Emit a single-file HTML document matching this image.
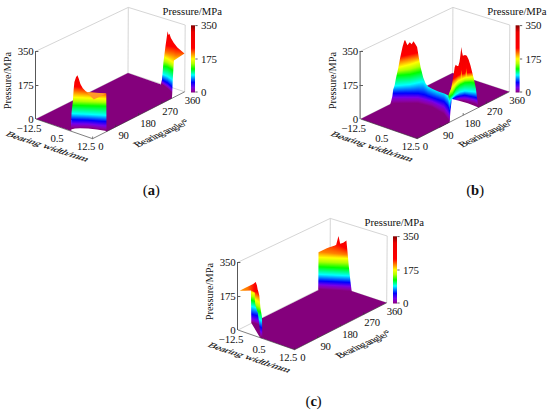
<!DOCTYPE html>
<html lang="en">
<head>
<meta charset="utf-8">
<title>Pressure distribution</title>
<style>
html,body{margin:0;padding:0;background:#fff;}
body{width:550px;height:412px;overflow:hidden;}
svg{display:block;font-family:'Liberation Serif', 'DejaVu Serif', serif;fill:#111;}
</style>
</head>
<body>
<svg width="550" height="412" viewBox="0 0 550 412">
<defs>
<linearGradient id="cbar" x1="0" y1="0" x2="0" y2="1"><stop offset="0.000" stop-color="#800000"/><stop offset="0.100" stop-color="#ec0000"/><stop offset="0.340" stop-color="#ff0000"/><stop offset="0.420" stop-color="#ff8000"/><stop offset="0.500" stop-color="#ffff00"/><stop offset="0.570" stop-color="#afff00"/><stop offset="0.650" stop-color="#00ff00"/><stop offset="0.740" stop-color="#00ffff"/><stop offset="0.850" stop-color="#0000ff"/><stop offset="0.925" stop-color="#7600eb"/><stop offset="0.970" stop-color="#8c00aa"/><stop offset="1.000" stop-color="#84007c"/></linearGradient>
<clipPath id="c_a1"><polygon points="70.8,129.5 71.6,112.0 72.8,102.0 73.6,90.0 74.4,82.0 76.0,77.2 77.4,75.2 78.8,78.8 80.4,84.0 82.8,88.2 86.0,91.6 88.5,92.6 106.3,93.6 106.5,131.0 97.0,129.6 88.2,128.5 80.0,128.2 75.0,128.6 70.8,129.5"/></clipPath>
<linearGradient id="g1" gradientUnits="userSpaceOnUse" x1="0" y1="74" x2="0" y2="132"><stop offset="0.000" stop-color="#800000"/><stop offset="0.000" stop-color="#ec0000"/><stop offset="0.000" stop-color="#ef0000"/><stop offset="0.210" stop-color="#ff0000"/><stop offset="0.300" stop-color="#ff8000"/><stop offset="0.400" stop-color="#ffff00"/><stop offset="0.465" stop-color="#afff00"/><stop offset="0.540" stop-color="#00ff00"/><stop offset="0.681" stop-color="#00ffff"/><stop offset="0.786" stop-color="#0000ff"/><stop offset="0.858" stop-color="#7600eb"/><stop offset="0.872" stop-color="#7d00d5"/><stop offset="0.907" stop-color="#8c00aa"/><stop offset="0.941" stop-color="#84007c"/></linearGradient>
<linearGradient id="g2" gradientUnits="userSpaceOnUse" x1="0" y1="74" x2="0" y2="132"><stop offset="0.000" stop-color="#800000"/><stop offset="0.000" stop-color="#ec0000"/><stop offset="0.000" stop-color="#ef0000"/><stop offset="0.211" stop-color="#ff0000"/><stop offset="0.301" stop-color="#ff8000"/><stop offset="0.400" stop-color="#ffff00"/><stop offset="0.466" stop-color="#afff00"/><stop offset="0.540" stop-color="#00ff00"/><stop offset="0.681" stop-color="#00ffff"/><stop offset="0.787" stop-color="#0000ff"/><stop offset="0.858" stop-color="#7600eb"/><stop offset="0.873" stop-color="#7d00d5"/><stop offset="0.907" stop-color="#8c00aa"/><stop offset="0.941" stop-color="#84007c"/></linearGradient>
<linearGradient id="g3" gradientUnits="userSpaceOnUse" x1="0" y1="74" x2="0" y2="132"><stop offset="0.000" stop-color="#800000"/><stop offset="0.000" stop-color="#ec0000"/><stop offset="0.000" stop-color="#ef0000"/><stop offset="0.213" stop-color="#ff0000"/><stop offset="0.303" stop-color="#ff8000"/><stop offset="0.401" stop-color="#ffff00"/><stop offset="0.466" stop-color="#afff00"/><stop offset="0.540" stop-color="#00ff00"/><stop offset="0.682" stop-color="#00ffff"/><stop offset="0.787" stop-color="#0000ff"/><stop offset="0.858" stop-color="#7600eb"/><stop offset="0.873" stop-color="#7d00d5"/><stop offset="0.907" stop-color="#8c00aa"/><stop offset="0.940" stop-color="#84007c"/></linearGradient>
<linearGradient id="g4" gradientUnits="userSpaceOnUse" x1="0" y1="74" x2="0" y2="132"><stop offset="0.000" stop-color="#800000"/><stop offset="0.000" stop-color="#ec0000"/><stop offset="0.000" stop-color="#ef0000"/><stop offset="0.215" stop-color="#ff0000"/><stop offset="0.305" stop-color="#ff8000"/><stop offset="0.402" stop-color="#ffff00"/><stop offset="0.467" stop-color="#afff00"/><stop offset="0.541" stop-color="#00ff00"/><stop offset="0.683" stop-color="#00ffff"/><stop offset="0.788" stop-color="#0000ff"/><stop offset="0.859" stop-color="#7600eb"/><stop offset="0.873" stop-color="#7d00d5"/><stop offset="0.906" stop-color="#8c00aa"/><stop offset="0.940" stop-color="#84007c"/></linearGradient>
<linearGradient id="g5" gradientUnits="userSpaceOnUse" x1="0" y1="74" x2="0" y2="132"><stop offset="0.000" stop-color="#800000"/><stop offset="0.000" stop-color="#ec0000"/><stop offset="0.000" stop-color="#ef0000"/><stop offset="0.217" stop-color="#ff0000"/><stop offset="0.307" stop-color="#ff8000"/><stop offset="0.403" stop-color="#ffff00"/><stop offset="0.468" stop-color="#afff00"/><stop offset="0.541" stop-color="#00ff00"/><stop offset="0.684" stop-color="#00ffff"/><stop offset="0.788" stop-color="#0000ff"/><stop offset="0.859" stop-color="#7600eb"/><stop offset="0.873" stop-color="#7d00d5"/><stop offset="0.906" stop-color="#8c00aa"/><stop offset="0.939" stop-color="#84007c"/></linearGradient>
<linearGradient id="g6" gradientUnits="userSpaceOnUse" x1="0" y1="74" x2="0" y2="132"><stop offset="0.000" stop-color="#800000"/><stop offset="0.000" stop-color="#ec0000"/><stop offset="0.000" stop-color="#ef0000"/><stop offset="0.219" stop-color="#ff0000"/><stop offset="0.309" stop-color="#ff8000"/><stop offset="0.404" stop-color="#ffff00"/><stop offset="0.468" stop-color="#afff00"/><stop offset="0.542" stop-color="#00ff00"/><stop offset="0.685" stop-color="#00ffff"/><stop offset="0.789" stop-color="#0000ff"/><stop offset="0.859" stop-color="#7600eb"/><stop offset="0.873" stop-color="#7d00d5"/><stop offset="0.906" stop-color="#8c00aa"/><stop offset="0.939" stop-color="#84007c"/></linearGradient>
<linearGradient id="g7" gradientUnits="userSpaceOnUse" x1="0" y1="74" x2="0" y2="132"><stop offset="0.000" stop-color="#800000"/><stop offset="0.000" stop-color="#ec0000"/><stop offset="0.000" stop-color="#ef0000"/><stop offset="0.220" stop-color="#ff0000"/><stop offset="0.311" stop-color="#ff8000"/><stop offset="0.404" stop-color="#ffff00"/><stop offset="0.469" stop-color="#afff00"/><stop offset="0.542" stop-color="#00ff00"/><stop offset="0.685" stop-color="#00ffff"/><stop offset="0.790" stop-color="#0000ff"/><stop offset="0.860" stop-color="#7600eb"/><stop offset="0.874" stop-color="#7d00d5"/><stop offset="0.906" stop-color="#8c00aa"/><stop offset="0.938" stop-color="#84007c"/></linearGradient>
<linearGradient id="g8" gradientUnits="userSpaceOnUse" x1="0" y1="74" x2="0" y2="132"><stop offset="0.000" stop-color="#800000"/><stop offset="0.000" stop-color="#ec0000"/><stop offset="0.000" stop-color="#ef0000"/><stop offset="0.222" stop-color="#ff0000"/><stop offset="0.313" stop-color="#ff8000"/><stop offset="0.405" stop-color="#ffff00"/><stop offset="0.470" stop-color="#afff00"/><stop offset="0.543" stop-color="#00ff00"/><stop offset="0.686" stop-color="#00ffff"/><stop offset="0.790" stop-color="#0000ff"/><stop offset="0.860" stop-color="#7600eb"/><stop offset="0.874" stop-color="#7d00d5"/><stop offset="0.906" stop-color="#8c00aa"/><stop offset="0.937" stop-color="#84007c"/></linearGradient>
<linearGradient id="g9" gradientUnits="userSpaceOnUse" x1="0" y1="74" x2="0" y2="132"><stop offset="0.000" stop-color="#800000"/><stop offset="0.000" stop-color="#ec0000"/><stop offset="0.000" stop-color="#ef0000"/><stop offset="0.224" stop-color="#ff0000"/><stop offset="0.315" stop-color="#ff8000"/><stop offset="0.406" stop-color="#ffff00"/><stop offset="0.470" stop-color="#afff00"/><stop offset="0.543" stop-color="#00ff00"/><stop offset="0.687" stop-color="#00ffff"/><stop offset="0.791" stop-color="#0000ff"/><stop offset="0.860" stop-color="#7600eb"/><stop offset="0.874" stop-color="#7d00d5"/><stop offset="0.905" stop-color="#8c00aa"/><stop offset="0.937" stop-color="#84007c"/></linearGradient>
<linearGradient id="g10" gradientUnits="userSpaceOnUse" x1="0" y1="74" x2="0" y2="132"><stop offset="0.000" stop-color="#800000"/><stop offset="0.000" stop-color="#ec0000"/><stop offset="0.000" stop-color="#ef0000"/><stop offset="0.226" stop-color="#ff0000"/><stop offset="0.317" stop-color="#ff8000"/><stop offset="0.407" stop-color="#ffff00"/><stop offset="0.471" stop-color="#afff00"/><stop offset="0.544" stop-color="#00ff00"/><stop offset="0.688" stop-color="#00ffff"/><stop offset="0.791" stop-color="#0000ff"/><stop offset="0.860" stop-color="#7600eb"/><stop offset="0.874" stop-color="#7d00d5"/><stop offset="0.905" stop-color="#8c00aa"/><stop offset="0.936" stop-color="#84007c"/></linearGradient>
<linearGradient id="g11" gradientUnits="userSpaceOnUse" x1="0" y1="74" x2="0" y2="132"><stop offset="0.000" stop-color="#800000"/><stop offset="0.000" stop-color="#ec0000"/><stop offset="0.000" stop-color="#ef0000"/><stop offset="0.228" stop-color="#ff0000"/><stop offset="0.319" stop-color="#ff8000"/><stop offset="0.408" stop-color="#ffff00"/><stop offset="0.472" stop-color="#afff00"/><stop offset="0.544" stop-color="#00ff00"/><stop offset="0.689" stop-color="#00ffff"/><stop offset="0.792" stop-color="#0000ff"/><stop offset="0.861" stop-color="#7600eb"/><stop offset="0.874" stop-color="#7d00d5"/><stop offset="0.905" stop-color="#8c00aa"/><stop offset="0.936" stop-color="#84007c"/></linearGradient>
<linearGradient id="g12" gradientUnits="userSpaceOnUse" x1="0" y1="74" x2="0" y2="132"><stop offset="0.000" stop-color="#800000"/><stop offset="0.000" stop-color="#ec0000"/><stop offset="0.000" stop-color="#ef0000"/><stop offset="0.230" stop-color="#ff0000"/><stop offset="0.321" stop-color="#ff8000"/><stop offset="0.409" stop-color="#ffff00"/><stop offset="0.472" stop-color="#afff00"/><stop offset="0.545" stop-color="#00ff00"/><stop offset="0.690" stop-color="#00ffff"/><stop offset="0.793" stop-color="#0000ff"/><stop offset="0.861" stop-color="#7600eb"/><stop offset="0.875" stop-color="#7d00d5"/><stop offset="0.905" stop-color="#8c00aa"/><stop offset="0.935" stop-color="#84007c"/></linearGradient>
<linearGradient id="g13" gradientUnits="userSpaceOnUse" x1="0" y1="74" x2="0" y2="132"><stop offset="0.000" stop-color="#800000"/><stop offset="0.000" stop-color="#ec0000"/><stop offset="0.000" stop-color="#ef0000"/><stop offset="0.231" stop-color="#ff0000"/><stop offset="0.323" stop-color="#ff8000"/><stop offset="0.409" stop-color="#ffff00"/><stop offset="0.473" stop-color="#afff00"/><stop offset="0.545" stop-color="#00ff00"/><stop offset="0.690" stop-color="#00ffff"/><stop offset="0.793" stop-color="#0000ff"/><stop offset="0.861" stop-color="#7600eb"/><stop offset="0.875" stop-color="#7d00d5"/><stop offset="0.905" stop-color="#8c00aa"/><stop offset="0.934" stop-color="#84007c"/></linearGradient>
<linearGradient id="g14" gradientUnits="userSpaceOnUse" x1="0" y1="74" x2="0" y2="132"><stop offset="0.000" stop-color="#800000"/><stop offset="0.000" stop-color="#ec0000"/><stop offset="0.000" stop-color="#ef0000"/><stop offset="0.233" stop-color="#ff0000"/><stop offset="0.325" stop-color="#ff8000"/><stop offset="0.410" stop-color="#ffff00"/><stop offset="0.474" stop-color="#afff00"/><stop offset="0.546" stop-color="#00ff00"/><stop offset="0.691" stop-color="#00ffff"/><stop offset="0.794" stop-color="#0000ff"/><stop offset="0.861" stop-color="#7600eb"/><stop offset="0.875" stop-color="#7d00d5"/><stop offset="0.904" stop-color="#8c00aa"/><stop offset="0.934" stop-color="#84007c"/></linearGradient>
<linearGradient id="g15" gradientUnits="userSpaceOnUse" x1="0" y1="74" x2="0" y2="132"><stop offset="0.000" stop-color="#800000"/><stop offset="0.000" stop-color="#ec0000"/><stop offset="0.000" stop-color="#ef0000"/><stop offset="0.235" stop-color="#ff0000"/><stop offset="0.327" stop-color="#ff8000"/><stop offset="0.411" stop-color="#ffff00"/><stop offset="0.474" stop-color="#afff00"/><stop offset="0.547" stop-color="#00ff00"/><stop offset="0.692" stop-color="#00ffff"/><stop offset="0.794" stop-color="#0000ff"/><stop offset="0.862" stop-color="#7600eb"/><stop offset="0.875" stop-color="#7d00d5"/><stop offset="0.904" stop-color="#8c00aa"/><stop offset="0.933" stop-color="#84007c"/></linearGradient>
<linearGradient id="g16" gradientUnits="userSpaceOnUse" x1="0" y1="74" x2="0" y2="132"><stop offset="0.000" stop-color="#800000"/><stop offset="0.000" stop-color="#ec0000"/><stop offset="0.000" stop-color="#ef0000"/><stop offset="0.237" stop-color="#ff0000"/><stop offset="0.329" stop-color="#ff8000"/><stop offset="0.412" stop-color="#ffff00"/><stop offset="0.475" stop-color="#afff00"/><stop offset="0.547" stop-color="#00ff00"/><stop offset="0.693" stop-color="#00ffff"/><stop offset="0.795" stop-color="#0000ff"/><stop offset="0.862" stop-color="#7600eb"/><stop offset="0.875" stop-color="#7d00d5"/><stop offset="0.904" stop-color="#8c00aa"/><stop offset="0.933" stop-color="#84007c"/></linearGradient>
<linearGradient id="g17" gradientUnits="userSpaceOnUse" x1="0" y1="74" x2="0" y2="132"><stop offset="0.000" stop-color="#800000"/><stop offset="0.000" stop-color="#ec0000"/><stop offset="0.000" stop-color="#ef0000"/><stop offset="0.239" stop-color="#ff0000"/><stop offset="0.331" stop-color="#ff8000"/><stop offset="0.413" stop-color="#ffff00"/><stop offset="0.476" stop-color="#afff00"/><stop offset="0.548" stop-color="#00ff00"/><stop offset="0.694" stop-color="#00ffff"/><stop offset="0.796" stop-color="#0000ff"/><stop offset="0.862" stop-color="#7600eb"/><stop offset="0.876" stop-color="#7d00d5"/><stop offset="0.904" stop-color="#8c00aa"/><stop offset="0.932" stop-color="#84007c"/></linearGradient>
<linearGradient id="g18" gradientUnits="userSpaceOnUse" x1="0" y1="74" x2="0" y2="132"><stop offset="0.000" stop-color="#800000"/><stop offset="0.000" stop-color="#ec0000"/><stop offset="0.000" stop-color="#ef0000"/><stop offset="0.240" stop-color="#ff0000"/><stop offset="0.333" stop-color="#ff8000"/><stop offset="0.413" stop-color="#ffff00"/><stop offset="0.476" stop-color="#afff00"/><stop offset="0.548" stop-color="#00ff00"/><stop offset="0.694" stop-color="#00ffff"/><stop offset="0.796" stop-color="#0000ff"/><stop offset="0.863" stop-color="#7600eb"/><stop offset="0.876" stop-color="#7d00d5"/><stop offset="0.904" stop-color="#8c00aa"/><stop offset="0.931" stop-color="#84007c"/></linearGradient>
<linearGradient id="g19" gradientUnits="userSpaceOnUse" x1="0" y1="74" x2="0" y2="132"><stop offset="0.000" stop-color="#800000"/><stop offset="0.000" stop-color="#ec0000"/><stop offset="0.000" stop-color="#ef0000"/><stop offset="0.242" stop-color="#ff0000"/><stop offset="0.335" stop-color="#ff8000"/><stop offset="0.414" stop-color="#ffff00"/><stop offset="0.477" stop-color="#afff00"/><stop offset="0.548" stop-color="#00ff00"/><stop offset="0.695" stop-color="#00ffff"/><stop offset="0.797" stop-color="#0000ff"/><stop offset="0.864" stop-color="#7600eb"/><stop offset="0.877" stop-color="#7d00d5"/><stop offset="0.905" stop-color="#8c00aa"/><stop offset="0.932" stop-color="#84007c"/></linearGradient>
<linearGradient id="g20" gradientUnits="userSpaceOnUse" x1="0" y1="74" x2="0" y2="132"><stop offset="0.000" stop-color="#800000"/><stop offset="0.000" stop-color="#ec0000"/><stop offset="0.000" stop-color="#ef0000"/><stop offset="0.244" stop-color="#ff0000"/><stop offset="0.337" stop-color="#ff8000"/><stop offset="0.415" stop-color="#ffff00"/><stop offset="0.478" stop-color="#afff00"/><stop offset="0.549" stop-color="#00ff00"/><stop offset="0.696" stop-color="#00ffff"/><stop offset="0.799" stop-color="#0000ff"/><stop offset="0.865" stop-color="#7600eb"/><stop offset="0.879" stop-color="#7d00d5"/><stop offset="0.907" stop-color="#8c00aa"/><stop offset="0.934" stop-color="#84007c"/></linearGradient>
<linearGradient id="g21" gradientUnits="userSpaceOnUse" x1="0" y1="74" x2="0" y2="132"><stop offset="0.000" stop-color="#800000"/><stop offset="0.000" stop-color="#ec0000"/><stop offset="0.000" stop-color="#ef0000"/><stop offset="0.246" stop-color="#ff0000"/><stop offset="0.338" stop-color="#ff8000"/><stop offset="0.416" stop-color="#ffff00"/><stop offset="0.478" stop-color="#afff00"/><stop offset="0.549" stop-color="#00ff00"/><stop offset="0.697" stop-color="#00ffff"/><stop offset="0.800" stop-color="#0000ff"/><stop offset="0.867" stop-color="#7600eb"/><stop offset="0.881" stop-color="#7d00d5"/><stop offset="0.909" stop-color="#8c00aa"/><stop offset="0.937" stop-color="#84007c"/></linearGradient>
<linearGradient id="g22" gradientUnits="userSpaceOnUse" x1="0" y1="74" x2="0" y2="132"><stop offset="0.000" stop-color="#800000"/><stop offset="0.000" stop-color="#ec0000"/><stop offset="0.000" stop-color="#ef0000"/><stop offset="0.248" stop-color="#ff0000"/><stop offset="0.340" stop-color="#ff8000"/><stop offset="0.417" stop-color="#ffff00"/><stop offset="0.479" stop-color="#afff00"/><stop offset="0.550" stop-color="#00ff00"/><stop offset="0.698" stop-color="#00ffff"/><stop offset="0.801" stop-color="#0000ff"/><stop offset="0.869" stop-color="#7600eb"/><stop offset="0.883" stop-color="#7d00d5"/><stop offset="0.911" stop-color="#8c00aa"/><stop offset="0.939" stop-color="#84007c"/></linearGradient>
<linearGradient id="g23" gradientUnits="userSpaceOnUse" x1="0" y1="74" x2="0" y2="132"><stop offset="0.000" stop-color="#800000"/><stop offset="0.000" stop-color="#ec0000"/><stop offset="0.000" stop-color="#ef0000"/><stop offset="0.250" stop-color="#ff0000"/><stop offset="0.341" stop-color="#ff8000"/><stop offset="0.418" stop-color="#ffff00"/><stop offset="0.479" stop-color="#afff00"/><stop offset="0.550" stop-color="#00ff00"/><stop offset="0.699" stop-color="#00ffff"/><stop offset="0.803" stop-color="#0000ff"/><stop offset="0.871" stop-color="#7600eb"/><stop offset="0.884" stop-color="#7d00d5"/><stop offset="0.913" stop-color="#8c00aa"/><stop offset="0.941" stop-color="#84007c"/></linearGradient>
<linearGradient id="g24" gradientUnits="userSpaceOnUse" x1="0" y1="74" x2="0" y2="132"><stop offset="0.000" stop-color="#800000"/><stop offset="0.000" stop-color="#ec0000"/><stop offset="0.000" stop-color="#ef0000"/><stop offset="0.252" stop-color="#ff0000"/><stop offset="0.343" stop-color="#ff8000"/><stop offset="0.419" stop-color="#ffff00"/><stop offset="0.480" stop-color="#afff00"/><stop offset="0.550" stop-color="#00ff00"/><stop offset="0.700" stop-color="#00ffff"/><stop offset="0.804" stop-color="#0000ff"/><stop offset="0.873" stop-color="#7600eb"/><stop offset="0.886" stop-color="#7d00d5"/><stop offset="0.915" stop-color="#8c00aa"/><stop offset="0.944" stop-color="#84007c"/></linearGradient>
<linearGradient id="g25" gradientUnits="userSpaceOnUse" x1="0" y1="74" x2="0" y2="132"><stop offset="0.000" stop-color="#800000"/><stop offset="0.000" stop-color="#ec0000"/><stop offset="0.000" stop-color="#ef0000"/><stop offset="0.254" stop-color="#ff0000"/><stop offset="0.344" stop-color="#ff8000"/><stop offset="0.419" stop-color="#ffff00"/><stop offset="0.481" stop-color="#afff00"/><stop offset="0.551" stop-color="#00ff00"/><stop offset="0.701" stop-color="#00ffff"/><stop offset="0.805" stop-color="#0000ff"/><stop offset="0.874" stop-color="#7600eb"/><stop offset="0.888" stop-color="#7d00d5"/><stop offset="0.917" stop-color="#8c00aa"/><stop offset="0.946" stop-color="#84007c"/></linearGradient>
<linearGradient id="g26" gradientUnits="userSpaceOnUse" x1="0" y1="74" x2="0" y2="132"><stop offset="0.000" stop-color="#800000"/><stop offset="0.000" stop-color="#ec0000"/><stop offset="0.000" stop-color="#ef0000"/><stop offset="0.256" stop-color="#ff0000"/><stop offset="0.346" stop-color="#ff8000"/><stop offset="0.420" stop-color="#ffff00"/><stop offset="0.481" stop-color="#afff00"/><stop offset="0.551" stop-color="#00ff00"/><stop offset="0.702" stop-color="#00ffff"/><stop offset="0.807" stop-color="#0000ff"/><stop offset="0.876" stop-color="#7600eb"/><stop offset="0.890" stop-color="#7d00d5"/><stop offset="0.919" stop-color="#8c00aa"/><stop offset="0.948" stop-color="#84007c"/></linearGradient>
<linearGradient id="g27" gradientUnits="userSpaceOnUse" x1="0" y1="74" x2="0" y2="132"><stop offset="0.000" stop-color="#800000"/><stop offset="0.000" stop-color="#ec0000"/><stop offset="0.000" stop-color="#ef0000"/><stop offset="0.258" stop-color="#ff0000"/><stop offset="0.348" stop-color="#ff8000"/><stop offset="0.421" stop-color="#ffff00"/><stop offset="0.482" stop-color="#afff00"/><stop offset="0.552" stop-color="#00ff00"/><stop offset="0.703" stop-color="#00ffff"/><stop offset="0.808" stop-color="#0000ff"/><stop offset="0.878" stop-color="#7600eb"/><stop offset="0.892" stop-color="#7d00d5"/><stop offset="0.921" stop-color="#8c00aa"/><stop offset="0.951" stop-color="#84007c"/></linearGradient>
<linearGradient id="g28" gradientUnits="userSpaceOnUse" x1="0" y1="74" x2="0" y2="132"><stop offset="0.000" stop-color="#800000"/><stop offset="0.000" stop-color="#ec0000"/><stop offset="0.000" stop-color="#ef0000"/><stop offset="0.260" stop-color="#ff0000"/><stop offset="0.349" stop-color="#ff8000"/><stop offset="0.422" stop-color="#ffff00"/><stop offset="0.483" stop-color="#afff00"/><stop offset="0.552" stop-color="#00ff00"/><stop offset="0.704" stop-color="#00ffff"/><stop offset="0.809" stop-color="#0000ff"/><stop offset="0.880" stop-color="#7600eb"/><stop offset="0.894" stop-color="#7d00d5"/><stop offset="0.923" stop-color="#8c00aa"/><stop offset="0.953" stop-color="#84007c"/></linearGradient>
<linearGradient id="g29" gradientUnits="userSpaceOnUse" x1="0" y1="74" x2="0" y2="132"><stop offset="0.000" stop-color="#800000"/><stop offset="0.000" stop-color="#ec0000"/><stop offset="0.000" stop-color="#ef0000"/><stop offset="0.261" stop-color="#ff0000"/><stop offset="0.351" stop-color="#ff8000"/><stop offset="0.423" stop-color="#ffff00"/><stop offset="0.483" stop-color="#afff00"/><stop offset="0.552" stop-color="#00ff00"/><stop offset="0.705" stop-color="#00ffff"/><stop offset="0.811" stop-color="#0000ff"/><stop offset="0.882" stop-color="#7600eb"/><stop offset="0.896" stop-color="#7d00d5"/><stop offset="0.926" stop-color="#8c00aa"/><stop offset="0.955" stop-color="#84007c"/></linearGradient>
<linearGradient id="g30" gradientUnits="userSpaceOnUse" x1="0" y1="74" x2="0" y2="132"><stop offset="0.000" stop-color="#800000"/><stop offset="0.000" stop-color="#ec0000"/><stop offset="0.000" stop-color="#ef0000"/><stop offset="0.263" stop-color="#ff0000"/><stop offset="0.352" stop-color="#ff8000"/><stop offset="0.424" stop-color="#ffff00"/><stop offset="0.484" stop-color="#afff00"/><stop offset="0.553" stop-color="#00ff00"/><stop offset="0.706" stop-color="#00ffff"/><stop offset="0.812" stop-color="#0000ff"/><stop offset="0.884" stop-color="#7600eb"/><stop offset="0.898" stop-color="#7d00d5"/><stop offset="0.928" stop-color="#8c00aa"/><stop offset="0.957" stop-color="#84007c"/></linearGradient>
<linearGradient id="g31" gradientUnits="userSpaceOnUse" x1="0" y1="74" x2="0" y2="132"><stop offset="0.000" stop-color="#800000"/><stop offset="0.000" stop-color="#ec0000"/><stop offset="0.000" stop-color="#ef0000"/><stop offset="0.265" stop-color="#ff0000"/><stop offset="0.354" stop-color="#ff8000"/><stop offset="0.425" stop-color="#ffff00"/><stop offset="0.485" stop-color="#afff00"/><stop offset="0.553" stop-color="#00ff00"/><stop offset="0.707" stop-color="#00ffff"/><stop offset="0.813" stop-color="#0000ff"/><stop offset="0.885" stop-color="#7600eb"/><stop offset="0.900" stop-color="#7d00d5"/><stop offset="0.930" stop-color="#8c00aa"/><stop offset="0.960" stop-color="#84007c"/></linearGradient>
<linearGradient id="g32" gradientUnits="userSpaceOnUse" x1="0" y1="74" x2="0" y2="132"><stop offset="0.000" stop-color="#800000"/><stop offset="0.000" stop-color="#ec0000"/><stop offset="0.000" stop-color="#ef0000"/><stop offset="0.267" stop-color="#ff0000"/><stop offset="0.355" stop-color="#ff8000"/><stop offset="0.425" stop-color="#ffff00"/><stop offset="0.485" stop-color="#afff00"/><stop offset="0.553" stop-color="#00ff00"/><stop offset="0.708" stop-color="#00ffff"/><stop offset="0.815" stop-color="#0000ff"/><stop offset="0.887" stop-color="#7600eb"/><stop offset="0.902" stop-color="#7d00d5"/><stop offset="0.932" stop-color="#8c00aa"/><stop offset="0.962" stop-color="#84007c"/></linearGradient>
<linearGradient id="g33" gradientUnits="userSpaceOnUse" x1="0" y1="74" x2="0" y2="132"><stop offset="0.000" stop-color="#800000"/><stop offset="0.000" stop-color="#ec0000"/><stop offset="0.000" stop-color="#ef0000"/><stop offset="0.269" stop-color="#ff0000"/><stop offset="0.357" stop-color="#ff8000"/><stop offset="0.426" stop-color="#ffff00"/><stop offset="0.486" stop-color="#afff00"/><stop offset="0.554" stop-color="#00ff00"/><stop offset="0.709" stop-color="#00ffff"/><stop offset="0.816" stop-color="#0000ff"/><stop offset="0.889" stop-color="#7600eb"/><stop offset="0.904" stop-color="#7d00d5"/><stop offset="0.934" stop-color="#8c00aa"/><stop offset="0.964" stop-color="#84007c"/></linearGradient>
<linearGradient id="g34" gradientUnits="userSpaceOnUse" x1="0" y1="74" x2="0" y2="132"><stop offset="0.000" stop-color="#800000"/><stop offset="0.000" stop-color="#ec0000"/><stop offset="0.000" stop-color="#ef0000"/><stop offset="0.271" stop-color="#ff0000"/><stop offset="0.358" stop-color="#ff8000"/><stop offset="0.427" stop-color="#ffff00"/><stop offset="0.486" stop-color="#afff00"/><stop offset="0.554" stop-color="#00ff00"/><stop offset="0.710" stop-color="#00ffff"/><stop offset="0.817" stop-color="#0000ff"/><stop offset="0.891" stop-color="#7600eb"/><stop offset="0.906" stop-color="#7d00d5"/><stop offset="0.936" stop-color="#8c00aa"/><stop offset="0.967" stop-color="#84007c"/></linearGradient>
<linearGradient id="g35" gradientUnits="userSpaceOnUse" x1="0" y1="74" x2="0" y2="132"><stop offset="0.000" stop-color="#800000"/><stop offset="0.000" stop-color="#ec0000"/><stop offset="0.000" stop-color="#ef0000"/><stop offset="0.273" stop-color="#ff0000"/><stop offset="0.360" stop-color="#ff8000"/><stop offset="0.428" stop-color="#ffff00"/><stop offset="0.487" stop-color="#afff00"/><stop offset="0.555" stop-color="#00ff00"/><stop offset="0.711" stop-color="#00ffff"/><stop offset="0.819" stop-color="#0000ff"/><stop offset="0.893" stop-color="#7600eb"/><stop offset="0.907" stop-color="#7d00d5"/><stop offset="0.938" stop-color="#8c00aa"/><stop offset="0.969" stop-color="#84007c"/></linearGradient>
<linearGradient id="g36" gradientUnits="userSpaceOnUse" x1="0" y1="74" x2="0" y2="132"><stop offset="0.000" stop-color="#800000"/><stop offset="0.000" stop-color="#ec0000"/><stop offset="0.000" stop-color="#ef0000"/><stop offset="0.275" stop-color="#ff0000"/><stop offset="0.361" stop-color="#ff8000"/><stop offset="0.429" stop-color="#ffff00"/><stop offset="0.488" stop-color="#afff00"/><stop offset="0.555" stop-color="#00ff00"/><stop offset="0.712" stop-color="#00ffff"/><stop offset="0.820" stop-color="#0000ff"/><stop offset="0.894" stop-color="#7600eb"/><stop offset="0.909" stop-color="#7d00d5"/><stop offset="0.940" stop-color="#8c00aa"/><stop offset="0.971" stop-color="#84007c"/></linearGradient>
<linearGradient id="g37" gradientUnits="userSpaceOnUse" x1="0" y1="74" x2="0" y2="132"><stop offset="0.000" stop-color="#800000"/><stop offset="0.000" stop-color="#ec0000"/><stop offset="0.000" stop-color="#ef0000"/><stop offset="0.276" stop-color="#ff0000"/><stop offset="0.362" stop-color="#ff8000"/><stop offset="0.429" stop-color="#ffff00"/><stop offset="0.488" stop-color="#afff00"/><stop offset="0.555" stop-color="#00ff00"/><stop offset="0.712" stop-color="#00ffff"/><stop offset="0.821" stop-color="#0000ff"/><stop offset="0.895" stop-color="#7600eb"/><stop offset="0.910" stop-color="#7d00d5"/><stop offset="0.941" stop-color="#8c00aa"/><stop offset="0.972" stop-color="#84007c"/></linearGradient>
<clipPath id="c_a2"><polygon points="161.0,84.5 161.5,83.0 162.1,79.2 163.4,62.4 165.3,47.4 167.6,31.2 168.5,35.0 169.4,33.8 170.9,38.1 173.7,42.8 177.4,47.4 181.2,50.8 184.5,53.4 173.9,60.6 172.8,79.2 172.2,94.2 171.8,98.4"/></clipPath>
<linearGradient id="g38" gradientUnits="userSpaceOnUse" x1="0" y1="30" x2="0" y2="100"><stop offset="0.000" stop-color="#800000"/><stop offset="0.000" stop-color="#ec0000"/><stop offset="0.000" stop-color="#ef0000"/><stop offset="0.196" stop-color="#ff0000"/><stop offset="0.303" stop-color="#ff8000"/><stop offset="0.373" stop-color="#ffff00"/><stop offset="0.437" stop-color="#afff00"/><stop offset="0.510" stop-color="#00ff00"/><stop offset="0.624" stop-color="#00ffff"/><stop offset="0.709" stop-color="#0000ff"/><stop offset="0.740" stop-color="#7600eb"/><stop offset="0.747" stop-color="#7d00d5"/><stop offset="0.759" stop-color="#8c00aa"/><stop offset="0.770" stop-color="#84007c"/></linearGradient>
<linearGradient id="g39" gradientUnits="userSpaceOnUse" x1="0" y1="30" x2="0" y2="100"><stop offset="0.000" stop-color="#800000"/><stop offset="0.000" stop-color="#ec0000"/><stop offset="0.000" stop-color="#ef0000"/><stop offset="0.204" stop-color="#ff0000"/><stop offset="0.309" stop-color="#ff8000"/><stop offset="0.377" stop-color="#ffff00"/><stop offset="0.440" stop-color="#afff00"/><stop offset="0.513" stop-color="#00ff00"/><stop offset="0.630" stop-color="#00ffff"/><stop offset="0.716" stop-color="#0000ff"/><stop offset="0.748" stop-color="#7600eb"/><stop offset="0.754" stop-color="#7d00d5"/><stop offset="0.767" stop-color="#8c00aa"/><stop offset="0.780" stop-color="#84007c"/></linearGradient>
<linearGradient id="g40" gradientUnits="userSpaceOnUse" x1="0" y1="30" x2="0" y2="100"><stop offset="0.000" stop-color="#800000"/><stop offset="0.000" stop-color="#ec0000"/><stop offset="0.000" stop-color="#ef0000"/><stop offset="0.211" stop-color="#ff0000"/><stop offset="0.314" stop-color="#ff8000"/><stop offset="0.381" stop-color="#ffff00"/><stop offset="0.444" stop-color="#afff00"/><stop offset="0.516" stop-color="#00ff00"/><stop offset="0.636" stop-color="#00ffff"/><stop offset="0.723" stop-color="#0000ff"/><stop offset="0.757" stop-color="#7600eb"/><stop offset="0.764" stop-color="#7d00d5"/><stop offset="0.778" stop-color="#8c00aa"/><stop offset="0.791" stop-color="#84007c"/></linearGradient>
<linearGradient id="g41" gradientUnits="userSpaceOnUse" x1="0" y1="30" x2="0" y2="100"><stop offset="0.000" stop-color="#800000"/><stop offset="0.000" stop-color="#ec0000"/><stop offset="0.000" stop-color="#ef0000"/><stop offset="0.216" stop-color="#ff0000"/><stop offset="0.319" stop-color="#ff8000"/><stop offset="0.388" stop-color="#ffff00"/><stop offset="0.449" stop-color="#afff00"/><stop offset="0.519" stop-color="#00ff00"/><stop offset="0.643" stop-color="#00ffff"/><stop offset="0.731" stop-color="#0000ff"/><stop offset="0.767" stop-color="#7600eb"/><stop offset="0.774" stop-color="#7d00d5"/><stop offset="0.788" stop-color="#8c00aa"/><stop offset="0.802" stop-color="#84007c"/></linearGradient>
<linearGradient id="g42" gradientUnits="userSpaceOnUse" x1="0" y1="30" x2="0" y2="100"><stop offset="0.000" stop-color="#800000"/><stop offset="0.000" stop-color="#ec0000"/><stop offset="0.000" stop-color="#ef0000"/><stop offset="0.218" stop-color="#ff0000"/><stop offset="0.323" stop-color="#ff8000"/><stop offset="0.395" stop-color="#ffff00"/><stop offset="0.454" stop-color="#afff00"/><stop offset="0.522" stop-color="#00ff00"/><stop offset="0.649" stop-color="#00ffff"/><stop offset="0.739" stop-color="#0000ff"/><stop offset="0.776" stop-color="#7600eb"/><stop offset="0.783" stop-color="#7d00d5"/><stop offset="0.798" stop-color="#8c00aa"/><stop offset="0.813" stop-color="#84007c"/></linearGradient>
<linearGradient id="g43" gradientUnits="userSpaceOnUse" x1="0" y1="30" x2="0" y2="100"><stop offset="0.000" stop-color="#800000"/><stop offset="0.000" stop-color="#ec0000"/><stop offset="0.000" stop-color="#ef0000"/><stop offset="0.221" stop-color="#ff0000"/><stop offset="0.327" stop-color="#ff8000"/><stop offset="0.402" stop-color="#ffff00"/><stop offset="0.459" stop-color="#afff00"/><stop offset="0.525" stop-color="#00ff00"/><stop offset="0.655" stop-color="#00ffff"/><stop offset="0.747" stop-color="#0000ff"/><stop offset="0.785" stop-color="#7600eb"/><stop offset="0.793" stop-color="#7d00d5"/><stop offset="0.809" stop-color="#8c00aa"/><stop offset="0.825" stop-color="#84007c"/></linearGradient>
<linearGradient id="g44" gradientUnits="userSpaceOnUse" x1="0" y1="30" x2="0" y2="100"><stop offset="0.000" stop-color="#800000"/><stop offset="0.000" stop-color="#ec0000"/><stop offset="0.000" stop-color="#ef0000"/><stop offset="0.224" stop-color="#ff0000"/><stop offset="0.331" stop-color="#ff8000"/><stop offset="0.409" stop-color="#ffff00"/><stop offset="0.465" stop-color="#afff00"/><stop offset="0.529" stop-color="#00ff00"/><stop offset="0.661" stop-color="#00ffff"/><stop offset="0.754" stop-color="#0000ff"/><stop offset="0.795" stop-color="#7600eb"/><stop offset="0.803" stop-color="#7d00d5"/><stop offset="0.819" stop-color="#8c00aa"/><stop offset="0.836" stop-color="#84007c"/></linearGradient>
<linearGradient id="g45" gradientUnits="userSpaceOnUse" x1="0" y1="30" x2="0" y2="100"><stop offset="0.000" stop-color="#800000"/><stop offset="0.000" stop-color="#ec0000"/><stop offset="0.000" stop-color="#ef0000"/><stop offset="0.226" stop-color="#ff0000"/><stop offset="0.335" stop-color="#ff8000"/><stop offset="0.418" stop-color="#ffff00"/><stop offset="0.474" stop-color="#afff00"/><stop offset="0.537" stop-color="#00ff00"/><stop offset="0.671" stop-color="#00ffff"/><stop offset="0.767" stop-color="#0000ff"/><stop offset="0.807" stop-color="#7600eb"/><stop offset="0.815" stop-color="#7d00d5"/><stop offset="0.832" stop-color="#8c00aa"/><stop offset="0.849" stop-color="#84007c"/></linearGradient>
<linearGradient id="g46" gradientUnits="userSpaceOnUse" x1="0" y1="30" x2="0" y2="100"><stop offset="0.000" stop-color="#800000"/><stop offset="0.000" stop-color="#ec0000"/><stop offset="0.000" stop-color="#ef0000"/><stop offset="0.229" stop-color="#ff0000"/><stop offset="0.339" stop-color="#ff8000"/><stop offset="0.427" stop-color="#ffff00"/><stop offset="0.483" stop-color="#afff00"/><stop offset="0.546" stop-color="#00ff00"/><stop offset="0.681" stop-color="#00ffff"/><stop offset="0.780" stop-color="#0000ff"/><stop offset="0.820" stop-color="#7600eb"/><stop offset="0.828" stop-color="#7d00d5"/><stop offset="0.845" stop-color="#8c00aa"/><stop offset="0.862" stop-color="#84007c"/></linearGradient>
<linearGradient id="g47" gradientUnits="userSpaceOnUse" x1="0" y1="30" x2="0" y2="100"><stop offset="0.000" stop-color="#800000"/><stop offset="0.000" stop-color="#ec0000"/><stop offset="0.000" stop-color="#ef0000"/><stop offset="0.232" stop-color="#ff0000"/><stop offset="0.343" stop-color="#ff8000"/><stop offset="0.437" stop-color="#ffff00"/><stop offset="0.492" stop-color="#afff00"/><stop offset="0.554" stop-color="#00ff00"/><stop offset="0.691" stop-color="#00ffff"/><stop offset="0.792" stop-color="#0000ff"/><stop offset="0.832" stop-color="#7600eb"/><stop offset="0.840" stop-color="#7d00d5"/><stop offset="0.858" stop-color="#8c00aa"/><stop offset="0.875" stop-color="#84007c"/></linearGradient>
<linearGradient id="g48" gradientUnits="userSpaceOnUse" x1="0" y1="30" x2="0" y2="100"><stop offset="0.000" stop-color="#800000"/><stop offset="0.000" stop-color="#ec0000"/><stop offset="0.001" stop-color="#ef0000"/><stop offset="0.235" stop-color="#ff0000"/><stop offset="0.346" stop-color="#ff8000"/><stop offset="0.446" stop-color="#ffff00"/><stop offset="0.501" stop-color="#afff00"/><stop offset="0.563" stop-color="#00ff00"/><stop offset="0.701" stop-color="#00ffff"/><stop offset="0.805" stop-color="#0000ff"/><stop offset="0.845" stop-color="#7600eb"/><stop offset="0.853" stop-color="#7d00d5"/><stop offset="0.871" stop-color="#8c00aa"/><stop offset="0.889" stop-color="#84007c"/></linearGradient>
<linearGradient id="g49" gradientUnits="userSpaceOnUse" x1="0" y1="30" x2="0" y2="100"><stop offset="0.000" stop-color="#800000"/><stop offset="0.000" stop-color="#ec0000"/><stop offset="0.005" stop-color="#ef0000"/><stop offset="0.237" stop-color="#ff0000"/><stop offset="0.350" stop-color="#ff8000"/><stop offset="0.455" stop-color="#ffff00"/><stop offset="0.510" stop-color="#afff00"/><stop offset="0.571" stop-color="#00ff00"/><stop offset="0.711" stop-color="#00ffff"/><stop offset="0.818" stop-color="#0000ff"/><stop offset="0.857" stop-color="#7600eb"/><stop offset="0.865" stop-color="#7d00d5"/><stop offset="0.884" stop-color="#8c00aa"/><stop offset="0.902" stop-color="#84007c"/></linearGradient>
<linearGradient id="g50" gradientUnits="userSpaceOnUse" x1="0" y1="30" x2="0" y2="100"><stop offset="0.000" stop-color="#800000"/><stop offset="0.000" stop-color="#ec0000"/><stop offset="0.009" stop-color="#ef0000"/><stop offset="0.240" stop-color="#ff0000"/><stop offset="0.354" stop-color="#ff8000"/><stop offset="0.464" stop-color="#ffff00"/><stop offset="0.518" stop-color="#afff00"/><stop offset="0.580" stop-color="#00ff00"/><stop offset="0.721" stop-color="#00ffff"/><stop offset="0.831" stop-color="#0000ff"/><stop offset="0.871" stop-color="#7600eb"/><stop offset="0.879" stop-color="#7d00d5"/><stop offset="0.897" stop-color="#8c00aa"/><stop offset="0.915" stop-color="#84007c"/></linearGradient>
<linearGradient id="g51" gradientUnits="userSpaceOnUse" x1="0" y1="30" x2="0" y2="100"><stop offset="0.000" stop-color="#800000"/><stop offset="0.000" stop-color="#ec0000"/><stop offset="0.014" stop-color="#ef0000"/><stop offset="0.244" stop-color="#ff0000"/><stop offset="0.361" stop-color="#ff8000"/><stop offset="0.473" stop-color="#ffff00"/><stop offset="0.527" stop-color="#afff00"/><stop offset="0.590" stop-color="#00ff00"/><stop offset="0.732" stop-color="#00ffff"/><stop offset="0.845" stop-color="#0000ff"/><stop offset="0.885" stop-color="#7600eb"/><stop offset="0.893" stop-color="#7d00d5"/><stop offset="0.911" stop-color="#8c00aa"/><stop offset="0.929" stop-color="#84007c"/></linearGradient>
<linearGradient id="g52" gradientUnits="userSpaceOnUse" x1="0" y1="30" x2="0" y2="100"><stop offset="0.000" stop-color="#800000"/><stop offset="0.000" stop-color="#ec0000"/><stop offset="0.018" stop-color="#ef0000"/><stop offset="0.249" stop-color="#ff0000"/><stop offset="0.368" stop-color="#ff8000"/><stop offset="0.460" stop-color="#ffff00"/><stop offset="0.523" stop-color="#afff00"/><stop offset="0.594" stop-color="#00ff00"/><stop offset="0.737" stop-color="#00ffff"/><stop offset="0.851" stop-color="#0000ff"/><stop offset="0.892" stop-color="#7600eb"/><stop offset="0.900" stop-color="#7d00d5"/><stop offset="0.918" stop-color="#8c00aa"/><stop offset="0.936" stop-color="#84007c"/></linearGradient>
<linearGradient id="g53" gradientUnits="userSpaceOnUse" x1="0" y1="30" x2="0" y2="100"><stop offset="0.000" stop-color="#800000"/><stop offset="0.000" stop-color="#ec0000"/><stop offset="0.022" stop-color="#ef0000"/><stop offset="0.253" stop-color="#ff0000"/><stop offset="0.371" stop-color="#ff8000"/><stop offset="0.443" stop-color="#ffff00"/><stop offset="0.514" stop-color="#afff00"/><stop offset="0.594" stop-color="#00ff00"/><stop offset="0.737" stop-color="#00ffff"/><stop offset="0.851" stop-color="#0000ff"/><stop offset="0.892" stop-color="#7600eb"/><stop offset="0.900" stop-color="#7d00d5"/><stop offset="0.918" stop-color="#8c00aa"/><stop offset="0.936" stop-color="#84007c"/></linearGradient>
<linearGradient id="g54" gradientUnits="userSpaceOnUse" x1="0" y1="30" x2="0" y2="100"><stop offset="0.000" stop-color="#800000"/><stop offset="0.000" stop-color="#ec0000"/><stop offset="0.027" stop-color="#ef0000"/><stop offset="0.257" stop-color="#ff0000"/><stop offset="0.370" stop-color="#ff8000"/><stop offset="0.438" stop-color="#ffff00"/><stop offset="0.511" stop-color="#afff00"/><stop offset="0.594" stop-color="#00ff00"/><stop offset="0.737" stop-color="#00ffff"/><stop offset="0.851" stop-color="#0000ff"/><stop offset="0.892" stop-color="#7600eb"/><stop offset="0.900" stop-color="#7d00d5"/><stop offset="0.918" stop-color="#8c00aa"/><stop offset="0.936" stop-color="#84007c"/></linearGradient>
<linearGradient id="g55" gradientUnits="userSpaceOnUse" x1="0" y1="30" x2="0" y2="100"><stop offset="0.000" stop-color="#800000"/><stop offset="0.000" stop-color="#ec0000"/><stop offset="0.031" stop-color="#ef0000"/><stop offset="0.261" stop-color="#ff0000"/><stop offset="0.369" stop-color="#ff8000"/><stop offset="0.432" stop-color="#ffff00"/><stop offset="0.508" stop-color="#afff00"/><stop offset="0.594" stop-color="#00ff00"/><stop offset="0.737" stop-color="#00ffff"/><stop offset="0.851" stop-color="#0000ff"/><stop offset="0.892" stop-color="#7600eb"/><stop offset="0.900" stop-color="#7d00d5"/><stop offset="0.918" stop-color="#8c00aa"/><stop offset="0.936" stop-color="#84007c"/></linearGradient>
<linearGradient id="g56" gradientUnits="userSpaceOnUse" x1="0" y1="30" x2="0" y2="100"><stop offset="0.000" stop-color="#800000"/><stop offset="0.000" stop-color="#ec0000"/><stop offset="0.035" stop-color="#ef0000"/><stop offset="0.266" stop-color="#ff0000"/><stop offset="0.368" stop-color="#ff8000"/><stop offset="0.427" stop-color="#ffff00"/><stop offset="0.505" stop-color="#afff00"/><stop offset="0.594" stop-color="#00ff00"/><stop offset="0.737" stop-color="#00ffff"/><stop offset="0.851" stop-color="#0000ff"/><stop offset="0.892" stop-color="#7600eb"/><stop offset="0.900" stop-color="#7d00d5"/><stop offset="0.918" stop-color="#8c00aa"/><stop offset="0.936" stop-color="#84007c"/></linearGradient>
<linearGradient id="g57" gradientUnits="userSpaceOnUse" x1="0" y1="30" x2="0" y2="100"><stop offset="0.000" stop-color="#800000"/><stop offset="0.000" stop-color="#ec0000"/><stop offset="0.040" stop-color="#ef0000"/><stop offset="0.270" stop-color="#ff0000"/><stop offset="0.367" stop-color="#ff8000"/><stop offset="0.421" stop-color="#ffff00"/><stop offset="0.502" stop-color="#afff00"/><stop offset="0.594" stop-color="#00ff00"/><stop offset="0.737" stop-color="#00ffff"/><stop offset="0.851" stop-color="#0000ff"/><stop offset="0.892" stop-color="#7600eb"/><stop offset="0.900" stop-color="#7d00d5"/><stop offset="0.918" stop-color="#8c00aa"/><stop offset="0.936" stop-color="#84007c"/></linearGradient>
<linearGradient id="g58" gradientUnits="userSpaceOnUse" x1="0" y1="30" x2="0" y2="100"><stop offset="0.000" stop-color="#800000"/><stop offset="0.000" stop-color="#ec0000"/><stop offset="0.044" stop-color="#ef0000"/><stop offset="0.274" stop-color="#ff0000"/><stop offset="0.366" stop-color="#ff8000"/><stop offset="0.416" stop-color="#ffff00"/><stop offset="0.499" stop-color="#afff00"/><stop offset="0.594" stop-color="#00ff00"/><stop offset="0.737" stop-color="#00ffff"/><stop offset="0.851" stop-color="#0000ff"/><stop offset="0.892" stop-color="#7600eb"/><stop offset="0.900" stop-color="#7d00d5"/><stop offset="0.918" stop-color="#8c00aa"/><stop offset="0.936" stop-color="#84007c"/></linearGradient>
<linearGradient id="g59" gradientUnits="userSpaceOnUse" x1="0" y1="30" x2="0" y2="100"><stop offset="0.000" stop-color="#800000"/><stop offset="0.000" stop-color="#ec0000"/><stop offset="0.048" stop-color="#ef0000"/><stop offset="0.279" stop-color="#ff0000"/><stop offset="0.365" stop-color="#ff8000"/><stop offset="0.411" stop-color="#ffff00"/><stop offset="0.496" stop-color="#afff00"/><stop offset="0.594" stop-color="#00ff00"/><stop offset="0.737" stop-color="#00ffff"/><stop offset="0.851" stop-color="#0000ff"/><stop offset="0.892" stop-color="#7600eb"/><stop offset="0.900" stop-color="#7d00d5"/><stop offset="0.918" stop-color="#8c00aa"/><stop offset="0.936" stop-color="#84007c"/></linearGradient>
<linearGradient id="g60" gradientUnits="userSpaceOnUse" x1="0" y1="30" x2="0" y2="100"><stop offset="0.000" stop-color="#800000"/><stop offset="0.000" stop-color="#ec0000"/><stop offset="0.053" stop-color="#ef0000"/><stop offset="0.283" stop-color="#ff0000"/><stop offset="0.364" stop-color="#ff8000"/><stop offset="0.405" stop-color="#ffff00"/><stop offset="0.494" stop-color="#afff00"/><stop offset="0.594" stop-color="#00ff00"/><stop offset="0.737" stop-color="#00ffff"/><stop offset="0.851" stop-color="#0000ff"/><stop offset="0.892" stop-color="#7600eb"/><stop offset="0.900" stop-color="#7d00d5"/><stop offset="0.918" stop-color="#8c00aa"/><stop offset="0.936" stop-color="#84007c"/></linearGradient>
<linearGradient id="g61" gradientUnits="userSpaceOnUse" x1="0" y1="30" x2="0" y2="100"><stop offset="0.000" stop-color="#800000"/><stop offset="0.000" stop-color="#ec0000"/><stop offset="0.057" stop-color="#ef0000"/><stop offset="0.287" stop-color="#ff0000"/><stop offset="0.363" stop-color="#ff8000"/><stop offset="0.400" stop-color="#ffff00"/><stop offset="0.491" stop-color="#afff00"/><stop offset="0.594" stop-color="#00ff00"/><stop offset="0.737" stop-color="#00ffff"/><stop offset="0.851" stop-color="#0000ff"/><stop offset="0.892" stop-color="#7600eb"/><stop offset="0.900" stop-color="#7d00d5"/><stop offset="0.918" stop-color="#8c00aa"/><stop offset="0.936" stop-color="#84007c"/></linearGradient>
<clipPath id="c_b2"><polygon points="449.0,122.0 448.6,112.0 448.5,95.2 449.8,91.5 451.1,88.5 452.5,81.2 453.7,73.9 454.7,67.3 455.7,64.8 457.1,66.1 458.3,66.0 459.5,61.8 460.5,54.5 461.4,47.0 462.0,52.1 462.9,55.8 465.0,55.0 466.8,55.8 468.6,59.4 470.5,65.5 472.3,72.7 474.1,80.0 475.9,88.5 477.0,97.5 478.5,107.6 473.0,105.2 467.8,103.2 459.0,100.8 451.8,98.9 450.6,110.0 449.6,121.0"/></clipPath>
<linearGradient id="g62" gradientUnits="userSpaceOnUse" x1="0" y1="46" x2="0" y2="123"><stop offset="0.000" stop-color="#800000"/><stop offset="0.045" stop-color="#ec0000"/><stop offset="0.104" stop-color="#ef0000"/><stop offset="0.477" stop-color="#ff0000"/><stop offset="0.516" stop-color="#ff8000"/><stop offset="0.571" stop-color="#ffff00"/><stop offset="0.615" stop-color="#afff00"/><stop offset="0.664" stop-color="#00ff00"/><stop offset="0.731" stop-color="#00ffff"/><stop offset="0.857" stop-color="#0000ff"/><stop offset="0.917" stop-color="#7600eb"/><stop offset="0.929" stop-color="#7d00d5"/><stop offset="0.958" stop-color="#8c00aa"/><stop offset="0.987" stop-color="#84007c"/></linearGradient>
<linearGradient id="g63" gradientUnits="userSpaceOnUse" x1="0" y1="46" x2="0" y2="123"><stop offset="0.000" stop-color="#800000"/><stop offset="0.045" stop-color="#ec0000"/><stop offset="0.104" stop-color="#ef0000"/><stop offset="0.466" stop-color="#ff0000"/><stop offset="0.505" stop-color="#ff8000"/><stop offset="0.563" stop-color="#ffff00"/><stop offset="0.607" stop-color="#afff00"/><stop offset="0.657" stop-color="#00ff00"/><stop offset="0.715" stop-color="#00ffff"/><stop offset="0.840" stop-color="#0000ff"/><stop offset="0.903" stop-color="#7600eb"/><stop offset="0.916" stop-color="#7d00d5"/><stop offset="0.947" stop-color="#8c00aa"/><stop offset="0.978" stop-color="#84007c"/></linearGradient>
<linearGradient id="g64" gradientUnits="userSpaceOnUse" x1="0" y1="46" x2="0" y2="123"><stop offset="0.000" stop-color="#800000"/><stop offset="0.045" stop-color="#ec0000"/><stop offset="0.104" stop-color="#ef0000"/><stop offset="0.455" stop-color="#ff0000"/><stop offset="0.495" stop-color="#ff8000"/><stop offset="0.553" stop-color="#ffff00"/><stop offset="0.598" stop-color="#afff00"/><stop offset="0.649" stop-color="#00ff00"/><stop offset="0.700" stop-color="#00ffff"/><stop offset="0.800" stop-color="#0000ff"/><stop offset="0.854" stop-color="#7600eb"/><stop offset="0.865" stop-color="#7d00d5"/><stop offset="0.894" stop-color="#8c00aa"/><stop offset="0.922" stop-color="#84007c"/></linearGradient>
<linearGradient id="g65" gradientUnits="userSpaceOnUse" x1="0" y1="46" x2="0" y2="123"><stop offset="0.000" stop-color="#800000"/><stop offset="0.045" stop-color="#ec0000"/><stop offset="0.104" stop-color="#ef0000"/><stop offset="0.444" stop-color="#ff0000"/><stop offset="0.485" stop-color="#ff8000"/><stop offset="0.543" stop-color="#ffff00"/><stop offset="0.588" stop-color="#afff00"/><stop offset="0.640" stop-color="#00ff00"/><stop offset="0.683" stop-color="#00ffff"/><stop offset="0.739" stop-color="#0000ff"/><stop offset="0.771" stop-color="#7600eb"/><stop offset="0.778" stop-color="#7d00d5"/><stop offset="0.798" stop-color="#8c00aa"/><stop offset="0.818" stop-color="#84007c"/></linearGradient>
<linearGradient id="g66" gradientUnits="userSpaceOnUse" x1="0" y1="46" x2="0" y2="123"><stop offset="0.000" stop-color="#800000"/><stop offset="0.045" stop-color="#ec0000"/><stop offset="0.104" stop-color="#ef0000"/><stop offset="0.432" stop-color="#ff0000"/><stop offset="0.475" stop-color="#ff8000"/><stop offset="0.532" stop-color="#ffff00"/><stop offset="0.578" stop-color="#afff00"/><stop offset="0.631" stop-color="#00ff00"/><stop offset="0.670" stop-color="#00ffff"/><stop offset="0.699" stop-color="#0000ff"/><stop offset="0.721" stop-color="#7600eb"/><stop offset="0.725" stop-color="#7d00d5"/><stop offset="0.740" stop-color="#8c00aa"/><stop offset="0.755" stop-color="#84007c"/></linearGradient>
<linearGradient id="g67" gradientUnits="userSpaceOnUse" x1="0" y1="46" x2="0" y2="123"><stop offset="0.000" stop-color="#800000"/><stop offset="0.045" stop-color="#ec0000"/><stop offset="0.104" stop-color="#ef0000"/><stop offset="0.423" stop-color="#ff0000"/><stop offset="0.464" stop-color="#ff8000"/><stop offset="0.518" stop-color="#ffff00"/><stop offset="0.561" stop-color="#afff00"/><stop offset="0.609" stop-color="#00ff00"/><stop offset="0.658" stop-color="#00ffff"/><stop offset="0.682" stop-color="#0000ff"/><stop offset="0.703" stop-color="#7600eb"/><stop offset="0.708" stop-color="#7d00d5"/><stop offset="0.720" stop-color="#8c00aa"/><stop offset="0.732" stop-color="#84007c"/></linearGradient>
<linearGradient id="g68" gradientUnits="userSpaceOnUse" x1="0" y1="46" x2="0" y2="123"><stop offset="0.000" stop-color="#800000"/><stop offset="0.045" stop-color="#ec0000"/><stop offset="0.104" stop-color="#ef0000"/><stop offset="0.414" stop-color="#ff0000"/><stop offset="0.453" stop-color="#ff8000"/><stop offset="0.504" stop-color="#ffff00"/><stop offset="0.543" stop-color="#afff00"/><stop offset="0.586" stop-color="#00ff00"/><stop offset="0.647" stop-color="#00ffff"/><stop offset="0.674" stop-color="#0000ff"/><stop offset="0.699" stop-color="#7600eb"/><stop offset="0.704" stop-color="#7d00d5"/><stop offset="0.716" stop-color="#8c00aa"/><stop offset="0.729" stop-color="#84007c"/></linearGradient>
<linearGradient id="g69" gradientUnits="userSpaceOnUse" x1="0" y1="46" x2="0" y2="123"><stop offset="0.000" stop-color="#800000"/><stop offset="0.045" stop-color="#ec0000"/><stop offset="0.104" stop-color="#ef0000"/><stop offset="0.405" stop-color="#ff0000"/><stop offset="0.443" stop-color="#ff8000"/><stop offset="0.490" stop-color="#ffff00"/><stop offset="0.524" stop-color="#afff00"/><stop offset="0.563" stop-color="#00ff00"/><stop offset="0.636" stop-color="#00ffff"/><stop offset="0.666" stop-color="#0000ff"/><stop offset="0.694" stop-color="#7600eb"/><stop offset="0.699" stop-color="#7d00d5"/><stop offset="0.712" stop-color="#8c00aa"/><stop offset="0.725" stop-color="#84007c"/></linearGradient>
<linearGradient id="g70" gradientUnits="userSpaceOnUse" x1="0" y1="46" x2="0" y2="123"><stop offset="0.000" stop-color="#800000"/><stop offset="0.045" stop-color="#ec0000"/><stop offset="0.104" stop-color="#ef0000"/><stop offset="0.396" stop-color="#ff0000"/><stop offset="0.432" stop-color="#ff8000"/><stop offset="0.476" stop-color="#ffff00"/><stop offset="0.509" stop-color="#afff00"/><stop offset="0.546" stop-color="#00ff00"/><stop offset="0.626" stop-color="#00ffff"/><stop offset="0.661" stop-color="#0000ff"/><stop offset="0.690" stop-color="#7600eb"/><stop offset="0.695" stop-color="#7d00d5"/><stop offset="0.708" stop-color="#8c00aa"/><stop offset="0.722" stop-color="#84007c"/></linearGradient>
<linearGradient id="g71" gradientUnits="userSpaceOnUse" x1="0" y1="46" x2="0" y2="123"><stop offset="0.000" stop-color="#800000"/><stop offset="0.045" stop-color="#ec0000"/><stop offset="0.104" stop-color="#ef0000"/><stop offset="0.388" stop-color="#ff0000"/><stop offset="0.421" stop-color="#ff8000"/><stop offset="0.462" stop-color="#ffff00"/><stop offset="0.496" stop-color="#afff00"/><stop offset="0.535" stop-color="#00ff00"/><stop offset="0.618" stop-color="#00ffff"/><stop offset="0.658" stop-color="#0000ff"/><stop offset="0.686" stop-color="#7600eb"/><stop offset="0.691" stop-color="#7d00d5"/><stop offset="0.705" stop-color="#8c00aa"/><stop offset="0.718" stop-color="#84007c"/></linearGradient>
<linearGradient id="g72" gradientUnits="userSpaceOnUse" x1="0" y1="46" x2="0" y2="123"><stop offset="0.000" stop-color="#800000"/><stop offset="0.045" stop-color="#ec0000"/><stop offset="0.104" stop-color="#ef0000"/><stop offset="0.380" stop-color="#ff0000"/><stop offset="0.412" stop-color="#ff8000"/><stop offset="0.451" stop-color="#ffff00"/><stop offset="0.485" stop-color="#afff00"/><stop offset="0.524" stop-color="#00ff00"/><stop offset="0.610" stop-color="#00ffff"/><stop offset="0.656" stop-color="#0000ff"/><stop offset="0.682" stop-color="#7600eb"/><stop offset="0.687" stop-color="#7d00d5"/><stop offset="0.701" stop-color="#8c00aa"/><stop offset="0.714" stop-color="#84007c"/></linearGradient>
<linearGradient id="g73" gradientUnits="userSpaceOnUse" x1="0" y1="46" x2="0" y2="123"><stop offset="0.000" stop-color="#800000"/><stop offset="0.045" stop-color="#ec0000"/><stop offset="0.104" stop-color="#ef0000"/><stop offset="0.374" stop-color="#ff0000"/><stop offset="0.406" stop-color="#ff8000"/><stop offset="0.445" stop-color="#ffff00"/><stop offset="0.476" stop-color="#afff00"/><stop offset="0.512" stop-color="#00ff00"/><stop offset="0.601" stop-color="#00ffff"/><stop offset="0.653" stop-color="#0000ff"/><stop offset="0.678" stop-color="#7600eb"/><stop offset="0.683" stop-color="#7d00d5"/><stop offset="0.697" stop-color="#8c00aa"/><stop offset="0.711" stop-color="#84007c"/></linearGradient>
<linearGradient id="g74" gradientUnits="userSpaceOnUse" x1="0" y1="46" x2="0" y2="123"><stop offset="0.000" stop-color="#800000"/><stop offset="0.045" stop-color="#ec0000"/><stop offset="0.104" stop-color="#ef0000"/><stop offset="0.362" stop-color="#ff0000"/><stop offset="0.396" stop-color="#ff8000"/><stop offset="0.439" stop-color="#ffff00"/><stop offset="0.469" stop-color="#afff00"/><stop offset="0.503" stop-color="#00ff00"/><stop offset="0.596" stop-color="#00ffff"/><stop offset="0.650" stop-color="#0000ff"/><stop offset="0.676" stop-color="#7600eb"/><stop offset="0.681" stop-color="#7d00d5"/><stop offset="0.695" stop-color="#8c00aa"/><stop offset="0.710" stop-color="#84007c"/></linearGradient>
<linearGradient id="g75" gradientUnits="userSpaceOnUse" x1="0" y1="46" x2="0" y2="123"><stop offset="0.000" stop-color="#800000"/><stop offset="0.045" stop-color="#ec0000"/><stop offset="0.104" stop-color="#ef0000"/><stop offset="0.311" stop-color="#ff0000"/><stop offset="0.360" stop-color="#ff8000"/><stop offset="0.433" stop-color="#ffff00"/><stop offset="0.463" stop-color="#afff00"/><stop offset="0.497" stop-color="#00ff00"/><stop offset="0.593" stop-color="#00ffff"/><stop offset="0.648" stop-color="#0000ff"/><stop offset="0.676" stop-color="#7600eb"/><stop offset="0.682" stop-color="#7d00d5"/><stop offset="0.696" stop-color="#8c00aa"/><stop offset="0.711" stop-color="#84007c"/></linearGradient>
<linearGradient id="g76" gradientUnits="userSpaceOnUse" x1="0" y1="46" x2="0" y2="123"><stop offset="0.000" stop-color="#800000"/><stop offset="0.045" stop-color="#ec0000"/><stop offset="0.104" stop-color="#ef0000"/><stop offset="0.361" stop-color="#ff0000"/><stop offset="0.389" stop-color="#ff8000"/><stop offset="0.427" stop-color="#ffff00"/><stop offset="0.457" stop-color="#afff00"/><stop offset="0.491" stop-color="#00ff00"/><stop offset="0.590" stop-color="#00ffff"/><stop offset="0.645" stop-color="#0000ff"/><stop offset="0.676" stop-color="#7600eb"/><stop offset="0.682" stop-color="#7d00d5"/><stop offset="0.697" stop-color="#8c00aa"/><stop offset="0.712" stop-color="#84007c"/></linearGradient>
<linearGradient id="g77" gradientUnits="userSpaceOnUse" x1="0" y1="46" x2="0" y2="123"><stop offset="0.000" stop-color="#800000"/><stop offset="0.045" stop-color="#ec0000"/><stop offset="0.104" stop-color="#ef0000"/><stop offset="0.358" stop-color="#ff0000"/><stop offset="0.387" stop-color="#ff8000"/><stop offset="0.420" stop-color="#ffff00"/><stop offset="0.451" stop-color="#afff00"/><stop offset="0.485" stop-color="#00ff00"/><stop offset="0.587" stop-color="#00ffff"/><stop offset="0.642" stop-color="#0000ff"/><stop offset="0.676" stop-color="#7600eb"/><stop offset="0.683" stop-color="#7d00d5"/><stop offset="0.698" stop-color="#8c00aa"/><stop offset="0.713" stop-color="#84007c"/></linearGradient>
<linearGradient id="g78" gradientUnits="userSpaceOnUse" x1="0" y1="46" x2="0" y2="123"><stop offset="0.000" stop-color="#800000"/><stop offset="0.045" stop-color="#ec0000"/><stop offset="0.104" stop-color="#ef0000"/><stop offset="0.355" stop-color="#ff0000"/><stop offset="0.384" stop-color="#ff8000"/><stop offset="0.414" stop-color="#ffff00"/><stop offset="0.445" stop-color="#afff00"/><stop offset="0.479" stop-color="#00ff00"/><stop offset="0.584" stop-color="#00ffff"/><stop offset="0.639" stop-color="#0000ff"/><stop offset="0.676" stop-color="#7600eb"/><stop offset="0.684" stop-color="#7d00d5"/><stop offset="0.699" stop-color="#8c00aa"/><stop offset="0.714" stop-color="#84007c"/></linearGradient>
<linearGradient id="g79" gradientUnits="userSpaceOnUse" x1="0" y1="46" x2="0" y2="123"><stop offset="0.000" stop-color="#800000"/><stop offset="0.045" stop-color="#ec0000"/><stop offset="0.104" stop-color="#ef0000"/><stop offset="0.337" stop-color="#ff0000"/><stop offset="0.372" stop-color="#ff8000"/><stop offset="0.412" stop-color="#ffff00"/><stop offset="0.442" stop-color="#afff00"/><stop offset="0.477" stop-color="#00ff00"/><stop offset="0.584" stop-color="#00ffff"/><stop offset="0.641" stop-color="#0000ff"/><stop offset="0.677" stop-color="#7600eb"/><stop offset="0.685" stop-color="#7d00d5"/><stop offset="0.701" stop-color="#8c00aa"/><stop offset="0.718" stop-color="#84007c"/></linearGradient>
<linearGradient id="g80" gradientUnits="userSpaceOnUse" x1="0" y1="46" x2="0" y2="123"><stop offset="0.000" stop-color="#800000"/><stop offset="0.045" stop-color="#ec0000"/><stop offset="0.104" stop-color="#ef0000"/><stop offset="0.288" stop-color="#ff0000"/><stop offset="0.340" stop-color="#ff8000"/><stop offset="0.410" stop-color="#ffff00"/><stop offset="0.441" stop-color="#afff00"/><stop offset="0.476" stop-color="#00ff00"/><stop offset="0.585" stop-color="#00ffff"/><stop offset="0.644" stop-color="#0000ff"/><stop offset="0.678" stop-color="#7600eb"/><stop offset="0.685" stop-color="#7d00d5"/><stop offset="0.704" stop-color="#8c00aa"/><stop offset="0.722" stop-color="#84007c"/></linearGradient>
<linearGradient id="g81" gradientUnits="userSpaceOnUse" x1="0" y1="46" x2="0" y2="123"><stop offset="0.000" stop-color="#800000"/><stop offset="0.045" stop-color="#ec0000"/><stop offset="0.104" stop-color="#ef0000"/><stop offset="0.348" stop-color="#ff0000"/><stop offset="0.376" stop-color="#ff8000"/><stop offset="0.408" stop-color="#ffff00"/><stop offset="0.439" stop-color="#afff00"/><stop offset="0.475" stop-color="#00ff00"/><stop offset="0.586" stop-color="#00ffff"/><stop offset="0.646" stop-color="#0000ff"/><stop offset="0.680" stop-color="#7600eb"/><stop offset="0.687" stop-color="#7d00d5"/><stop offset="0.707" stop-color="#8c00aa"/><stop offset="0.726" stop-color="#84007c"/></linearGradient>
<linearGradient id="g82" gradientUnits="userSpaceOnUse" x1="0" y1="46" x2="0" y2="123"><stop offset="0.000" stop-color="#800000"/><stop offset="0.045" stop-color="#ec0000"/><stop offset="0.104" stop-color="#ef0000"/><stop offset="0.346" stop-color="#ff0000"/><stop offset="0.375" stop-color="#ff8000"/><stop offset="0.406" stop-color="#ffff00"/><stop offset="0.438" stop-color="#afff00"/><stop offset="0.474" stop-color="#00ff00"/><stop offset="0.588" stop-color="#00ffff"/><stop offset="0.649" stop-color="#0000ff"/><stop offset="0.683" stop-color="#7600eb"/><stop offset="0.690" stop-color="#7d00d5"/><stop offset="0.710" stop-color="#8c00aa"/><stop offset="0.729" stop-color="#84007c"/></linearGradient>
<linearGradient id="g83" gradientUnits="userSpaceOnUse" x1="0" y1="46" x2="0" y2="123"><stop offset="0.000" stop-color="#800000"/><stop offset="0.045" stop-color="#ec0000"/><stop offset="0.104" stop-color="#ef0000"/><stop offset="0.345" stop-color="#ff0000"/><stop offset="0.373" stop-color="#ff8000"/><stop offset="0.405" stop-color="#ffff00"/><stop offset="0.437" stop-color="#afff00"/><stop offset="0.473" stop-color="#00ff00"/><stop offset="0.589" stop-color="#00ffff"/><stop offset="0.652" stop-color="#0000ff"/><stop offset="0.686" stop-color="#7600eb"/><stop offset="0.693" stop-color="#7d00d5"/><stop offset="0.713" stop-color="#8c00aa"/><stop offset="0.732" stop-color="#84007c"/></linearGradient>
<linearGradient id="g84" gradientUnits="userSpaceOnUse" x1="0" y1="46" x2="0" y2="123"><stop offset="0.000" stop-color="#800000"/><stop offset="0.045" stop-color="#ec0000"/><stop offset="0.104" stop-color="#ef0000"/><stop offset="0.343" stop-color="#ff0000"/><stop offset="0.372" stop-color="#ff8000"/><stop offset="0.403" stop-color="#ffff00"/><stop offset="0.436" stop-color="#afff00"/><stop offset="0.474" stop-color="#00ff00"/><stop offset="0.590" stop-color="#00ffff"/><stop offset="0.654" stop-color="#0000ff"/><stop offset="0.689" stop-color="#7600eb"/><stop offset="0.695" stop-color="#7d00d5"/><stop offset="0.715" stop-color="#8c00aa"/><stop offset="0.736" stop-color="#84007c"/></linearGradient>
<linearGradient id="g85" gradientUnits="userSpaceOnUse" x1="0" y1="46" x2="0" y2="123"><stop offset="0.000" stop-color="#800000"/><stop offset="0.045" stop-color="#ec0000"/><stop offset="0.104" stop-color="#ef0000"/><stop offset="0.342" stop-color="#ff0000"/><stop offset="0.371" stop-color="#ff8000"/><stop offset="0.401" stop-color="#ffff00"/><stop offset="0.436" stop-color="#afff00"/><stop offset="0.475" stop-color="#00ff00"/><stop offset="0.591" stop-color="#00ffff"/><stop offset="0.657" stop-color="#0000ff"/><stop offset="0.691" stop-color="#7600eb"/><stop offset="0.698" stop-color="#7d00d5"/><stop offset="0.718" stop-color="#8c00aa"/><stop offset="0.739" stop-color="#84007c"/></linearGradient>
<linearGradient id="g86" gradientUnits="userSpaceOnUse" x1="0" y1="46" x2="0" y2="123"><stop offset="0.000" stop-color="#800000"/><stop offset="0.045" stop-color="#ec0000"/><stop offset="0.104" stop-color="#ef0000"/><stop offset="0.341" stop-color="#ff0000"/><stop offset="0.369" stop-color="#ff8000"/><stop offset="0.400" stop-color="#ffff00"/><stop offset="0.436" stop-color="#afff00"/><stop offset="0.477" stop-color="#00ff00"/><stop offset="0.592" stop-color="#00ffff"/><stop offset="0.660" stop-color="#0000ff"/><stop offset="0.694" stop-color="#7600eb"/><stop offset="0.701" stop-color="#7d00d5"/><stop offset="0.721" stop-color="#8c00aa"/><stop offset="0.742" stop-color="#84007c"/></linearGradient>
<linearGradient id="g87" gradientUnits="userSpaceOnUse" x1="0" y1="46" x2="0" y2="123"><stop offset="0.000" stop-color="#800000"/><stop offset="0.045" stop-color="#ec0000"/><stop offset="0.104" stop-color="#ef0000"/><stop offset="0.339" stop-color="#ff0000"/><stop offset="0.368" stop-color="#ff8000"/><stop offset="0.398" stop-color="#ffff00"/><stop offset="0.436" stop-color="#afff00"/><stop offset="0.479" stop-color="#00ff00"/><stop offset="0.594" stop-color="#00ffff"/><stop offset="0.662" stop-color="#0000ff"/><stop offset="0.697" stop-color="#7600eb"/><stop offset="0.704" stop-color="#7d00d5"/><stop offset="0.724" stop-color="#8c00aa"/><stop offset="0.745" stop-color="#84007c"/></linearGradient>
<linearGradient id="g88" gradientUnits="userSpaceOnUse" x1="0" y1="46" x2="0" y2="123"><stop offset="0.000" stop-color="#800000"/><stop offset="0.045" stop-color="#ec0000"/><stop offset="0.104" stop-color="#ef0000"/><stop offset="0.338" stop-color="#ff0000"/><stop offset="0.366" stop-color="#ff8000"/><stop offset="0.396" stop-color="#ffff00"/><stop offset="0.435" stop-color="#afff00"/><stop offset="0.481" stop-color="#00ff00"/><stop offset="0.595" stop-color="#00ffff"/><stop offset="0.665" stop-color="#0000ff"/><stop offset="0.700" stop-color="#7600eb"/><stop offset="0.706" stop-color="#7d00d5"/><stop offset="0.727" stop-color="#8c00aa"/><stop offset="0.748" stop-color="#84007c"/></linearGradient>
<linearGradient id="g89" gradientUnits="userSpaceOnUse" x1="0" y1="46" x2="0" y2="123"><stop offset="0.000" stop-color="#800000"/><stop offset="0.045" stop-color="#ec0000"/><stop offset="0.104" stop-color="#ef0000"/><stop offset="0.338" stop-color="#ff0000"/><stop offset="0.366" stop-color="#ff8000"/><stop offset="0.396" stop-color="#ffff00"/><stop offset="0.436" stop-color="#afff00"/><stop offset="0.482" stop-color="#00ff00"/><stop offset="0.597" stop-color="#00ffff"/><stop offset="0.669" stop-color="#0000ff"/><stop offset="0.704" stop-color="#7600eb"/><stop offset="0.711" stop-color="#7d00d5"/><stop offset="0.733" stop-color="#8c00aa"/><stop offset="0.755" stop-color="#84007c"/></linearGradient>
<linearGradient id="g90" gradientUnits="userSpaceOnUse" x1="0" y1="46" x2="0" y2="123"><stop offset="0.000" stop-color="#800000"/><stop offset="0.045" stop-color="#ec0000"/><stop offset="0.104" stop-color="#ef0000"/><stop offset="0.338" stop-color="#ff0000"/><stop offset="0.366" stop-color="#ff8000"/><stop offset="0.396" stop-color="#ffff00"/><stop offset="0.437" stop-color="#afff00"/><stop offset="0.483" stop-color="#00ff00"/><stop offset="0.599" stop-color="#00ffff"/><stop offset="0.672" stop-color="#0000ff"/><stop offset="0.709" stop-color="#7600eb"/><stop offset="0.716" stop-color="#7d00d5"/><stop offset="0.739" stop-color="#8c00aa"/><stop offset="0.762" stop-color="#84007c"/></linearGradient>
<linearGradient id="g91" gradientUnits="userSpaceOnUse" x1="0" y1="46" x2="0" y2="123"><stop offset="0.000" stop-color="#800000"/><stop offset="0.045" stop-color="#ec0000"/><stop offset="0.104" stop-color="#ef0000"/><stop offset="0.338" stop-color="#ff0000"/><stop offset="0.366" stop-color="#ff8000"/><stop offset="0.396" stop-color="#ffff00"/><stop offset="0.438" stop-color="#afff00"/><stop offset="0.485" stop-color="#00ff00"/><stop offset="0.601" stop-color="#00ffff"/><stop offset="0.676" stop-color="#0000ff"/><stop offset="0.713" stop-color="#7600eb"/><stop offset="0.720" stop-color="#7d00d5"/><stop offset="0.745" stop-color="#8c00aa"/><stop offset="0.769" stop-color="#84007c"/></linearGradient>
<linearGradient id="g92" gradientUnits="userSpaceOnUse" x1="0" y1="46" x2="0" y2="123"><stop offset="0.000" stop-color="#800000"/><stop offset="0.045" stop-color="#ec0000"/><stop offset="0.104" stop-color="#ef0000"/><stop offset="0.338" stop-color="#ff0000"/><stop offset="0.366" stop-color="#ff8000"/><stop offset="0.396" stop-color="#ffff00"/><stop offset="0.438" stop-color="#afff00"/><stop offset="0.486" stop-color="#00ff00"/><stop offset="0.603" stop-color="#00ffff"/><stop offset="0.680" stop-color="#0000ff"/><stop offset="0.717" stop-color="#7600eb"/><stop offset="0.725" stop-color="#7d00d5"/><stop offset="0.750" stop-color="#8c00aa"/><stop offset="0.776" stop-color="#84007c"/></linearGradient>
<clipPath id="c_b1"><polygon points="390.2,104.5 391.2,101.0 392.4,96.0 393.2,89.6 394.7,85.0 395.9,78.6 398.3,67.7 400.1,58.0 402.5,47.1 404.4,40.6 405.2,40.2 407.4,45.3 409.8,42.2 411.6,44.2 413.5,41.2 415.3,44.1 417.1,47.1 418.9,58.0 420.7,67.7 423.2,77.4 425.6,83.5 428.0,86.4 432.1,88.8 438.2,91.5 444.2,93.6 448.5,95.4 449.7,104.2 449.8,116.4 449.3,122.6 440.0,127.4 417.6,126.0 390.2,112.0"/></clipPath>
<linearGradient id="g93" gradientUnits="userSpaceOnUse" x1="0" y1="39" x2="0" y2="129"><stop offset="0.000" stop-color="#800000"/><stop offset="0.000" stop-color="#ec0000"/><stop offset="0.000" stop-color="#ef0000"/><stop offset="0.217" stop-color="#ff0000"/><stop offset="0.272" stop-color="#ff8000"/><stop offset="0.333" stop-color="#ffff00"/><stop offset="0.372" stop-color="#afff00"/><stop offset="0.417" stop-color="#00ff00"/><stop offset="0.524" stop-color="#00ffff"/><stop offset="0.604" stop-color="#0000ff"/><stop offset="0.650" stop-color="#7600eb"/><stop offset="0.659" stop-color="#7d00d5"/><stop offset="0.688" stop-color="#8c00aa"/><stop offset="0.717" stop-color="#84007c"/></linearGradient>
<linearGradient id="g94" gradientUnits="userSpaceOnUse" x1="0" y1="39" x2="0" y2="129"><stop offset="0.000" stop-color="#800000"/><stop offset="0.000" stop-color="#ec0000"/><stop offset="0.000" stop-color="#ef0000"/><stop offset="0.216" stop-color="#ff0000"/><stop offset="0.271" stop-color="#ff8000"/><stop offset="0.332" stop-color="#ffff00"/><stop offset="0.371" stop-color="#afff00"/><stop offset="0.416" stop-color="#00ff00"/><stop offset="0.524" stop-color="#00ffff"/><stop offset="0.604" stop-color="#0000ff"/><stop offset="0.650" stop-color="#7600eb"/><stop offset="0.659" stop-color="#7d00d5"/><stop offset="0.688" stop-color="#8c00aa"/><stop offset="0.717" stop-color="#84007c"/></linearGradient>
<linearGradient id="g95" gradientUnits="userSpaceOnUse" x1="0" y1="39" x2="0" y2="129"><stop offset="0.000" stop-color="#800000"/><stop offset="0.000" stop-color="#ec0000"/><stop offset="0.000" stop-color="#ef0000"/><stop offset="0.214" stop-color="#ff0000"/><stop offset="0.268" stop-color="#ff8000"/><stop offset="0.330" stop-color="#ffff00"/><stop offset="0.369" stop-color="#afff00"/><stop offset="0.414" stop-color="#00ff00"/><stop offset="0.523" stop-color="#00ffff"/><stop offset="0.604" stop-color="#0000ff"/><stop offset="0.650" stop-color="#7600eb"/><stop offset="0.659" stop-color="#7d00d5"/><stop offset="0.688" stop-color="#8c00aa"/><stop offset="0.716" stop-color="#84007c"/></linearGradient>
<linearGradient id="g96" gradientUnits="userSpaceOnUse" x1="0" y1="39" x2="0" y2="129"><stop offset="0.000" stop-color="#800000"/><stop offset="0.000" stop-color="#ec0000"/><stop offset="0.000" stop-color="#ef0000"/><stop offset="0.211" stop-color="#ff0000"/><stop offset="0.266" stop-color="#ff8000"/><stop offset="0.327" stop-color="#ffff00"/><stop offset="0.367" stop-color="#afff00"/><stop offset="0.412" stop-color="#00ff00"/><stop offset="0.522" stop-color="#00ffff"/><stop offset="0.604" stop-color="#0000ff"/><stop offset="0.650" stop-color="#7600eb"/><stop offset="0.659" stop-color="#7d00d5"/><stop offset="0.688" stop-color="#8c00aa"/><stop offset="0.716" stop-color="#84007c"/></linearGradient>
<linearGradient id="g97" gradientUnits="userSpaceOnUse" x1="0" y1="39" x2="0" y2="129"><stop offset="0.000" stop-color="#800000"/><stop offset="0.000" stop-color="#ec0000"/><stop offset="0.000" stop-color="#ef0000"/><stop offset="0.209" stop-color="#ff0000"/><stop offset="0.263" stop-color="#ff8000"/><stop offset="0.325" stop-color="#ffff00"/><stop offset="0.364" stop-color="#afff00"/><stop offset="0.410" stop-color="#00ff00"/><stop offset="0.521" stop-color="#00ffff"/><stop offset="0.604" stop-color="#0000ff"/><stop offset="0.650" stop-color="#7600eb"/><stop offset="0.659" stop-color="#7d00d5"/><stop offset="0.688" stop-color="#8c00aa"/><stop offset="0.716" stop-color="#84007c"/></linearGradient>
<linearGradient id="g98" gradientUnits="userSpaceOnUse" x1="0" y1="39" x2="0" y2="129"><stop offset="0.000" stop-color="#800000"/><stop offset="0.000" stop-color="#ec0000"/><stop offset="0.000" stop-color="#ef0000"/><stop offset="0.207" stop-color="#ff0000"/><stop offset="0.260" stop-color="#ff8000"/><stop offset="0.322" stop-color="#ffff00"/><stop offset="0.362" stop-color="#afff00"/><stop offset="0.408" stop-color="#00ff00"/><stop offset="0.520" stop-color="#00ffff"/><stop offset="0.604" stop-color="#0000ff"/><stop offset="0.650" stop-color="#7600eb"/><stop offset="0.659" stop-color="#7d00d5"/><stop offset="0.687" stop-color="#8c00aa"/><stop offset="0.716" stop-color="#84007c"/></linearGradient>
<linearGradient id="g99" gradientUnits="userSpaceOnUse" x1="0" y1="39" x2="0" y2="129"><stop offset="0.000" stop-color="#800000"/><stop offset="0.000" stop-color="#ec0000"/><stop offset="0.000" stop-color="#ef0000"/><stop offset="0.205" stop-color="#ff0000"/><stop offset="0.258" stop-color="#ff8000"/><stop offset="0.320" stop-color="#ffff00"/><stop offset="0.360" stop-color="#afff00"/><stop offset="0.406" stop-color="#00ff00"/><stop offset="0.519" stop-color="#00ffff"/><stop offset="0.604" stop-color="#0000ff"/><stop offset="0.650" stop-color="#7600eb"/><stop offset="0.659" stop-color="#7d00d5"/><stop offset="0.687" stop-color="#8c00aa"/><stop offset="0.716" stop-color="#84007c"/></linearGradient>
<linearGradient id="g100" gradientUnits="userSpaceOnUse" x1="0" y1="39" x2="0" y2="129"><stop offset="0.000" stop-color="#800000"/><stop offset="0.000" stop-color="#ec0000"/><stop offset="0.000" stop-color="#ef0000"/><stop offset="0.203" stop-color="#ff0000"/><stop offset="0.255" stop-color="#ff8000"/><stop offset="0.318" stop-color="#ffff00"/><stop offset="0.358" stop-color="#afff00"/><stop offset="0.405" stop-color="#00ff00"/><stop offset="0.518" stop-color="#00ffff"/><stop offset="0.603" stop-color="#0000ff"/><stop offset="0.650" stop-color="#7600eb"/><stop offset="0.659" stop-color="#7d00d5"/><stop offset="0.687" stop-color="#8c00aa"/><stop offset="0.716" stop-color="#84007c"/></linearGradient>
<linearGradient id="g101" gradientUnits="userSpaceOnUse" x1="0" y1="39" x2="0" y2="129"><stop offset="0.000" stop-color="#800000"/><stop offset="0.000" stop-color="#ec0000"/><stop offset="0.000" stop-color="#ef0000"/><stop offset="0.201" stop-color="#ff0000"/><stop offset="0.252" stop-color="#ff8000"/><stop offset="0.315" stop-color="#ffff00"/><stop offset="0.356" stop-color="#afff00"/><stop offset="0.404" stop-color="#00ff00"/><stop offset="0.517" stop-color="#00ffff"/><stop offset="0.603" stop-color="#0000ff"/><stop offset="0.650" stop-color="#7600eb"/><stop offset="0.659" stop-color="#7d00d5"/><stop offset="0.687" stop-color="#8c00aa"/><stop offset="0.716" stop-color="#84007c"/></linearGradient>
<linearGradient id="g102" gradientUnits="userSpaceOnUse" x1="0" y1="39" x2="0" y2="129"><stop offset="0.000" stop-color="#800000"/><stop offset="0.000" stop-color="#ec0000"/><stop offset="0.000" stop-color="#ef0000"/><stop offset="0.199" stop-color="#ff0000"/><stop offset="0.250" stop-color="#ff8000"/><stop offset="0.312" stop-color="#ffff00"/><stop offset="0.355" stop-color="#afff00"/><stop offset="0.403" stop-color="#00ff00"/><stop offset="0.516" stop-color="#00ffff"/><stop offset="0.603" stop-color="#0000ff"/><stop offset="0.650" stop-color="#7600eb"/><stop offset="0.659" stop-color="#7d00d5"/><stop offset="0.687" stop-color="#8c00aa"/><stop offset="0.715" stop-color="#84007c"/></linearGradient>
<linearGradient id="g103" gradientUnits="userSpaceOnUse" x1="0" y1="39" x2="0" y2="129"><stop offset="0.000" stop-color="#800000"/><stop offset="0.000" stop-color="#ec0000"/><stop offset="0.000" stop-color="#ef0000"/><stop offset="0.196" stop-color="#ff0000"/><stop offset="0.248" stop-color="#ff8000"/><stop offset="0.310" stop-color="#ffff00"/><stop offset="0.353" stop-color="#afff00"/><stop offset="0.402" stop-color="#00ff00"/><stop offset="0.515" stop-color="#00ffff"/><stop offset="0.603" stop-color="#0000ff"/><stop offset="0.650" stop-color="#7600eb"/><stop offset="0.659" stop-color="#7d00d5"/><stop offset="0.687" stop-color="#8c00aa"/><stop offset="0.715" stop-color="#84007c"/></linearGradient>
<linearGradient id="g104" gradientUnits="userSpaceOnUse" x1="0" y1="39" x2="0" y2="129"><stop offset="0.000" stop-color="#800000"/><stop offset="0.000" stop-color="#ec0000"/><stop offset="0.000" stop-color="#ef0000"/><stop offset="0.193" stop-color="#ff0000"/><stop offset="0.245" stop-color="#ff8000"/><stop offset="0.307" stop-color="#ffff00"/><stop offset="0.351" stop-color="#afff00"/><stop offset="0.401" stop-color="#00ff00"/><stop offset="0.514" stop-color="#00ffff"/><stop offset="0.603" stop-color="#0000ff"/><stop offset="0.650" stop-color="#7600eb"/><stop offset="0.659" stop-color="#7d00d5"/><stop offset="0.687" stop-color="#8c00aa"/><stop offset="0.715" stop-color="#84007c"/></linearGradient>
<linearGradient id="g105" gradientUnits="userSpaceOnUse" x1="0" y1="39" x2="0" y2="129"><stop offset="0.000" stop-color="#800000"/><stop offset="0.000" stop-color="#ec0000"/><stop offset="0.000" stop-color="#ef0000"/><stop offset="0.191" stop-color="#ff0000"/><stop offset="0.243" stop-color="#ff8000"/><stop offset="0.304" stop-color="#ffff00"/><stop offset="0.349" stop-color="#afff00"/><stop offset="0.400" stop-color="#00ff00"/><stop offset="0.513" stop-color="#00ffff"/><stop offset="0.603" stop-color="#0000ff"/><stop offset="0.650" stop-color="#7600eb"/><stop offset="0.659" stop-color="#7d00d5"/><stop offset="0.687" stop-color="#8c00aa"/><stop offset="0.715" stop-color="#84007c"/></linearGradient>
<linearGradient id="g106" gradientUnits="userSpaceOnUse" x1="0" y1="39" x2="0" y2="129"><stop offset="0.000" stop-color="#800000"/><stop offset="0.000" stop-color="#ec0000"/><stop offset="0.000" stop-color="#ef0000"/><stop offset="0.188" stop-color="#ff0000"/><stop offset="0.240" stop-color="#ff8000"/><stop offset="0.301" stop-color="#ffff00"/><stop offset="0.347" stop-color="#afff00"/><stop offset="0.400" stop-color="#00ff00"/><stop offset="0.512" stop-color="#00ffff"/><stop offset="0.603" stop-color="#0000ff"/><stop offset="0.649" stop-color="#7600eb"/><stop offset="0.659" stop-color="#7d00d5"/><stop offset="0.687" stop-color="#8c00aa"/><stop offset="0.715" stop-color="#84007c"/></linearGradient>
<linearGradient id="g107" gradientUnits="userSpaceOnUse" x1="0" y1="39" x2="0" y2="129"><stop offset="0.000" stop-color="#800000"/><stop offset="0.000" stop-color="#ec0000"/><stop offset="0.000" stop-color="#ef0000"/><stop offset="0.186" stop-color="#ff0000"/><stop offset="0.238" stop-color="#ff8000"/><stop offset="0.298" stop-color="#ffff00"/><stop offset="0.345" stop-color="#afff00"/><stop offset="0.399" stop-color="#00ff00"/><stop offset="0.511" stop-color="#00ffff"/><stop offset="0.602" stop-color="#0000ff"/><stop offset="0.649" stop-color="#7600eb"/><stop offset="0.659" stop-color="#7d00d5"/><stop offset="0.687" stop-color="#8c00aa"/><stop offset="0.715" stop-color="#84007c"/></linearGradient>
<linearGradient id="g108" gradientUnits="userSpaceOnUse" x1="0" y1="39" x2="0" y2="129"><stop offset="0.000" stop-color="#800000"/><stop offset="0.000" stop-color="#ec0000"/><stop offset="0.000" stop-color="#ef0000"/><stop offset="0.183" stop-color="#ff0000"/><stop offset="0.235" stop-color="#ff8000"/><stop offset="0.296" stop-color="#ffff00"/><stop offset="0.343" stop-color="#afff00"/><stop offset="0.398" stop-color="#00ff00"/><stop offset="0.510" stop-color="#00ffff"/><stop offset="0.602" stop-color="#0000ff"/><stop offset="0.649" stop-color="#7600eb"/><stop offset="0.659" stop-color="#7d00d5"/><stop offset="0.687" stop-color="#8c00aa"/><stop offset="0.714" stop-color="#84007c"/></linearGradient>
<linearGradient id="g109" gradientUnits="userSpaceOnUse" x1="0" y1="39" x2="0" y2="129"><stop offset="0.000" stop-color="#800000"/><stop offset="0.000" stop-color="#ec0000"/><stop offset="0.000" stop-color="#ef0000"/><stop offset="0.180" stop-color="#ff0000"/><stop offset="0.233" stop-color="#ff8000"/><stop offset="0.293" stop-color="#ffff00"/><stop offset="0.342" stop-color="#afff00"/><stop offset="0.397" stop-color="#00ff00"/><stop offset="0.509" stop-color="#00ffff"/><stop offset="0.602" stop-color="#0000ff"/><stop offset="0.649" stop-color="#7600eb"/><stop offset="0.659" stop-color="#7d00d5"/><stop offset="0.687" stop-color="#8c00aa"/><stop offset="0.714" stop-color="#84007c"/></linearGradient>
<linearGradient id="g110" gradientUnits="userSpaceOnUse" x1="0" y1="39" x2="0" y2="129"><stop offset="0.000" stop-color="#800000"/><stop offset="0.000" stop-color="#ec0000"/><stop offset="0.000" stop-color="#ef0000"/><stop offset="0.178" stop-color="#ff0000"/><stop offset="0.231" stop-color="#ff8000"/><stop offset="0.290" stop-color="#ffff00"/><stop offset="0.340" stop-color="#afff00"/><stop offset="0.396" stop-color="#00ff00"/><stop offset="0.508" stop-color="#00ffff"/><stop offset="0.603" stop-color="#0000ff"/><stop offset="0.650" stop-color="#7600eb"/><stop offset="0.659" stop-color="#7d00d5"/><stop offset="0.687" stop-color="#8c00aa"/><stop offset="0.714" stop-color="#84007c"/></linearGradient>
<linearGradient id="g111" gradientUnits="userSpaceOnUse" x1="0" y1="39" x2="0" y2="129"><stop offset="0.000" stop-color="#800000"/><stop offset="0.000" stop-color="#ec0000"/><stop offset="0.000" stop-color="#ef0000"/><stop offset="0.175" stop-color="#ff0000"/><stop offset="0.228" stop-color="#ff8000"/><stop offset="0.287" stop-color="#ffff00"/><stop offset="0.338" stop-color="#afff00"/><stop offset="0.395" stop-color="#00ff00"/><stop offset="0.507" stop-color="#00ffff"/><stop offset="0.603" stop-color="#0000ff"/><stop offset="0.650" stop-color="#7600eb"/><stop offset="0.659" stop-color="#7d00d5"/><stop offset="0.687" stop-color="#8c00aa"/><stop offset="0.714" stop-color="#84007c"/></linearGradient>
<linearGradient id="g112" gradientUnits="userSpaceOnUse" x1="0" y1="39" x2="0" y2="129"><stop offset="0.000" stop-color="#800000"/><stop offset="0.000" stop-color="#ec0000"/><stop offset="0.000" stop-color="#ef0000"/><stop offset="0.172" stop-color="#ff0000"/><stop offset="0.226" stop-color="#ff8000"/><stop offset="0.285" stop-color="#ffff00"/><stop offset="0.336" stop-color="#afff00"/><stop offset="0.395" stop-color="#00ff00"/><stop offset="0.506" stop-color="#00ffff"/><stop offset="0.603" stop-color="#0000ff"/><stop offset="0.650" stop-color="#7600eb"/><stop offset="0.659" stop-color="#7d00d5"/><stop offset="0.687" stop-color="#8c00aa"/><stop offset="0.714" stop-color="#84007c"/></linearGradient>
<linearGradient id="g113" gradientUnits="userSpaceOnUse" x1="0" y1="39" x2="0" y2="129"><stop offset="0.000" stop-color="#800000"/><stop offset="0.000" stop-color="#ec0000"/><stop offset="0.000" stop-color="#ef0000"/><stop offset="0.170" stop-color="#ff0000"/><stop offset="0.224" stop-color="#ff8000"/><stop offset="0.281" stop-color="#ffff00"/><stop offset="0.333" stop-color="#afff00"/><stop offset="0.392" stop-color="#00ff00"/><stop offset="0.504" stop-color="#00ffff"/><stop offset="0.603" stop-color="#0000ff"/><stop offset="0.650" stop-color="#7600eb"/><stop offset="0.659" stop-color="#7d00d5"/><stop offset="0.687" stop-color="#8c00aa"/><stop offset="0.714" stop-color="#84007c"/></linearGradient>
<linearGradient id="g114" gradientUnits="userSpaceOnUse" x1="0" y1="39" x2="0" y2="129"><stop offset="0.000" stop-color="#800000"/><stop offset="0.000" stop-color="#ec0000"/><stop offset="0.000" stop-color="#ef0000"/><stop offset="0.167" stop-color="#ff0000"/><stop offset="0.221" stop-color="#ff8000"/><stop offset="0.277" stop-color="#ffff00"/><stop offset="0.330" stop-color="#afff00"/><stop offset="0.389" stop-color="#00ff00"/><stop offset="0.501" stop-color="#00ffff"/><stop offset="0.603" stop-color="#0000ff"/><stop offset="0.650" stop-color="#7600eb"/><stop offset="0.659" stop-color="#7d00d5"/><stop offset="0.687" stop-color="#8c00aa"/><stop offset="0.714" stop-color="#84007c"/></linearGradient>
<linearGradient id="g115" gradientUnits="userSpaceOnUse" x1="0" y1="39" x2="0" y2="129"><stop offset="0.000" stop-color="#800000"/><stop offset="0.000" stop-color="#ec0000"/><stop offset="0.000" stop-color="#ef0000"/><stop offset="0.165" stop-color="#ff0000"/><stop offset="0.219" stop-color="#ff8000"/><stop offset="0.274" stop-color="#ffff00"/><stop offset="0.326" stop-color="#afff00"/><stop offset="0.387" stop-color="#00ff00"/><stop offset="0.499" stop-color="#00ffff"/><stop offset="0.603" stop-color="#0000ff"/><stop offset="0.650" stop-color="#7600eb"/><stop offset="0.659" stop-color="#7d00d5"/><stop offset="0.687" stop-color="#8c00aa"/><stop offset="0.714" stop-color="#84007c"/></linearGradient>
<linearGradient id="g116" gradientUnits="userSpaceOnUse" x1="0" y1="39" x2="0" y2="129"><stop offset="0.000" stop-color="#800000"/><stop offset="0.000" stop-color="#ec0000"/><stop offset="0.000" stop-color="#ef0000"/><stop offset="0.162" stop-color="#ff0000"/><stop offset="0.217" stop-color="#ff8000"/><stop offset="0.270" stop-color="#ffff00"/><stop offset="0.323" stop-color="#afff00"/><stop offset="0.384" stop-color="#00ff00"/><stop offset="0.497" stop-color="#00ffff"/><stop offset="0.604" stop-color="#0000ff"/><stop offset="0.650" stop-color="#7600eb"/><stop offset="0.659" stop-color="#7d00d5"/><stop offset="0.687" stop-color="#8c00aa"/><stop offset="0.714" stop-color="#84007c"/></linearGradient>
<linearGradient id="g117" gradientUnits="userSpaceOnUse" x1="0" y1="39" x2="0" y2="129"><stop offset="0.000" stop-color="#800000"/><stop offset="0.000" stop-color="#ec0000"/><stop offset="0.000" stop-color="#ef0000"/><stop offset="0.160" stop-color="#ff0000"/><stop offset="0.215" stop-color="#ff8000"/><stop offset="0.266" stop-color="#ffff00"/><stop offset="0.320" stop-color="#afff00"/><stop offset="0.381" stop-color="#00ff00"/><stop offset="0.494" stop-color="#00ffff"/><stop offset="0.604" stop-color="#0000ff"/><stop offset="0.650" stop-color="#7600eb"/><stop offset="0.659" stop-color="#7d00d5"/><stop offset="0.687" stop-color="#8c00aa"/><stop offset="0.714" stop-color="#84007c"/></linearGradient>
<linearGradient id="g118" gradientUnits="userSpaceOnUse" x1="0" y1="39" x2="0" y2="129"><stop offset="0.000" stop-color="#800000"/><stop offset="0.000" stop-color="#ec0000"/><stop offset="0.000" stop-color="#ef0000"/><stop offset="0.157" stop-color="#ff0000"/><stop offset="0.213" stop-color="#ff8000"/><stop offset="0.262" stop-color="#ffff00"/><stop offset="0.317" stop-color="#afff00"/><stop offset="0.379" stop-color="#00ff00"/><stop offset="0.492" stop-color="#00ffff"/><stop offset="0.604" stop-color="#0000ff"/><stop offset="0.650" stop-color="#7600eb"/><stop offset="0.659" stop-color="#7d00d5"/><stop offset="0.687" stop-color="#8c00aa"/><stop offset="0.714" stop-color="#84007c"/></linearGradient>
<linearGradient id="g119" gradientUnits="userSpaceOnUse" x1="0" y1="39" x2="0" y2="129"><stop offset="0.000" stop-color="#800000"/><stop offset="0.000" stop-color="#ec0000"/><stop offset="0.000" stop-color="#ef0000"/><stop offset="0.155" stop-color="#ff0000"/><stop offset="0.211" stop-color="#ff8000"/><stop offset="0.258" stop-color="#ffff00"/><stop offset="0.313" stop-color="#afff00"/><stop offset="0.376" stop-color="#00ff00"/><stop offset="0.489" stop-color="#00ffff"/><stop offset="0.604" stop-color="#0000ff"/><stop offset="0.650" stop-color="#7600eb"/><stop offset="0.659" stop-color="#7d00d5"/><stop offset="0.687" stop-color="#8c00aa"/><stop offset="0.714" stop-color="#84007c"/></linearGradient>
<linearGradient id="g120" gradientUnits="userSpaceOnUse" x1="0" y1="39" x2="0" y2="129"><stop offset="0.000" stop-color="#800000"/><stop offset="0.000" stop-color="#ec0000"/><stop offset="0.000" stop-color="#ef0000"/><stop offset="0.152" stop-color="#ff0000"/><stop offset="0.208" stop-color="#ff8000"/><stop offset="0.255" stop-color="#ffff00"/><stop offset="0.310" stop-color="#afff00"/><stop offset="0.373" stop-color="#00ff00"/><stop offset="0.487" stop-color="#00ffff"/><stop offset="0.604" stop-color="#0000ff"/><stop offset="0.650" stop-color="#7600eb"/><stop offset="0.659" stop-color="#7d00d5"/><stop offset="0.687" stop-color="#8c00aa"/><stop offset="0.714" stop-color="#84007c"/></linearGradient>
<linearGradient id="g121" gradientUnits="userSpaceOnUse" x1="0" y1="39" x2="0" y2="129"><stop offset="0.000" stop-color="#800000"/><stop offset="0.000" stop-color="#ec0000"/><stop offset="0.000" stop-color="#ef0000"/><stop offset="0.150" stop-color="#ff0000"/><stop offset="0.206" stop-color="#ff8000"/><stop offset="0.251" stop-color="#ffff00"/><stop offset="0.307" stop-color="#afff00"/><stop offset="0.371" stop-color="#00ff00"/><stop offset="0.484" stop-color="#00ffff"/><stop offset="0.605" stop-color="#0000ff"/><stop offset="0.651" stop-color="#7600eb"/><stop offset="0.660" stop-color="#7d00d5"/><stop offset="0.688" stop-color="#8c00aa"/><stop offset="0.716" stop-color="#84007c"/></linearGradient>
<linearGradient id="g122" gradientUnits="userSpaceOnUse" x1="0" y1="39" x2="0" y2="129"><stop offset="0.000" stop-color="#800000"/><stop offset="0.000" stop-color="#ec0000"/><stop offset="0.000" stop-color="#ef0000"/><stop offset="0.149" stop-color="#ff0000"/><stop offset="0.204" stop-color="#ff8000"/><stop offset="0.247" stop-color="#ffff00"/><stop offset="0.303" stop-color="#afff00"/><stop offset="0.368" stop-color="#00ff00"/><stop offset="0.482" stop-color="#00ffff"/><stop offset="0.608" stop-color="#0000ff"/><stop offset="0.654" stop-color="#7600eb"/><stop offset="0.663" stop-color="#7d00d5"/><stop offset="0.691" stop-color="#8c00aa"/><stop offset="0.719" stop-color="#84007c"/></linearGradient>
<linearGradient id="g123" gradientUnits="userSpaceOnUse" x1="0" y1="39" x2="0" y2="129"><stop offset="0.000" stop-color="#800000"/><stop offset="0.000" stop-color="#ec0000"/><stop offset="0.000" stop-color="#ef0000"/><stop offset="0.148" stop-color="#ff0000"/><stop offset="0.203" stop-color="#ff8000"/><stop offset="0.243" stop-color="#ffff00"/><stop offset="0.300" stop-color="#afff00"/><stop offset="0.365" stop-color="#00ff00"/><stop offset="0.479" stop-color="#00ffff"/><stop offset="0.610" stop-color="#0000ff"/><stop offset="0.657" stop-color="#7600eb"/><stop offset="0.666" stop-color="#7d00d5"/><stop offset="0.694" stop-color="#8c00aa"/><stop offset="0.722" stop-color="#84007c"/></linearGradient>
<linearGradient id="g124" gradientUnits="userSpaceOnUse" x1="0" y1="39" x2="0" y2="129"><stop offset="0.000" stop-color="#800000"/><stop offset="0.000" stop-color="#ec0000"/><stop offset="0.000" stop-color="#ef0000"/><stop offset="0.147" stop-color="#ff0000"/><stop offset="0.201" stop-color="#ff8000"/><stop offset="0.242" stop-color="#ffff00"/><stop offset="0.298" stop-color="#afff00"/><stop offset="0.362" stop-color="#00ff00"/><stop offset="0.477" stop-color="#00ffff"/><stop offset="0.612" stop-color="#0000ff"/><stop offset="0.659" stop-color="#7600eb"/><stop offset="0.669" stop-color="#7d00d5"/><stop offset="0.697" stop-color="#8c00aa"/><stop offset="0.725" stop-color="#84007c"/></linearGradient>
<linearGradient id="g125" gradientUnits="userSpaceOnUse" x1="0" y1="39" x2="0" y2="129"><stop offset="0.000" stop-color="#800000"/><stop offset="0.000" stop-color="#ec0000"/><stop offset="0.000" stop-color="#ef0000"/><stop offset="0.147" stop-color="#ff0000"/><stop offset="0.200" stop-color="#ff8000"/><stop offset="0.241" stop-color="#ffff00"/><stop offset="0.299" stop-color="#afff00"/><stop offset="0.366" stop-color="#00ff00"/><stop offset="0.475" stop-color="#00ffff"/><stop offset="0.615" stop-color="#0000ff"/><stop offset="0.662" stop-color="#7600eb"/><stop offset="0.672" stop-color="#7d00d5"/><stop offset="0.700" stop-color="#8c00aa"/><stop offset="0.727" stop-color="#84007c"/></linearGradient>
<linearGradient id="g126" gradientUnits="userSpaceOnUse" x1="0" y1="39" x2="0" y2="129"><stop offset="0.000" stop-color="#800000"/><stop offset="0.000" stop-color="#ec0000"/><stop offset="0.000" stop-color="#ef0000"/><stop offset="0.146" stop-color="#ff0000"/><stop offset="0.199" stop-color="#ff8000"/><stop offset="0.240" stop-color="#ffff00"/><stop offset="0.303" stop-color="#afff00"/><stop offset="0.376" stop-color="#00ff00"/><stop offset="0.479" stop-color="#00ffff"/><stop offset="0.617" stop-color="#0000ff"/><stop offset="0.665" stop-color="#7600eb"/><stop offset="0.675" stop-color="#7d00d5"/><stop offset="0.703" stop-color="#8c00aa"/><stop offset="0.730" stop-color="#84007c"/></linearGradient>
<linearGradient id="g127" gradientUnits="userSpaceOnUse" x1="0" y1="39" x2="0" y2="129"><stop offset="0.000" stop-color="#800000"/><stop offset="0.000" stop-color="#ec0000"/><stop offset="0.000" stop-color="#ef0000"/><stop offset="0.145" stop-color="#ff0000"/><stop offset="0.198" stop-color="#ff8000"/><stop offset="0.239" stop-color="#ffff00"/><stop offset="0.307" stop-color="#afff00"/><stop offset="0.385" stop-color="#00ff00"/><stop offset="0.489" stop-color="#00ffff"/><stop offset="0.619" stop-color="#0000ff"/><stop offset="0.668" stop-color="#7600eb"/><stop offset="0.678" stop-color="#7d00d5"/><stop offset="0.706" stop-color="#8c00aa"/><stop offset="0.733" stop-color="#84007c"/></linearGradient>
<linearGradient id="g128" gradientUnits="userSpaceOnUse" x1="0" y1="39" x2="0" y2="129"><stop offset="0.000" stop-color="#800000"/><stop offset="0.000" stop-color="#ec0000"/><stop offset="0.000" stop-color="#ef0000"/><stop offset="0.144" stop-color="#ff0000"/><stop offset="0.197" stop-color="#ff8000"/><stop offset="0.238" stop-color="#ffff00"/><stop offset="0.311" stop-color="#afff00"/><stop offset="0.395" stop-color="#00ff00"/><stop offset="0.500" stop-color="#00ffff"/><stop offset="0.623" stop-color="#0000ff"/><stop offset="0.671" stop-color="#7600eb"/><stop offset="0.681" stop-color="#7d00d5"/><stop offset="0.709" stop-color="#8c00aa"/><stop offset="0.736" stop-color="#84007c"/></linearGradient>
<linearGradient id="g129" gradientUnits="userSpaceOnUse" x1="0" y1="39" x2="0" y2="129"><stop offset="0.000" stop-color="#800000"/><stop offset="0.000" stop-color="#ec0000"/><stop offset="0.000" stop-color="#ef0000"/><stop offset="0.143" stop-color="#ff0000"/><stop offset="0.195" stop-color="#ff8000"/><stop offset="0.237" stop-color="#ffff00"/><stop offset="0.316" stop-color="#afff00"/><stop offset="0.407" stop-color="#00ff00"/><stop offset="0.511" stop-color="#00ffff"/><stop offset="0.627" stop-color="#0000ff"/><stop offset="0.674" stop-color="#7600eb"/><stop offset="0.684" stop-color="#7d00d5"/><stop offset="0.712" stop-color="#8c00aa"/><stop offset="0.739" stop-color="#84007c"/></linearGradient>
<linearGradient id="g130" gradientUnits="userSpaceOnUse" x1="0" y1="39" x2="0" y2="129"><stop offset="0.000" stop-color="#800000"/><stop offset="0.000" stop-color="#ec0000"/><stop offset="0.000" stop-color="#ef0000"/><stop offset="0.142" stop-color="#ff0000"/><stop offset="0.194" stop-color="#ff8000"/><stop offset="0.236" stop-color="#ffff00"/><stop offset="0.322" stop-color="#afff00"/><stop offset="0.421" stop-color="#00ff00"/><stop offset="0.522" stop-color="#00ffff"/><stop offset="0.632" stop-color="#0000ff"/><stop offset="0.678" stop-color="#7600eb"/><stop offset="0.687" stop-color="#7d00d5"/><stop offset="0.714" stop-color="#8c00aa"/><stop offset="0.742" stop-color="#84007c"/></linearGradient>
<linearGradient id="g131" gradientUnits="userSpaceOnUse" x1="0" y1="39" x2="0" y2="129"><stop offset="0.000" stop-color="#800000"/><stop offset="0.000" stop-color="#ec0000"/><stop offset="0.000" stop-color="#ef0000"/><stop offset="0.141" stop-color="#ff0000"/><stop offset="0.193" stop-color="#ff8000"/><stop offset="0.235" stop-color="#ffff00"/><stop offset="0.328" stop-color="#afff00"/><stop offset="0.435" stop-color="#00ff00"/><stop offset="0.530" stop-color="#00ffff"/><stop offset="0.636" stop-color="#0000ff"/><stop offset="0.681" stop-color="#7600eb"/><stop offset="0.690" stop-color="#7d00d5"/><stop offset="0.717" stop-color="#8c00aa"/><stop offset="0.745" stop-color="#84007c"/></linearGradient>
<linearGradient id="g132" gradientUnits="userSpaceOnUse" x1="0" y1="39" x2="0" y2="129"><stop offset="0.000" stop-color="#800000"/><stop offset="0.000" stop-color="#ec0000"/><stop offset="0.000" stop-color="#ef0000"/><stop offset="0.141" stop-color="#ff0000"/><stop offset="0.192" stop-color="#ff8000"/><stop offset="0.234" stop-color="#ffff00"/><stop offset="0.334" stop-color="#afff00"/><stop offset="0.449" stop-color="#00ff00"/><stop offset="0.535" stop-color="#00ffff"/><stop offset="0.640" stop-color="#0000ff"/><stop offset="0.684" stop-color="#7600eb"/><stop offset="0.693" stop-color="#7d00d5"/><stop offset="0.720" stop-color="#8c00aa"/><stop offset="0.748" stop-color="#84007c"/></linearGradient>
<linearGradient id="g133" gradientUnits="userSpaceOnUse" x1="0" y1="39" x2="0" y2="129"><stop offset="0.000" stop-color="#800000"/><stop offset="0.000" stop-color="#ec0000"/><stop offset="0.000" stop-color="#ef0000"/><stop offset="0.140" stop-color="#ff0000"/><stop offset="0.191" stop-color="#ff8000"/><stop offset="0.233" stop-color="#ffff00"/><stop offset="0.338" stop-color="#afff00"/><stop offset="0.458" stop-color="#00ff00"/><stop offset="0.540" stop-color="#00ffff"/><stop offset="0.644" stop-color="#0000ff"/><stop offset="0.687" stop-color="#7600eb"/><stop offset="0.696" stop-color="#7d00d5"/><stop offset="0.723" stop-color="#8c00aa"/><stop offset="0.751" stop-color="#84007c"/></linearGradient>
<linearGradient id="g134" gradientUnits="userSpaceOnUse" x1="0" y1="39" x2="0" y2="129"><stop offset="0.000" stop-color="#800000"/><stop offset="0.000" stop-color="#ec0000"/><stop offset="0.000" stop-color="#ef0000"/><stop offset="0.139" stop-color="#ff0000"/><stop offset="0.190" stop-color="#ff8000"/><stop offset="0.232" stop-color="#ffff00"/><stop offset="0.340" stop-color="#afff00"/><stop offset="0.464" stop-color="#00ff00"/><stop offset="0.545" stop-color="#00ffff"/><stop offset="0.648" stop-color="#0000ff"/><stop offset="0.690" stop-color="#7600eb"/><stop offset="0.699" stop-color="#7d00d5"/><stop offset="0.726" stop-color="#8c00aa"/><stop offset="0.754" stop-color="#84007c"/></linearGradient>
<linearGradient id="g135" gradientUnits="userSpaceOnUse" x1="0" y1="39" x2="0" y2="129"><stop offset="0.000" stop-color="#800000"/><stop offset="0.000" stop-color="#ec0000"/><stop offset="0.000" stop-color="#ef0000"/><stop offset="0.138" stop-color="#ff0000"/><stop offset="0.188" stop-color="#ff8000"/><stop offset="0.231" stop-color="#ffff00"/><stop offset="0.342" stop-color="#afff00"/><stop offset="0.469" stop-color="#00ff00"/><stop offset="0.550" stop-color="#00ffff"/><stop offset="0.652" stop-color="#0000ff"/><stop offset="0.694" stop-color="#7600eb"/><stop offset="0.703" stop-color="#7d00d5"/><stop offset="0.731" stop-color="#8c00aa"/><stop offset="0.759" stop-color="#84007c"/></linearGradient>
<linearGradient id="g136" gradientUnits="userSpaceOnUse" x1="0" y1="39" x2="0" y2="129"><stop offset="0.000" stop-color="#800000"/><stop offset="0.000" stop-color="#ec0000"/><stop offset="0.000" stop-color="#ef0000"/><stop offset="0.137" stop-color="#ff0000"/><stop offset="0.187" stop-color="#ff8000"/><stop offset="0.230" stop-color="#ffff00"/><stop offset="0.344" stop-color="#afff00"/><stop offset="0.475" stop-color="#00ff00"/><stop offset="0.555" stop-color="#00ffff"/><stop offset="0.656" stop-color="#0000ff"/><stop offset="0.700" stop-color="#7600eb"/><stop offset="0.708" stop-color="#7d00d5"/><stop offset="0.737" stop-color="#8c00aa"/><stop offset="0.765" stop-color="#84007c"/></linearGradient>
<linearGradient id="g137" gradientUnits="userSpaceOnUse" x1="0" y1="39" x2="0" y2="129"><stop offset="0.000" stop-color="#800000"/><stop offset="0.000" stop-color="#ec0000"/><stop offset="0.000" stop-color="#ef0000"/><stop offset="0.136" stop-color="#ff0000"/><stop offset="0.186" stop-color="#ff8000"/><stop offset="0.229" stop-color="#ffff00"/><stop offset="0.346" stop-color="#afff00"/><stop offset="0.481" stop-color="#00ff00"/><stop offset="0.559" stop-color="#00ffff"/><stop offset="0.659" stop-color="#0000ff"/><stop offset="0.705" stop-color="#7600eb"/><stop offset="0.714" stop-color="#7d00d5"/><stop offset="0.743" stop-color="#8c00aa"/><stop offset="0.772" stop-color="#84007c"/></linearGradient>
<linearGradient id="g138" gradientUnits="userSpaceOnUse" x1="0" y1="39" x2="0" y2="129"><stop offset="0.000" stop-color="#800000"/><stop offset="0.000" stop-color="#ec0000"/><stop offset="0.000" stop-color="#ef0000"/><stop offset="0.135" stop-color="#ff0000"/><stop offset="0.185" stop-color="#ff8000"/><stop offset="0.227" stop-color="#ffff00"/><stop offset="0.348" stop-color="#afff00"/><stop offset="0.486" stop-color="#00ff00"/><stop offset="0.564" stop-color="#00ffff"/><stop offset="0.663" stop-color="#0000ff"/><stop offset="0.710" stop-color="#7600eb"/><stop offset="0.719" stop-color="#7d00d5"/><stop offset="0.749" stop-color="#8c00aa"/><stop offset="0.778" stop-color="#84007c"/></linearGradient>
<linearGradient id="g139" gradientUnits="userSpaceOnUse" x1="0" y1="39" x2="0" y2="129"><stop offset="0.000" stop-color="#800000"/><stop offset="0.000" stop-color="#ec0000"/><stop offset="0.000" stop-color="#ef0000"/><stop offset="0.135" stop-color="#ff0000"/><stop offset="0.184" stop-color="#ff8000"/><stop offset="0.226" stop-color="#ffff00"/><stop offset="0.350" stop-color="#afff00"/><stop offset="0.492" stop-color="#00ff00"/><stop offset="0.569" stop-color="#00ffff"/><stop offset="0.667" stop-color="#0000ff"/><stop offset="0.715" stop-color="#7600eb"/><stop offset="0.725" stop-color="#7d00d5"/><stop offset="0.755" stop-color="#8c00aa"/><stop offset="0.785" stop-color="#84007c"/></linearGradient>
<linearGradient id="g140" gradientUnits="userSpaceOnUse" x1="0" y1="39" x2="0" y2="129"><stop offset="0.000" stop-color="#800000"/><stop offset="0.000" stop-color="#ec0000"/><stop offset="0.000" stop-color="#ef0000"/><stop offset="0.134" stop-color="#ff0000"/><stop offset="0.183" stop-color="#ff8000"/><stop offset="0.225" stop-color="#ffff00"/><stop offset="0.352" stop-color="#afff00"/><stop offset="0.497" stop-color="#00ff00"/><stop offset="0.573" stop-color="#00ffff"/><stop offset="0.670" stop-color="#0000ff"/><stop offset="0.721" stop-color="#7600eb"/><stop offset="0.731" stop-color="#7d00d5"/><stop offset="0.761" stop-color="#8c00aa"/><stop offset="0.791" stop-color="#84007c"/></linearGradient>
<linearGradient id="g141" gradientUnits="userSpaceOnUse" x1="0" y1="39" x2="0" y2="129"><stop offset="0.000" stop-color="#800000"/><stop offset="0.000" stop-color="#ec0000"/><stop offset="0.000" stop-color="#ef0000"/><stop offset="0.133" stop-color="#ff0000"/><stop offset="0.181" stop-color="#ff8000"/><stop offset="0.224" stop-color="#ffff00"/><stop offset="0.354" stop-color="#afff00"/><stop offset="0.503" stop-color="#00ff00"/><stop offset="0.576" stop-color="#00ffff"/><stop offset="0.674" stop-color="#0000ff"/><stop offset="0.726" stop-color="#7600eb"/><stop offset="0.736" stop-color="#7d00d5"/><stop offset="0.767" stop-color="#8c00aa"/><stop offset="0.798" stop-color="#84007c"/></linearGradient>
<linearGradient id="g142" gradientUnits="userSpaceOnUse" x1="0" y1="39" x2="0" y2="129"><stop offset="0.000" stop-color="#800000"/><stop offset="0.000" stop-color="#ec0000"/><stop offset="0.000" stop-color="#ef0000"/><stop offset="0.132" stop-color="#ff0000"/><stop offset="0.180" stop-color="#ff8000"/><stop offset="0.223" stop-color="#ffff00"/><stop offset="0.356" stop-color="#afff00"/><stop offset="0.508" stop-color="#00ff00"/><stop offset="0.580" stop-color="#00ffff"/><stop offset="0.678" stop-color="#0000ff"/><stop offset="0.731" stop-color="#7600eb"/><stop offset="0.742" stop-color="#7d00d5"/><stop offset="0.773" stop-color="#8c00aa"/><stop offset="0.804" stop-color="#84007c"/></linearGradient>
<linearGradient id="g143" gradientUnits="userSpaceOnUse" x1="0" y1="39" x2="0" y2="129"><stop offset="0.000" stop-color="#800000"/><stop offset="0.000" stop-color="#ec0000"/><stop offset="0.000" stop-color="#ef0000"/><stop offset="0.131" stop-color="#ff0000"/><stop offset="0.179" stop-color="#ff8000"/><stop offset="0.222" stop-color="#ffff00"/><stop offset="0.358" stop-color="#afff00"/><stop offset="0.514" stop-color="#00ff00"/><stop offset="0.584" stop-color="#00ffff"/><stop offset="0.681" stop-color="#0000ff"/><stop offset="0.736" stop-color="#7600eb"/><stop offset="0.747" stop-color="#7d00d5"/><stop offset="0.779" stop-color="#8c00aa"/><stop offset="0.811" stop-color="#84007c"/></linearGradient>
<linearGradient id="g144" gradientUnits="userSpaceOnUse" x1="0" y1="39" x2="0" y2="129"><stop offset="0.000" stop-color="#800000"/><stop offset="0.000" stop-color="#ec0000"/><stop offset="0.000" stop-color="#ef0000"/><stop offset="0.130" stop-color="#ff0000"/><stop offset="0.178" stop-color="#ff8000"/><stop offset="0.221" stop-color="#ffff00"/><stop offset="0.360" stop-color="#afff00"/><stop offset="0.519" stop-color="#00ff00"/><stop offset="0.588" stop-color="#00ffff"/><stop offset="0.685" stop-color="#0000ff"/><stop offset="0.742" stop-color="#7600eb"/><stop offset="0.753" stop-color="#7d00d5"/><stop offset="0.785" stop-color="#8c00aa"/><stop offset="0.817" stop-color="#84007c"/></linearGradient>
<linearGradient id="g145" gradientUnits="userSpaceOnUse" x1="0" y1="39" x2="0" y2="129"><stop offset="0.000" stop-color="#800000"/><stop offset="0.000" stop-color="#ec0000"/><stop offset="0.000" stop-color="#ef0000"/><stop offset="0.129" stop-color="#ff0000"/><stop offset="0.177" stop-color="#ff8000"/><stop offset="0.220" stop-color="#ffff00"/><stop offset="0.362" stop-color="#afff00"/><stop offset="0.525" stop-color="#00ff00"/><stop offset="0.592" stop-color="#00ffff"/><stop offset="0.689" stop-color="#0000ff"/><stop offset="0.747" stop-color="#7600eb"/><stop offset="0.758" stop-color="#7d00d5"/><stop offset="0.791" stop-color="#8c00aa"/><stop offset="0.824" stop-color="#84007c"/></linearGradient>
<linearGradient id="g146" gradientUnits="userSpaceOnUse" x1="0" y1="39" x2="0" y2="129"><stop offset="0.000" stop-color="#800000"/><stop offset="0.000" stop-color="#ec0000"/><stop offset="0.000" stop-color="#ef0000"/><stop offset="0.129" stop-color="#ff0000"/><stop offset="0.175" stop-color="#ff8000"/><stop offset="0.219" stop-color="#ffff00"/><stop offset="0.364" stop-color="#afff00"/><stop offset="0.531" stop-color="#00ff00"/><stop offset="0.596" stop-color="#00ffff"/><stop offset="0.693" stop-color="#0000ff"/><stop offset="0.752" stop-color="#7600eb"/><stop offset="0.764" stop-color="#7d00d5"/><stop offset="0.797" stop-color="#8c00aa"/><stop offset="0.830" stop-color="#84007c"/></linearGradient>
<linearGradient id="g147" gradientUnits="userSpaceOnUse" x1="0" y1="39" x2="0" y2="129"><stop offset="0.000" stop-color="#800000"/><stop offset="0.000" stop-color="#ec0000"/><stop offset="0.000" stop-color="#ef0000"/><stop offset="0.128" stop-color="#ff0000"/><stop offset="0.174" stop-color="#ff8000"/><stop offset="0.218" stop-color="#ffff00"/><stop offset="0.368" stop-color="#afff00"/><stop offset="0.539" stop-color="#00ff00"/><stop offset="0.603" stop-color="#00ffff"/><stop offset="0.701" stop-color="#0000ff"/><stop offset="0.763" stop-color="#7600eb"/><stop offset="0.775" stop-color="#7d00d5"/><stop offset="0.808" stop-color="#8c00aa"/><stop offset="0.841" stop-color="#84007c"/></linearGradient>
<linearGradient id="g148" gradientUnits="userSpaceOnUse" x1="0" y1="39" x2="0" y2="129"><stop offset="0.000" stop-color="#800000"/><stop offset="0.000" stop-color="#ec0000"/><stop offset="0.000" stop-color="#ef0000"/><stop offset="0.127" stop-color="#ff0000"/><stop offset="0.173" stop-color="#ff8000"/><stop offset="0.217" stop-color="#ffff00"/><stop offset="0.372" stop-color="#afff00"/><stop offset="0.550" stop-color="#00ff00"/><stop offset="0.614" stop-color="#00ffff"/><stop offset="0.714" stop-color="#0000ff"/><stop offset="0.779" stop-color="#7600eb"/><stop offset="0.792" stop-color="#7d00d5"/><stop offset="0.824" stop-color="#8c00aa"/><stop offset="0.856" stop-color="#84007c"/></linearGradient>
<linearGradient id="g149" gradientUnits="userSpaceOnUse" x1="0" y1="39" x2="0" y2="129"><stop offset="0.000" stop-color="#800000"/><stop offset="0.000" stop-color="#ec0000"/><stop offset="0.000" stop-color="#ef0000"/><stop offset="0.126" stop-color="#ff0000"/><stop offset="0.172" stop-color="#ff8000"/><stop offset="0.216" stop-color="#ffff00"/><stop offset="0.377" stop-color="#afff00"/><stop offset="0.561" stop-color="#00ff00"/><stop offset="0.626" stop-color="#00ffff"/><stop offset="0.727" stop-color="#0000ff"/><stop offset="0.795" stop-color="#7600eb"/><stop offset="0.809" stop-color="#7d00d5"/><stop offset="0.840" stop-color="#8c00aa"/><stop offset="0.871" stop-color="#84007c"/></linearGradient>
<linearGradient id="g150" gradientUnits="userSpaceOnUse" x1="0" y1="39" x2="0" y2="129"><stop offset="0.000" stop-color="#800000"/><stop offset="0.000" stop-color="#ec0000"/><stop offset="0.000" stop-color="#ef0000"/><stop offset="0.125" stop-color="#ff0000"/><stop offset="0.171" stop-color="#ff8000"/><stop offset="0.215" stop-color="#ffff00"/><stop offset="0.382" stop-color="#afff00"/><stop offset="0.572" stop-color="#00ff00"/><stop offset="0.637" stop-color="#00ffff"/><stop offset="0.740" stop-color="#0000ff"/><stop offset="0.812" stop-color="#7600eb"/><stop offset="0.826" stop-color="#7d00d5"/><stop offset="0.856" stop-color="#8c00aa"/><stop offset="0.886" stop-color="#84007c"/></linearGradient>
<linearGradient id="g151" gradientUnits="userSpaceOnUse" x1="0" y1="39" x2="0" y2="129"><stop offset="0.000" stop-color="#800000"/><stop offset="0.000" stop-color="#ec0000"/><stop offset="0.000" stop-color="#ef0000"/><stop offset="0.124" stop-color="#ff0000"/><stop offset="0.170" stop-color="#ff8000"/><stop offset="0.214" stop-color="#ffff00"/><stop offset="0.389" stop-color="#afff00"/><stop offset="0.589" stop-color="#00ff00"/><stop offset="0.663" stop-color="#00ffff"/><stop offset="0.763" stop-color="#0000ff"/><stop offset="0.830" stop-color="#7600eb"/><stop offset="0.843" stop-color="#7d00d5"/><stop offset="0.872" stop-color="#8c00aa"/><stop offset="0.902" stop-color="#84007c"/></linearGradient>
<linearGradient id="g152" gradientUnits="userSpaceOnUse" x1="0" y1="39" x2="0" y2="129"><stop offset="0.000" stop-color="#800000"/><stop offset="0.000" stop-color="#ec0000"/><stop offset="0.000" stop-color="#ef0000"/><stop offset="0.124" stop-color="#ff0000"/><stop offset="0.168" stop-color="#ff8000"/><stop offset="0.213" stop-color="#ffff00"/><stop offset="0.399" stop-color="#afff00"/><stop offset="0.611" stop-color="#00ff00"/><stop offset="0.689" stop-color="#00ffff"/><stop offset="0.794" stop-color="#0000ff"/><stop offset="0.849" stop-color="#7600eb"/><stop offset="0.860" stop-color="#7d00d5"/><stop offset="0.888" stop-color="#8c00aa"/><stop offset="0.917" stop-color="#84007c"/></linearGradient>
<clipPath id="c_c1"><polygon points="250.9,289.8 255.4,289.8 255.4,300.0 256.2,306.0 258.5,313.0 259.5,321.5 260.2,327.6 260.9,337.9 259.5,336.8 251.3,322.9"/></clipPath>
<linearGradient id="g153" gradientUnits="userSpaceOnUse" x1="0" y1="288" x2="0" y2="339"><stop offset="0.000" stop-color="#800000"/><stop offset="0.000" stop-color="#ec0000"/><stop offset="0.000" stop-color="#ef0000"/><stop offset="0.000" stop-color="#ff0000"/><stop offset="0.028" stop-color="#ff8000"/><stop offset="0.087" stop-color="#ffff00"/><stop offset="0.156" stop-color="#afff00"/><stop offset="0.236" stop-color="#00ff00"/><stop offset="0.355" stop-color="#00ffff"/><stop offset="0.506" stop-color="#0000ff"/><stop offset="0.598" stop-color="#7600eb"/><stop offset="0.616" stop-color="#7d00d5"/><stop offset="0.642" stop-color="#8c00aa"/><stop offset="0.667" stop-color="#84007c"/></linearGradient>
<linearGradient id="g154" gradientUnits="userSpaceOnUse" x1="0" y1="288" x2="0" y2="339"><stop offset="0.000" stop-color="#800000"/><stop offset="0.000" stop-color="#ec0000"/><stop offset="0.000" stop-color="#ef0000"/><stop offset="0.000" stop-color="#ff0000"/><stop offset="0.033" stop-color="#ff8000"/><stop offset="0.092" stop-color="#ffff00"/><stop offset="0.162" stop-color="#afff00"/><stop offset="0.241" stop-color="#00ff00"/><stop offset="0.361" stop-color="#00ffff"/><stop offset="0.512" stop-color="#0000ff"/><stop offset="0.603" stop-color="#7600eb"/><stop offset="0.621" stop-color="#7d00d5"/><stop offset="0.647" stop-color="#8c00aa"/><stop offset="0.672" stop-color="#84007c"/></linearGradient>
<linearGradient id="g155" gradientUnits="userSpaceOnUse" x1="0" y1="288" x2="0" y2="339"><stop offset="0.000" stop-color="#800000"/><stop offset="0.000" stop-color="#ec0000"/><stop offset="0.000" stop-color="#ef0000"/><stop offset="0.000" stop-color="#ff0000"/><stop offset="0.039" stop-color="#ff8000"/><stop offset="0.098" stop-color="#ffff00"/><stop offset="0.167" stop-color="#afff00"/><stop offset="0.247" stop-color="#00ff00"/><stop offset="0.366" stop-color="#00ffff"/><stop offset="0.517" stop-color="#0000ff"/><stop offset="0.609" stop-color="#7600eb"/><stop offset="0.627" stop-color="#7d00d5"/><stop offset="0.653" stop-color="#8c00aa"/><stop offset="0.678" stop-color="#84007c"/></linearGradient>
<linearGradient id="g156" gradientUnits="userSpaceOnUse" x1="0" y1="288" x2="0" y2="339"><stop offset="0.000" stop-color="#800000"/><stop offset="0.000" stop-color="#ec0000"/><stop offset="0.000" stop-color="#ef0000"/><stop offset="0.000" stop-color="#ff0000"/><stop offset="0.045" stop-color="#ff8000"/><stop offset="0.104" stop-color="#ffff00"/><stop offset="0.173" stop-color="#afff00"/><stop offset="0.253" stop-color="#00ff00"/><stop offset="0.372" stop-color="#00ffff"/><stop offset="0.523" stop-color="#0000ff"/><stop offset="0.615" stop-color="#7600eb"/><stop offset="0.633" stop-color="#7d00d5"/><stop offset="0.659" stop-color="#8c00aa"/><stop offset="0.684" stop-color="#84007c"/></linearGradient>
<linearGradient id="g157" gradientUnits="userSpaceOnUse" x1="0" y1="288" x2="0" y2="339"><stop offset="0.000" stop-color="#800000"/><stop offset="0.000" stop-color="#ec0000"/><stop offset="0.000" stop-color="#ef0000"/><stop offset="0.000" stop-color="#ff0000"/><stop offset="0.051" stop-color="#ff8000"/><stop offset="0.110" stop-color="#ffff00"/><stop offset="0.179" stop-color="#afff00"/><stop offset="0.259" stop-color="#00ff00"/><stop offset="0.378" stop-color="#00ffff"/><stop offset="0.529" stop-color="#0000ff"/><stop offset="0.621" stop-color="#7600eb"/><stop offset="0.639" stop-color="#7d00d5"/><stop offset="0.665" stop-color="#8c00aa"/><stop offset="0.690" stop-color="#84007c"/></linearGradient>
<linearGradient id="g158" gradientUnits="userSpaceOnUse" x1="0" y1="288" x2="0" y2="339"><stop offset="0.000" stop-color="#800000"/><stop offset="0.000" stop-color="#ec0000"/><stop offset="0.000" stop-color="#ef0000"/><stop offset="0.006" stop-color="#ff0000"/><stop offset="0.057" stop-color="#ff8000"/><stop offset="0.115" stop-color="#ffff00"/><stop offset="0.185" stop-color="#afff00"/><stop offset="0.265" stop-color="#00ff00"/><stop offset="0.384" stop-color="#00ffff"/><stop offset="0.535" stop-color="#0000ff"/><stop offset="0.627" stop-color="#7600eb"/><stop offset="0.645" stop-color="#7d00d5"/><stop offset="0.670" stop-color="#8c00aa"/><stop offset="0.696" stop-color="#84007c"/></linearGradient>
<linearGradient id="g159" gradientUnits="userSpaceOnUse" x1="0" y1="288" x2="0" y2="339"><stop offset="0.000" stop-color="#800000"/><stop offset="0.000" stop-color="#ec0000"/><stop offset="0.000" stop-color="#ef0000"/><stop offset="0.012" stop-color="#ff0000"/><stop offset="0.063" stop-color="#ff8000"/><stop offset="0.121" stop-color="#ffff00"/><stop offset="0.191" stop-color="#afff00"/><stop offset="0.270" stop-color="#00ff00"/><stop offset="0.390" stop-color="#00ffff"/><stop offset="0.541" stop-color="#0000ff"/><stop offset="0.632" stop-color="#7600eb"/><stop offset="0.651" stop-color="#7d00d5"/><stop offset="0.676" stop-color="#8c00aa"/><stop offset="0.702" stop-color="#84007c"/></linearGradient>
<linearGradient id="g160" gradientUnits="userSpaceOnUse" x1="0" y1="288" x2="0" y2="339"><stop offset="0.000" stop-color="#800000"/><stop offset="0.000" stop-color="#ec0000"/><stop offset="0.000" stop-color="#ef0000"/><stop offset="0.017" stop-color="#ff0000"/><stop offset="0.068" stop-color="#ff8000"/><stop offset="0.127" stop-color="#ffff00"/><stop offset="0.197" stop-color="#afff00"/><stop offset="0.276" stop-color="#00ff00"/><stop offset="0.396" stop-color="#00ffff"/><stop offset="0.547" stop-color="#0000ff"/><stop offset="0.638" stop-color="#7600eb"/><stop offset="0.657" stop-color="#7d00d5"/><stop offset="0.682" stop-color="#8c00aa"/><stop offset="0.708" stop-color="#84007c"/></linearGradient>
<linearGradient id="g161" gradientUnits="userSpaceOnUse" x1="0" y1="288" x2="0" y2="339"><stop offset="0.000" stop-color="#800000"/><stop offset="0.000" stop-color="#ec0000"/><stop offset="0.000" stop-color="#ef0000"/><stop offset="0.023" stop-color="#ff0000"/><stop offset="0.074" stop-color="#ff8000"/><stop offset="0.133" stop-color="#ffff00"/><stop offset="0.203" stop-color="#afff00"/><stop offset="0.282" stop-color="#00ff00"/><stop offset="0.402" stop-color="#00ffff"/><stop offset="0.553" stop-color="#0000ff"/><stop offset="0.644" stop-color="#7600eb"/><stop offset="0.663" stop-color="#7d00d5"/><stop offset="0.688" stop-color="#8c00aa"/><stop offset="0.714" stop-color="#84007c"/></linearGradient>
<linearGradient id="g162" gradientUnits="userSpaceOnUse" x1="0" y1="288" x2="0" y2="339"><stop offset="0.000" stop-color="#800000"/><stop offset="0.000" stop-color="#ec0000"/><stop offset="0.000" stop-color="#ef0000"/><stop offset="0.029" stop-color="#ff0000"/><stop offset="0.080" stop-color="#ff8000"/><stop offset="0.139" stop-color="#ffff00"/><stop offset="0.209" stop-color="#afff00"/><stop offset="0.288" stop-color="#00ff00"/><stop offset="0.408" stop-color="#00ffff"/><stop offset="0.559" stop-color="#0000ff"/><stop offset="0.650" stop-color="#7600eb"/><stop offset="0.668" stop-color="#7d00d5"/><stop offset="0.694" stop-color="#8c00aa"/><stop offset="0.719" stop-color="#84007c"/></linearGradient>
<linearGradient id="g163" gradientUnits="userSpaceOnUse" x1="0" y1="288" x2="0" y2="339"><stop offset="0.000" stop-color="#800000"/><stop offset="0.000" stop-color="#ec0000"/><stop offset="0.000" stop-color="#ef0000"/><stop offset="0.032" stop-color="#ff0000"/><stop offset="0.083" stop-color="#ff8000"/><stop offset="0.142" stop-color="#ffff00"/><stop offset="0.212" stop-color="#afff00"/><stop offset="0.291" stop-color="#00ff00"/><stop offset="0.411" stop-color="#00ffff"/><stop offset="0.562" stop-color="#0000ff"/><stop offset="0.653" stop-color="#7600eb"/><stop offset="0.671" stop-color="#7d00d5"/><stop offset="0.697" stop-color="#8c00aa"/><stop offset="0.722" stop-color="#84007c"/></linearGradient>
<clipPath id="c_c1b"><polygon points="254.8,290.0 257.9,290.0 259.3,295.5 260.4,307.0 261.3,313.0 262.0,317.1 262.3,338.5 260.3,337.8 259.6,327.6 258.9,321.5 257.9,313.0 255.6,306.0 254.8,300.0"/></clipPath>
<linearGradient id="g164" gradientUnits="userSpaceOnUse" x1="0" y1="289" x2="0" y2="340"><stop offset="0.000" stop-color="#800000"/><stop offset="0.000" stop-color="#ec0000"/><stop offset="0.000" stop-color="#ef0000"/><stop offset="0.033" stop-color="#ff0000"/><stop offset="0.108" stop-color="#ff8000"/><stop offset="0.202" stop-color="#ffff00"/><stop offset="0.290" stop-color="#afff00"/><stop offset="0.390" stop-color="#00ff00"/><stop offset="0.539" stop-color="#00ffff"/><stop offset="0.676" stop-color="#0000ff"/><stop offset="0.765" stop-color="#7600eb"/><stop offset="0.782" stop-color="#7d00d5"/><stop offset="0.818" stop-color="#8c00aa"/><stop offset="0.853" stop-color="#84007c"/></linearGradient>
<linearGradient id="g165" gradientUnits="userSpaceOnUse" x1="0" y1="289" x2="0" y2="340"><stop offset="0.000" stop-color="#800000"/><stop offset="0.000" stop-color="#ec0000"/><stop offset="0.000" stop-color="#ef0000"/><stop offset="0.045" stop-color="#ff0000"/><stop offset="0.120" stop-color="#ff8000"/><stop offset="0.214" stop-color="#ffff00"/><stop offset="0.302" stop-color="#afff00"/><stop offset="0.402" stop-color="#00ff00"/><stop offset="0.551" stop-color="#00ffff"/><stop offset="0.688" stop-color="#0000ff"/><stop offset="0.776" stop-color="#7600eb"/><stop offset="0.794" stop-color="#7d00d5"/><stop offset="0.829" stop-color="#8c00aa"/><stop offset="0.865" stop-color="#84007c"/></linearGradient>
<linearGradient id="g166" gradientUnits="userSpaceOnUse" x1="0" y1="289" x2="0" y2="340"><stop offset="0.000" stop-color="#800000"/><stop offset="0.000" stop-color="#ec0000"/><stop offset="0.000" stop-color="#ef0000"/><stop offset="0.057" stop-color="#ff0000"/><stop offset="0.131" stop-color="#ff8000"/><stop offset="0.225" stop-color="#ffff00"/><stop offset="0.313" stop-color="#afff00"/><stop offset="0.414" stop-color="#00ff00"/><stop offset="0.563" stop-color="#00ffff"/><stop offset="0.700" stop-color="#0000ff"/><stop offset="0.788" stop-color="#7600eb"/><stop offset="0.806" stop-color="#7d00d5"/><stop offset="0.841" stop-color="#8c00aa"/><stop offset="0.876" stop-color="#84007c"/></linearGradient>
<linearGradient id="g167" gradientUnits="userSpaceOnUse" x1="0" y1="289" x2="0" y2="340"><stop offset="0.000" stop-color="#800000"/><stop offset="0.000" stop-color="#ec0000"/><stop offset="0.000" stop-color="#ef0000"/><stop offset="0.069" stop-color="#ff0000"/><stop offset="0.143" stop-color="#ff8000"/><stop offset="0.237" stop-color="#ffff00"/><stop offset="0.325" stop-color="#afff00"/><stop offset="0.425" stop-color="#00ff00"/><stop offset="0.575" stop-color="#00ffff"/><stop offset="0.712" stop-color="#0000ff"/><stop offset="0.800" stop-color="#7600eb"/><stop offset="0.818" stop-color="#7d00d5"/><stop offset="0.853" stop-color="#8c00aa"/><stop offset="0.888" stop-color="#84007c"/></linearGradient>
<linearGradient id="g168" gradientUnits="userSpaceOnUse" x1="0" y1="289" x2="0" y2="340"><stop offset="0.000" stop-color="#800000"/><stop offset="0.000" stop-color="#ec0000"/><stop offset="0.000" stop-color="#ef0000"/><stop offset="0.080" stop-color="#ff0000"/><stop offset="0.155" stop-color="#ff8000"/><stop offset="0.249" stop-color="#ffff00"/><stop offset="0.337" stop-color="#afff00"/><stop offset="0.437" stop-color="#00ff00"/><stop offset="0.586" stop-color="#00ffff"/><stop offset="0.724" stop-color="#0000ff"/><stop offset="0.812" stop-color="#7600eb"/><stop offset="0.829" stop-color="#7d00d5"/><stop offset="0.865" stop-color="#8c00aa"/><stop offset="0.900" stop-color="#84007c"/></linearGradient>
<linearGradient id="g169" gradientUnits="userSpaceOnUse" x1="0" y1="289" x2="0" y2="340"><stop offset="0.000" stop-color="#800000"/><stop offset="0.000" stop-color="#ec0000"/><stop offset="0.000" stop-color="#ef0000"/><stop offset="0.092" stop-color="#ff0000"/><stop offset="0.167" stop-color="#ff8000"/><stop offset="0.261" stop-color="#ffff00"/><stop offset="0.349" stop-color="#afff00"/><stop offset="0.449" stop-color="#00ff00"/><stop offset="0.598" stop-color="#00ffff"/><stop offset="0.735" stop-color="#0000ff"/><stop offset="0.824" stop-color="#7600eb"/><stop offset="0.841" stop-color="#7d00d5"/><stop offset="0.876" stop-color="#8c00aa"/><stop offset="0.912" stop-color="#84007c"/></linearGradient>
<linearGradient id="g170" gradientUnits="userSpaceOnUse" x1="0" y1="289" x2="0" y2="340"><stop offset="0.000" stop-color="#800000"/><stop offset="0.000" stop-color="#ec0000"/><stop offset="0.000" stop-color="#ef0000"/><stop offset="0.104" stop-color="#ff0000"/><stop offset="0.178" stop-color="#ff8000"/><stop offset="0.273" stop-color="#ffff00"/><stop offset="0.360" stop-color="#afff00"/><stop offset="0.461" stop-color="#00ff00"/><stop offset="0.610" stop-color="#00ffff"/><stop offset="0.747" stop-color="#0000ff"/><stop offset="0.835" stop-color="#7600eb"/><stop offset="0.853" stop-color="#7d00d5"/><stop offset="0.888" stop-color="#8c00aa"/><stop offset="0.924" stop-color="#84007c"/></linearGradient>
<linearGradient id="g171" gradientUnits="userSpaceOnUse" x1="0" y1="289" x2="0" y2="340"><stop offset="0.000" stop-color="#800000"/><stop offset="0.000" stop-color="#ec0000"/><stop offset="0.000" stop-color="#ef0000"/><stop offset="0.116" stop-color="#ff0000"/><stop offset="0.190" stop-color="#ff8000"/><stop offset="0.284" stop-color="#ffff00"/><stop offset="0.372" stop-color="#afff00"/><stop offset="0.473" stop-color="#00ff00"/><stop offset="0.622" stop-color="#00ffff"/><stop offset="0.759" stop-color="#0000ff"/><stop offset="0.847" stop-color="#7600eb"/><stop offset="0.865" stop-color="#7d00d5"/><stop offset="0.900" stop-color="#8c00aa"/><stop offset="0.935" stop-color="#84007c"/></linearGradient>
<linearGradient id="g172" gradientUnits="userSpaceOnUse" x1="0" y1="289" x2="0" y2="340"><stop offset="0.000" stop-color="#800000"/><stop offset="0.000" stop-color="#ec0000"/><stop offset="0.000" stop-color="#ef0000"/><stop offset="0.127" stop-color="#ff0000"/><stop offset="0.202" stop-color="#ff8000"/><stop offset="0.296" stop-color="#ffff00"/><stop offset="0.384" stop-color="#afff00"/><stop offset="0.484" stop-color="#00ff00"/><stop offset="0.633" stop-color="#00ffff"/><stop offset="0.771" stop-color="#0000ff"/><stop offset="0.859" stop-color="#7600eb"/><stop offset="0.876" stop-color="#7d00d5"/><stop offset="0.912" stop-color="#8c00aa"/><stop offset="0.947" stop-color="#84007c"/></linearGradient>
<linearGradient id="finc" gradientUnits="userSpaceOnUse" x1="239.5" y1="0" x2="256" y2="0"><stop offset="0" stop-color="#ffa000"/><stop offset="0.5" stop-color="#ff7400"/><stop offset="0.74" stop-color="#ff3000"/><stop offset="0.88" stop-color="#ff0600"/><stop offset="1" stop-color="#f80000"/></linearGradient>
<clipPath id="c_c2"><polygon points="318.3,289.8 318.5,252.2 326.8,248.3 329.5,247.2 335.0,245.6 336.2,244.8 338.5,235.9 340.2,243.8 343.3,242.8 346.4,240.6 347.5,251.8 348.8,266.2 350.6,282.7 351.7,291.2"/></clipPath>
<linearGradient id="g173" gradientUnits="userSpaceOnUse" x1="0" y1="234" x2="0" y2="293"><stop offset="0.000" stop-color="#800000"/><stop offset="0.000" stop-color="#ec0000"/><stop offset="0.000" stop-color="#ef0000"/><stop offset="0.000" stop-color="#ff0000"/><stop offset="0.299" stop-color="#ff8000"/><stop offset="0.397" stop-color="#ffff00"/><stop offset="0.471" stop-color="#afff00"/><stop offset="0.556" stop-color="#00ff00"/><stop offset="0.683" stop-color="#00ffff"/><stop offset="0.797" stop-color="#0000ff"/><stop offset="0.859" stop-color="#7600eb"/><stop offset="0.872" stop-color="#7d00d5"/><stop offset="0.904" stop-color="#8c00aa"/><stop offset="0.936" stop-color="#84007c"/></linearGradient>
<linearGradient id="g174" gradientUnits="userSpaceOnUse" x1="0" y1="234" x2="0" y2="293"><stop offset="0.000" stop-color="#800000"/><stop offset="0.000" stop-color="#ec0000"/><stop offset="0.000" stop-color="#ef0000"/><stop offset="0.000" stop-color="#ff0000"/><stop offset="0.301" stop-color="#ff8000"/><stop offset="0.398" stop-color="#ffff00"/><stop offset="0.472" stop-color="#afff00"/><stop offset="0.557" stop-color="#00ff00"/><stop offset="0.684" stop-color="#00ffff"/><stop offset="0.798" stop-color="#0000ff"/><stop offset="0.860" stop-color="#7600eb"/><stop offset="0.873" stop-color="#7d00d5"/><stop offset="0.905" stop-color="#8c00aa"/><stop offset="0.937" stop-color="#84007c"/></linearGradient>
<linearGradient id="g175" gradientUnits="userSpaceOnUse" x1="0" y1="234" x2="0" y2="293"><stop offset="0.000" stop-color="#800000"/><stop offset="0.000" stop-color="#ec0000"/><stop offset="0.000" stop-color="#ef0000"/><stop offset="0.006" stop-color="#ff0000"/><stop offset="0.303" stop-color="#ff8000"/><stop offset="0.398" stop-color="#ffff00"/><stop offset="0.473" stop-color="#afff00"/><stop offset="0.558" stop-color="#00ff00"/><stop offset="0.685" stop-color="#00ffff"/><stop offset="0.799" stop-color="#0000ff"/><stop offset="0.861" stop-color="#7600eb"/><stop offset="0.873" stop-color="#7d00d5"/><stop offset="0.906" stop-color="#8c00aa"/><stop offset="0.938" stop-color="#84007c"/></linearGradient>
<linearGradient id="g176" gradientUnits="userSpaceOnUse" x1="0" y1="234" x2="0" y2="293"><stop offset="0.000" stop-color="#800000"/><stop offset="0.000" stop-color="#ec0000"/><stop offset="0.000" stop-color="#ef0000"/><stop offset="0.015" stop-color="#ff0000"/><stop offset="0.305" stop-color="#ff8000"/><stop offset="0.399" stop-color="#ffff00"/><stop offset="0.473" stop-color="#afff00"/><stop offset="0.559" stop-color="#00ff00"/><stop offset="0.686" stop-color="#00ffff"/><stop offset="0.799" stop-color="#0000ff"/><stop offset="0.862" stop-color="#7600eb"/><stop offset="0.874" stop-color="#7d00d5"/><stop offset="0.907" stop-color="#8c00aa"/><stop offset="0.939" stop-color="#84007c"/></linearGradient>
<linearGradient id="g177" gradientUnits="userSpaceOnUse" x1="0" y1="234" x2="0" y2="293"><stop offset="0.000" stop-color="#800000"/><stop offset="0.000" stop-color="#ec0000"/><stop offset="0.000" stop-color="#ef0000"/><stop offset="0.025" stop-color="#ff0000"/><stop offset="0.307" stop-color="#ff8000"/><stop offset="0.399" stop-color="#ffff00"/><stop offset="0.474" stop-color="#afff00"/><stop offset="0.560" stop-color="#00ff00"/><stop offset="0.687" stop-color="#00ffff"/><stop offset="0.800" stop-color="#0000ff"/><stop offset="0.863" stop-color="#7600eb"/><stop offset="0.875" stop-color="#7d00d5"/><stop offset="0.908" stop-color="#8c00aa"/><stop offset="0.941" stop-color="#84007c"/></linearGradient>
<linearGradient id="g178" gradientUnits="userSpaceOnUse" x1="0" y1="234" x2="0" y2="293"><stop offset="0.000" stop-color="#800000"/><stop offset="0.000" stop-color="#ec0000"/><stop offset="0.000" stop-color="#ef0000"/><stop offset="0.034" stop-color="#ff0000"/><stop offset="0.309" stop-color="#ff8000"/><stop offset="0.400" stop-color="#ffff00"/><stop offset="0.475" stop-color="#afff00"/><stop offset="0.560" stop-color="#00ff00"/><stop offset="0.688" stop-color="#00ffff"/><stop offset="0.801" stop-color="#0000ff"/><stop offset="0.864" stop-color="#7600eb"/><stop offset="0.876" stop-color="#7d00d5"/><stop offset="0.909" stop-color="#8c00aa"/><stop offset="0.942" stop-color="#84007c"/></linearGradient>
<linearGradient id="g179" gradientUnits="userSpaceOnUse" x1="0" y1="234" x2="0" y2="293"><stop offset="0.000" stop-color="#800000"/><stop offset="0.000" stop-color="#ec0000"/><stop offset="0.000" stop-color="#ef0000"/><stop offset="0.043" stop-color="#ff0000"/><stop offset="0.311" stop-color="#ff8000"/><stop offset="0.400" stop-color="#ffff00"/><stop offset="0.475" stop-color="#afff00"/><stop offset="0.561" stop-color="#00ff00"/><stop offset="0.689" stop-color="#00ffff"/><stop offset="0.802" stop-color="#0000ff"/><stop offset="0.864" stop-color="#7600eb"/><stop offset="0.877" stop-color="#7d00d5"/><stop offset="0.910" stop-color="#8c00aa"/><stop offset="0.943" stop-color="#84007c"/></linearGradient>
<linearGradient id="g180" gradientUnits="userSpaceOnUse" x1="0" y1="234" x2="0" y2="293"><stop offset="0.000" stop-color="#800000"/><stop offset="0.000" stop-color="#ec0000"/><stop offset="0.000" stop-color="#ef0000"/><stop offset="0.052" stop-color="#ff0000"/><stop offset="0.313" stop-color="#ff8000"/><stop offset="0.401" stop-color="#ffff00"/><stop offset="0.476" stop-color="#afff00"/><stop offset="0.562" stop-color="#00ff00"/><stop offset="0.689" stop-color="#00ffff"/><stop offset="0.803" stop-color="#0000ff"/><stop offset="0.865" stop-color="#7600eb"/><stop offset="0.878" stop-color="#7d00d5"/><stop offset="0.911" stop-color="#8c00aa"/><stop offset="0.944" stop-color="#84007c"/></linearGradient>
<linearGradient id="g181" gradientUnits="userSpaceOnUse" x1="0" y1="234" x2="0" y2="293"><stop offset="0.000" stop-color="#800000"/><stop offset="0.000" stop-color="#ec0000"/><stop offset="0.000" stop-color="#ef0000"/><stop offset="0.062" stop-color="#ff0000"/><stop offset="0.314" stop-color="#ff8000"/><stop offset="0.402" stop-color="#ffff00"/><stop offset="0.477" stop-color="#afff00"/><stop offset="0.563" stop-color="#00ff00"/><stop offset="0.690" stop-color="#00ffff"/><stop offset="0.803" stop-color="#0000ff"/><stop offset="0.866" stop-color="#7600eb"/><stop offset="0.879" stop-color="#7d00d5"/><stop offset="0.912" stop-color="#8c00aa"/><stop offset="0.945" stop-color="#84007c"/></linearGradient>
<linearGradient id="g182" gradientUnits="userSpaceOnUse" x1="0" y1="234" x2="0" y2="293"><stop offset="0.000" stop-color="#800000"/><stop offset="0.000" stop-color="#ec0000"/><stop offset="0.000" stop-color="#ef0000"/><stop offset="0.071" stop-color="#ff0000"/><stop offset="0.316" stop-color="#ff8000"/><stop offset="0.402" stop-color="#ffff00"/><stop offset="0.478" stop-color="#afff00"/><stop offset="0.564" stop-color="#00ff00"/><stop offset="0.691" stop-color="#00ffff"/><stop offset="0.804" stop-color="#0000ff"/><stop offset="0.867" stop-color="#7600eb"/><stop offset="0.880" stop-color="#7d00d5"/><stop offset="0.913" stop-color="#8c00aa"/><stop offset="0.946" stop-color="#84007c"/></linearGradient>
<linearGradient id="g183" gradientUnits="userSpaceOnUse" x1="0" y1="234" x2="0" y2="293"><stop offset="0.000" stop-color="#800000"/><stop offset="0.000" stop-color="#ec0000"/><stop offset="0.000" stop-color="#ef0000"/><stop offset="0.080" stop-color="#ff0000"/><stop offset="0.318" stop-color="#ff8000"/><stop offset="0.403" stop-color="#ffff00"/><stop offset="0.478" stop-color="#afff00"/><stop offset="0.564" stop-color="#00ff00"/><stop offset="0.692" stop-color="#00ffff"/><stop offset="0.805" stop-color="#0000ff"/><stop offset="0.868" stop-color="#7600eb"/><stop offset="0.881" stop-color="#7d00d5"/><stop offset="0.914" stop-color="#8c00aa"/><stop offset="0.947" stop-color="#84007c"/></linearGradient>
<linearGradient id="g184" gradientUnits="userSpaceOnUse" x1="0" y1="234" x2="0" y2="293"><stop offset="0.000" stop-color="#800000"/><stop offset="0.000" stop-color="#ec0000"/><stop offset="0.000" stop-color="#ef0000"/><stop offset="0.090" stop-color="#ff0000"/><stop offset="0.320" stop-color="#ff8000"/><stop offset="0.403" stop-color="#ffff00"/><stop offset="0.479" stop-color="#afff00"/><stop offset="0.565" stop-color="#00ff00"/><stop offset="0.693" stop-color="#00ffff"/><stop offset="0.806" stop-color="#0000ff"/><stop offset="0.869" stop-color="#7600eb"/><stop offset="0.882" stop-color="#7d00d5"/><stop offset="0.915" stop-color="#8c00aa"/><stop offset="0.948" stop-color="#84007c"/></linearGradient>
<linearGradient id="g185" gradientUnits="userSpaceOnUse" x1="0" y1="234" x2="0" y2="293"><stop offset="0.000" stop-color="#800000"/><stop offset="0.000" stop-color="#ec0000"/><stop offset="0.000" stop-color="#ef0000"/><stop offset="0.101" stop-color="#ff0000"/><stop offset="0.322" stop-color="#ff8000"/><stop offset="0.404" stop-color="#ffff00"/><stop offset="0.480" stop-color="#afff00"/><stop offset="0.566" stop-color="#00ff00"/><stop offset="0.694" stop-color="#00ffff"/><stop offset="0.807" stop-color="#0000ff"/><stop offset="0.870" stop-color="#7600eb"/><stop offset="0.882" stop-color="#7d00d5"/><stop offset="0.916" stop-color="#8c00aa"/><stop offset="0.949" stop-color="#84007c"/></linearGradient>
<linearGradient id="g186" gradientUnits="userSpaceOnUse" x1="0" y1="234" x2="0" y2="293"><stop offset="0.000" stop-color="#800000"/><stop offset="0.000" stop-color="#ec0000"/><stop offset="0.000" stop-color="#ef0000"/><stop offset="0.112" stop-color="#ff0000"/><stop offset="0.324" stop-color="#ff8000"/><stop offset="0.405" stop-color="#ffff00"/><stop offset="0.480" stop-color="#afff00"/><stop offset="0.567" stop-color="#00ff00"/><stop offset="0.694" stop-color="#00ffff"/><stop offset="0.807" stop-color="#0000ff"/><stop offset="0.871" stop-color="#7600eb"/><stop offset="0.883" stop-color="#7d00d5"/><stop offset="0.917" stop-color="#8c00aa"/><stop offset="0.950" stop-color="#84007c"/></linearGradient>
<linearGradient id="g187" gradientUnits="userSpaceOnUse" x1="0" y1="234" x2="0" y2="293"><stop offset="0.000" stop-color="#800000"/><stop offset="0.000" stop-color="#ec0000"/><stop offset="0.000" stop-color="#ef0000"/><stop offset="0.123" stop-color="#ff0000"/><stop offset="0.326" stop-color="#ff8000"/><stop offset="0.405" stop-color="#ffff00"/><stop offset="0.481" stop-color="#afff00"/><stop offset="0.567" stop-color="#00ff00"/><stop offset="0.695" stop-color="#00ffff"/><stop offset="0.808" stop-color="#0000ff"/><stop offset="0.872" stop-color="#7600eb"/><stop offset="0.884" stop-color="#7d00d5"/><stop offset="0.918" stop-color="#8c00aa"/><stop offset="0.951" stop-color="#84007c"/></linearGradient>
<linearGradient id="g188" gradientUnits="userSpaceOnUse" x1="0" y1="234" x2="0" y2="293"><stop offset="0.000" stop-color="#800000"/><stop offset="0.000" stop-color="#ec0000"/><stop offset="0.000" stop-color="#ef0000"/><stop offset="0.134" stop-color="#ff0000"/><stop offset="0.328" stop-color="#ff8000"/><stop offset="0.406" stop-color="#ffff00"/><stop offset="0.482" stop-color="#afff00"/><stop offset="0.568" stop-color="#00ff00"/><stop offset="0.696" stop-color="#00ffff"/><stop offset="0.809" stop-color="#0000ff"/><stop offset="0.872" stop-color="#7600eb"/><stop offset="0.885" stop-color="#7d00d5"/><stop offset="0.919" stop-color="#8c00aa"/><stop offset="0.953" stop-color="#84007c"/></linearGradient>
<linearGradient id="g189" gradientUnits="userSpaceOnUse" x1="0" y1="234" x2="0" y2="293"><stop offset="0.000" stop-color="#800000"/><stop offset="0.000" stop-color="#ec0000"/><stop offset="0.000" stop-color="#ef0000"/><stop offset="0.145" stop-color="#ff0000"/><stop offset="0.330" stop-color="#ff8000"/><stop offset="0.406" stop-color="#ffff00"/><stop offset="0.482" stop-color="#afff00"/><stop offset="0.569" stop-color="#00ff00"/><stop offset="0.697" stop-color="#00ffff"/><stop offset="0.810" stop-color="#0000ff"/><stop offset="0.873" stop-color="#7600eb"/><stop offset="0.886" stop-color="#7d00d5"/><stop offset="0.920" stop-color="#8c00aa"/><stop offset="0.954" stop-color="#84007c"/></linearGradient>
<linearGradient id="g190" gradientUnits="userSpaceOnUse" x1="0" y1="234" x2="0" y2="293"><stop offset="0.000" stop-color="#800000"/><stop offset="0.000" stop-color="#ec0000"/><stop offset="0.000" stop-color="#ef0000"/><stop offset="0.156" stop-color="#ff0000"/><stop offset="0.331" stop-color="#ff8000"/><stop offset="0.407" stop-color="#ffff00"/><stop offset="0.483" stop-color="#afff00"/><stop offset="0.570" stop-color="#00ff00"/><stop offset="0.698" stop-color="#00ffff"/><stop offset="0.811" stop-color="#0000ff"/><stop offset="0.874" stop-color="#7600eb"/><stop offset="0.887" stop-color="#7d00d5"/><stop offset="0.921" stop-color="#8c00aa"/><stop offset="0.955" stop-color="#84007c"/></linearGradient>
<linearGradient id="g191" gradientUnits="userSpaceOnUse" x1="0" y1="234" x2="0" y2="293"><stop offset="0.000" stop-color="#800000"/><stop offset="0.000" stop-color="#ec0000"/><stop offset="0.000" stop-color="#ef0000"/><stop offset="0.165" stop-color="#ff0000"/><stop offset="0.333" stop-color="#ff8000"/><stop offset="0.408" stop-color="#ffff00"/><stop offset="0.484" stop-color="#afff00"/><stop offset="0.571" stop-color="#00ff00"/><stop offset="0.699" stop-color="#00ffff"/><stop offset="0.811" stop-color="#0000ff"/><stop offset="0.875" stop-color="#7600eb"/><stop offset="0.888" stop-color="#7d00d5"/><stop offset="0.922" stop-color="#8c00aa"/><stop offset="0.956" stop-color="#84007c"/></linearGradient>
<linearGradient id="g192" gradientUnits="userSpaceOnUse" x1="0" y1="234" x2="0" y2="293"><stop offset="0.000" stop-color="#800000"/><stop offset="0.000" stop-color="#ec0000"/><stop offset="0.000" stop-color="#ef0000"/><stop offset="0.174" stop-color="#ff0000"/><stop offset="0.335" stop-color="#ff8000"/><stop offset="0.408" stop-color="#ffff00"/><stop offset="0.484" stop-color="#afff00"/><stop offset="0.571" stop-color="#00ff00"/><stop offset="0.700" stop-color="#00ffff"/><stop offset="0.812" stop-color="#0000ff"/><stop offset="0.876" stop-color="#7600eb"/><stop offset="0.889" stop-color="#7d00d5"/><stop offset="0.923" stop-color="#8c00aa"/><stop offset="0.957" stop-color="#84007c"/></linearGradient>
<linearGradient id="g193" gradientUnits="userSpaceOnUse" x1="0" y1="234" x2="0" y2="293"><stop offset="0.000" stop-color="#800000"/><stop offset="0.000" stop-color="#ec0000"/><stop offset="0.000" stop-color="#ef0000"/><stop offset="0.183" stop-color="#ff0000"/><stop offset="0.337" stop-color="#ff8000"/><stop offset="0.409" stop-color="#ffff00"/><stop offset="0.485" stop-color="#afff00"/><stop offset="0.572" stop-color="#00ff00"/><stop offset="0.700" stop-color="#00ffff"/><stop offset="0.813" stop-color="#0000ff"/><stop offset="0.877" stop-color="#7600eb"/><stop offset="0.890" stop-color="#7d00d5"/><stop offset="0.924" stop-color="#8c00aa"/><stop offset="0.958" stop-color="#84007c"/></linearGradient>
<linearGradient id="g194" gradientUnits="userSpaceOnUse" x1="0" y1="234" x2="0" y2="293"><stop offset="0.000" stop-color="#800000"/><stop offset="0.000" stop-color="#ec0000"/><stop offset="0.000" stop-color="#ef0000"/><stop offset="0.192" stop-color="#ff0000"/><stop offset="0.339" stop-color="#ff8000"/><stop offset="0.409" stop-color="#ffff00"/><stop offset="0.486" stop-color="#afff00"/><stop offset="0.573" stop-color="#00ff00"/><stop offset="0.701" stop-color="#00ffff"/><stop offset="0.814" stop-color="#0000ff"/><stop offset="0.878" stop-color="#7600eb"/><stop offset="0.890" stop-color="#7d00d5"/><stop offset="0.925" stop-color="#8c00aa"/><stop offset="0.959" stop-color="#84007c"/></linearGradient>
<linearGradient id="g195" gradientUnits="userSpaceOnUse" x1="0" y1="234" x2="0" y2="293"><stop offset="0.000" stop-color="#800000"/><stop offset="0.000" stop-color="#ec0000"/><stop offset="0.000" stop-color="#ef0000"/><stop offset="0.201" stop-color="#ff0000"/><stop offset="0.341" stop-color="#ff8000"/><stop offset="0.410" stop-color="#ffff00"/><stop offset="0.487" stop-color="#afff00"/><stop offset="0.574" stop-color="#00ff00"/><stop offset="0.702" stop-color="#00ffff"/><stop offset="0.815" stop-color="#0000ff"/><stop offset="0.879" stop-color="#7600eb"/><stop offset="0.891" stop-color="#7d00d5"/><stop offset="0.926" stop-color="#8c00aa"/><stop offset="0.960" stop-color="#84007c"/></linearGradient>
<linearGradient id="g196" gradientUnits="userSpaceOnUse" x1="0" y1="234" x2="0" y2="293"><stop offset="0.000" stop-color="#800000"/><stop offset="0.000" stop-color="#ec0000"/><stop offset="0.000" stop-color="#ef0000"/><stop offset="0.210" stop-color="#ff0000"/><stop offset="0.343" stop-color="#ff8000"/><stop offset="0.411" stop-color="#ffff00"/><stop offset="0.487" stop-color="#afff00"/><stop offset="0.575" stop-color="#00ff00"/><stop offset="0.703" stop-color="#00ffff"/><stop offset="0.815" stop-color="#0000ff"/><stop offset="0.879" stop-color="#7600eb"/><stop offset="0.892" stop-color="#7d00d5"/><stop offset="0.927" stop-color="#8c00aa"/><stop offset="0.961" stop-color="#84007c"/></linearGradient>
<linearGradient id="g197" gradientUnits="userSpaceOnUse" x1="0" y1="234" x2="0" y2="293"><stop offset="0.000" stop-color="#800000"/><stop offset="0.000" stop-color="#ec0000"/><stop offset="0.000" stop-color="#ef0000"/><stop offset="0.218" stop-color="#ff0000"/><stop offset="0.345" stop-color="#ff8000"/><stop offset="0.411" stop-color="#ffff00"/><stop offset="0.488" stop-color="#afff00"/><stop offset="0.575" stop-color="#00ff00"/><stop offset="0.704" stop-color="#00ffff"/><stop offset="0.816" stop-color="#0000ff"/><stop offset="0.880" stop-color="#7600eb"/><stop offset="0.893" stop-color="#7d00d5"/><stop offset="0.928" stop-color="#8c00aa"/><stop offset="0.962" stop-color="#84007c"/></linearGradient>
<linearGradient id="g198" gradientUnits="userSpaceOnUse" x1="0" y1="234" x2="0" y2="293"><stop offset="0.000" stop-color="#800000"/><stop offset="0.000" stop-color="#ec0000"/><stop offset="0.000" stop-color="#ef0000"/><stop offset="0.227" stop-color="#ff0000"/><stop offset="0.347" stop-color="#ff8000"/><stop offset="0.412" stop-color="#ffff00"/><stop offset="0.489" stop-color="#afff00"/><stop offset="0.576" stop-color="#00ff00"/><stop offset="0.705" stop-color="#00ffff"/><stop offset="0.817" stop-color="#0000ff"/><stop offset="0.881" stop-color="#7600eb"/><stop offset="0.894" stop-color="#7d00d5"/><stop offset="0.929" stop-color="#8c00aa"/><stop offset="0.964" stop-color="#84007c"/></linearGradient>
<linearGradient id="g199" gradientUnits="userSpaceOnUse" x1="0" y1="234" x2="0" y2="293"><stop offset="0.000" stop-color="#800000"/><stop offset="0.000" stop-color="#ec0000"/><stop offset="0.000" stop-color="#ef0000"/><stop offset="0.236" stop-color="#ff0000"/><stop offset="0.349" stop-color="#ff8000"/><stop offset="0.412" stop-color="#ffff00"/><stop offset="0.489" stop-color="#afff00"/><stop offset="0.577" stop-color="#00ff00"/><stop offset="0.706" stop-color="#00ffff"/><stop offset="0.818" stop-color="#0000ff"/><stop offset="0.882" stop-color="#7600eb"/><stop offset="0.895" stop-color="#7d00d5"/><stop offset="0.930" stop-color="#8c00aa"/><stop offset="0.965" stop-color="#84007c"/></linearGradient>
<linearGradient id="g200" gradientUnits="userSpaceOnUse" x1="0" y1="234" x2="0" y2="293"><stop offset="0.000" stop-color="#800000"/><stop offset="0.000" stop-color="#ec0000"/><stop offset="0.000" stop-color="#ef0000"/><stop offset="0.245" stop-color="#ff0000"/><stop offset="0.350" stop-color="#ff8000"/><stop offset="0.413" stop-color="#ffff00"/><stop offset="0.490" stop-color="#afff00"/><stop offset="0.578" stop-color="#00ff00"/><stop offset="0.706" stop-color="#00ffff"/><stop offset="0.819" stop-color="#0000ff"/><stop offset="0.883" stop-color="#7600eb"/><stop offset="0.896" stop-color="#7d00d5"/><stop offset="0.931" stop-color="#8c00aa"/><stop offset="0.966" stop-color="#84007c"/></linearGradient>
<linearGradient id="g201" gradientUnits="userSpaceOnUse" x1="0" y1="234" x2="0" y2="293"><stop offset="0.000" stop-color="#800000"/><stop offset="0.000" stop-color="#ec0000"/><stop offset="0.000" stop-color="#ef0000"/><stop offset="0.254" stop-color="#ff0000"/><stop offset="0.352" stop-color="#ff8000"/><stop offset="0.414" stop-color="#ffff00"/><stop offset="0.491" stop-color="#afff00"/><stop offset="0.579" stop-color="#00ff00"/><stop offset="0.707" stop-color="#00ffff"/><stop offset="0.819" stop-color="#0000ff"/><stop offset="0.884" stop-color="#7600eb"/><stop offset="0.897" stop-color="#7d00d5"/><stop offset="0.932" stop-color="#8c00aa"/><stop offset="0.967" stop-color="#84007c"/></linearGradient>
<linearGradient id="g202" gradientUnits="userSpaceOnUse" x1="0" y1="234" x2="0" y2="293"><stop offset="0.000" stop-color="#800000"/><stop offset="0.000" stop-color="#ec0000"/><stop offset="0.000" stop-color="#ef0000"/><stop offset="0.263" stop-color="#ff0000"/><stop offset="0.354" stop-color="#ff8000"/><stop offset="0.414" stop-color="#ffff00"/><stop offset="0.491" stop-color="#afff00"/><stop offset="0.579" stop-color="#00ff00"/><stop offset="0.708" stop-color="#00ffff"/><stop offset="0.820" stop-color="#0000ff"/><stop offset="0.885" stop-color="#7600eb"/><stop offset="0.898" stop-color="#7d00d5"/><stop offset="0.933" stop-color="#8c00aa"/><stop offset="0.968" stop-color="#84007c"/></linearGradient>
<linearGradient id="g203" gradientUnits="userSpaceOnUse" x1="0" y1="234" x2="0" y2="293"><stop offset="0.000" stop-color="#800000"/><stop offset="0.000" stop-color="#ec0000"/><stop offset="0.000" stop-color="#ef0000"/><stop offset="0.268" stop-color="#ff0000"/><stop offset="0.356" stop-color="#ff8000"/><stop offset="0.415" stop-color="#ffff00"/><stop offset="0.492" stop-color="#afff00"/><stop offset="0.580" stop-color="#00ff00"/><stop offset="0.709" stop-color="#00ffff"/><stop offset="0.821" stop-color="#0000ff"/><stop offset="0.886" stop-color="#7600eb"/><stop offset="0.899" stop-color="#7d00d5"/><stop offset="0.934" stop-color="#8c00aa"/><stop offset="0.969" stop-color="#84007c"/></linearGradient>
<linearGradient id="g204" gradientUnits="userSpaceOnUse" x1="0" y1="234" x2="0" y2="293"><stop offset="0.000" stop-color="#800000"/><stop offset="0.000" stop-color="#ec0000"/><stop offset="0.000" stop-color="#ef0000"/><stop offset="0.274" stop-color="#ff0000"/><stop offset="0.358" stop-color="#ff8000"/><stop offset="0.415" stop-color="#ffff00"/><stop offset="0.493" stop-color="#afff00"/><stop offset="0.581" stop-color="#00ff00"/><stop offset="0.710" stop-color="#00ffff"/><stop offset="0.822" stop-color="#0000ff"/><stop offset="0.886" stop-color="#7600eb"/><stop offset="0.899" stop-color="#7d00d5"/><stop offset="0.935" stop-color="#8c00aa"/><stop offset="0.970" stop-color="#84007c"/></linearGradient>
<linearGradient id="g205" gradientUnits="userSpaceOnUse" x1="0" y1="234" x2="0" y2="293"><stop offset="0.000" stop-color="#800000"/><stop offset="0.000" stop-color="#ec0000"/><stop offset="0.000" stop-color="#ef0000"/><stop offset="0.280" stop-color="#ff0000"/><stop offset="0.360" stop-color="#ff8000"/><stop offset="0.416" stop-color="#ffff00"/><stop offset="0.493" stop-color="#afff00"/><stop offset="0.582" stop-color="#00ff00"/><stop offset="0.711" stop-color="#00ffff"/><stop offset="0.823" stop-color="#0000ff"/><stop offset="0.887" stop-color="#7600eb"/><stop offset="0.900" stop-color="#7d00d5"/><stop offset="0.936" stop-color="#8c00aa"/><stop offset="0.971" stop-color="#84007c"/></linearGradient>
<linearGradient id="g206" gradientUnits="userSpaceOnUse" x1="0" y1="234" x2="0" y2="293"><stop offset="0.000" stop-color="#800000"/><stop offset="0.000" stop-color="#ec0000"/><stop offset="0.000" stop-color="#ef0000"/><stop offset="0.285" stop-color="#ff0000"/><stop offset="0.362" stop-color="#ff8000"/><stop offset="0.417" stop-color="#ffff00"/><stop offset="0.494" stop-color="#afff00"/><stop offset="0.583" stop-color="#00ff00"/><stop offset="0.711" stop-color="#00ffff"/><stop offset="0.823" stop-color="#0000ff"/><stop offset="0.888" stop-color="#7600eb"/><stop offset="0.901" stop-color="#7d00d5"/><stop offset="0.937" stop-color="#8c00aa"/><stop offset="0.972" stop-color="#84007c"/></linearGradient>
</defs>
<rect width="550" height="412" fill="#fff"/>
<g id="plot-a">
<g fill="none" stroke="#cacaca" stroke-width="0.8">
<polyline points="36.0,51.2 128.3,7.4 185.2,25.0"/>
<polyline points="128.3,7.4 128.0,73.0"/>
<polyline points="185.2,25.0 184.7,91.8"/>
<polyline points="36.0,119.0 128.0,73.0 184.7,91.8"/>
</g>
<polygon points="36.0,119.0 71.3,131.0 71.3,120.0 105.8,120.0 105.8,131.6 106.6,131.8 171.8,98.5 172.0,88.0 164.0,70.0 161.0,84.4 128.0,73.0" fill="#84007c"/>
<g clip-path="url(#c_a1)" shape-rendering="crispEdges">
<rect x="70" y="74" width="1.05" height="58" fill="url(#g1)"/>
<rect x="71" y="74" width="1.05" height="58" fill="url(#g2)"/>
<rect x="72" y="74" width="1.05" height="58" fill="url(#g3)"/>
<rect x="73" y="74" width="1.05" height="58" fill="url(#g4)"/>
<rect x="74" y="74" width="1.05" height="58" fill="url(#g5)"/>
<rect x="75" y="74" width="1.05" height="58" fill="url(#g6)"/>
<rect x="76" y="74" width="1.05" height="58" fill="url(#g7)"/>
<rect x="77" y="74" width="1.05" height="58" fill="url(#g8)"/>
<rect x="78" y="74" width="1.05" height="58" fill="url(#g9)"/>
<rect x="79" y="74" width="1.05" height="58" fill="url(#g10)"/>
<rect x="80" y="74" width="1.05" height="58" fill="url(#g11)"/>
<rect x="81" y="74" width="1.05" height="58" fill="url(#g12)"/>
<rect x="82" y="74" width="1.05" height="58" fill="url(#g13)"/>
<rect x="83" y="74" width="1.05" height="58" fill="url(#g14)"/>
<rect x="84" y="74" width="1.05" height="58" fill="url(#g15)"/>
<rect x="85" y="74" width="1.05" height="58" fill="url(#g16)"/>
<rect x="86" y="74" width="1.05" height="58" fill="url(#g17)"/>
<rect x="87" y="74" width="1.05" height="58" fill="url(#g18)"/>
<rect x="88" y="74" width="1.05" height="58" fill="url(#g19)"/>
<rect x="89" y="74" width="1.05" height="58" fill="url(#g20)"/>
<rect x="90" y="74" width="1.05" height="58" fill="url(#g21)"/>
<rect x="91" y="74" width="1.05" height="58" fill="url(#g22)"/>
<rect x="92" y="74" width="1.05" height="58" fill="url(#g23)"/>
<rect x="93" y="74" width="1.05" height="58" fill="url(#g24)"/>
<rect x="94" y="74" width="1.05" height="58" fill="url(#g25)"/>
<rect x="95" y="74" width="1.05" height="58" fill="url(#g26)"/>
<rect x="96" y="74" width="1.05" height="58" fill="url(#g27)"/>
<rect x="97" y="74" width="1.05" height="58" fill="url(#g28)"/>
<rect x="98" y="74" width="1.05" height="58" fill="url(#g29)"/>
<rect x="99" y="74" width="1.05" height="58" fill="url(#g30)"/>
<rect x="100" y="74" width="1.05" height="58" fill="url(#g31)"/>
<rect x="101" y="74" width="1.05" height="58" fill="url(#g32)"/>
<rect x="102" y="74" width="1.05" height="58" fill="url(#g33)"/>
<rect x="103" y="74" width="1.05" height="58" fill="url(#g34)"/>
<rect x="104" y="74" width="1.05" height="58" fill="url(#g35)"/>
<rect x="105" y="74" width="1.05" height="58" fill="url(#g36)"/>
<rect x="106" y="74" width="1.05" height="58" fill="url(#g37)"/>
</g>
<polygon points="86.4,92.0 93.8,99.6 106.3,93.6" fill="#ff9a28"/>
<g clip-path="url(#c_a2)" shape-rendering="crispEdges">
<rect x="161" y="30" width="1.05" height="70" fill="url(#g38)"/>
<rect x="162" y="30" width="1.05" height="70" fill="url(#g39)"/>
<rect x="163" y="30" width="1.05" height="70" fill="url(#g40)"/>
<rect x="164" y="30" width="1.05" height="70" fill="url(#g41)"/>
<rect x="165" y="30" width="1.05" height="70" fill="url(#g42)"/>
<rect x="166" y="30" width="1.05" height="70" fill="url(#g43)"/>
<rect x="167" y="30" width="1.05" height="70" fill="url(#g44)"/>
<rect x="168" y="30" width="1.05" height="70" fill="url(#g45)"/>
<rect x="169" y="30" width="1.05" height="70" fill="url(#g46)"/>
<rect x="170" y="30" width="1.05" height="70" fill="url(#g47)"/>
<rect x="171" y="30" width="1.05" height="70" fill="url(#g48)"/>
<rect x="172" y="30" width="1.05" height="70" fill="url(#g49)"/>
<rect x="173" y="30" width="1.05" height="70" fill="url(#g50)"/>
<rect x="174" y="30" width="1.05" height="70" fill="url(#g51)"/>
<rect x="175" y="30" width="1.05" height="70" fill="url(#g52)"/>
<rect x="176" y="30" width="1.05" height="70" fill="url(#g53)"/>
<rect x="177" y="30" width="1.05" height="70" fill="url(#g54)"/>
<rect x="178" y="30" width="1.05" height="70" fill="url(#g55)"/>
<rect x="179" y="30" width="1.05" height="70" fill="url(#g56)"/>
<rect x="180" y="30" width="1.05" height="70" fill="url(#g57)"/>
<rect x="181" y="30" width="1.05" height="70" fill="url(#g58)"/>
<rect x="182" y="30" width="1.05" height="70" fill="url(#g59)"/>
<rect x="183" y="30" width="1.05" height="70" fill="url(#g60)"/>
<rect x="184" y="30" width="1.05" height="70" fill="url(#g61)"/>
</g>
<g fill="none" stroke="#3a3a3a" stroke-width="0.65">
<polyline points="36.0,119.0 92.6,138.7 184.7,91.8"/>
<line x1="35.5" y1="51.2" x2="35.5" y2="119.0" stroke="#585858" stroke-width="1"/>
<line x1="35.0" y1="51.5" x2="38.4" y2="51.5" stroke="#5a5a5a" stroke-width="1"/>
<line x1="35.0" y1="85.5" x2="38.4" y2="85.5" stroke="#5a5a5a" stroke-width="1"/>
<line x1="115.6" y1="127.0" x2="115.6" y2="124.8"/>
<line x1="138.6" y1="115.2" x2="138.6" y2="113.0"/>
<line x1="161.7" y1="103.5" x2="161.7" y2="101.3"/>
<line x1="92.6" y1="138.7" x2="92.6" y2="136.5"/>
</g>
<text x="33.5" y="55.1" font-size="10.9" text-anchor="end" letter-spacing="-0.2">350</text>
<text x="33.5" y="88.9" font-size="10.9" text-anchor="end" letter-spacing="-0.2">175</text>
<text x="33.5" y="123.1" font-size="10.9" text-anchor="end" letter-spacing="-0.2">0</text>
<text transform="translate(11.2,80.6) rotate(-90)" font-size="10.3" text-anchor="middle">Pressure/MPa</text>
<text x="41.3" y="131.9" font-size="11" text-anchor="end" letter-spacing="-0.15">−12.5</text>
<text x="63.6" y="142.3" font-size="10.8" text-anchor="end" letter-spacing="-0.15">0.5</text>
<text x="95.2" y="150.4" font-size="10.7" text-anchor="end" letter-spacing="-0.15">12.5</text>
<text x="98.2" y="150.4" font-size="10.7" text-anchor="start" letter-spacing="-0.15">0</text>
<text x="118.4" y="138.6" font-size="10.7" text-anchor="start" letter-spacing="-0.15">90</text>
<text x="140.2" y="127.0" font-size="10.7" text-anchor="start" letter-spacing="-0.15">180</text>
<text x="162.3" y="115.2" font-size="10.7" text-anchor="start" letter-spacing="-0.15">270</text>
<text x="184.7" y="103.6" font-size="10.7" text-anchor="start" letter-spacing="-0.15">360</text>
<text transform="matrix(0.990,0.322,-0.660,0.500,4.6,135.3)" font-size="11.5" letter-spacing="-0.33" word-spacing="0.6" stroke="#111" stroke-width="0.15">Bearing width/mm</text>
<text transform="matrix(0.812,-0.374,0.680,0.510,137.8,147.4)" font-size="12" letter-spacing="-0.6" word-spacing="-1.5" stroke="#111" stroke-width="0.12">Bearing angle/°</text>
<rect x="191.0" y="25.3" width="4.0" height="67.2" fill="url(#cbar)"/>
<g stroke="#3a3a3a" stroke-width="0.8">
<line x1="195.3" y1="25.6" x2="197.6" y2="25.6"/>
<line x1="195.3" y1="59.0" x2="197.6" y2="59.0"/>
<line x1="195.3" y1="92.0" x2="197.6" y2="92.0"/>
</g>
<text x="200.9" y="29.3" font-size="10.9" text-anchor="start" letter-spacing="-0.2">350</text>
<text x="200.9" y="62.7" font-size="10.9" text-anchor="start" letter-spacing="-0.2">175</text>
<text x="200.9" y="95.7" font-size="10.9" text-anchor="start" letter-spacing="-0.2">0</text>
<text x="162.6" y="14.5" font-size="10.7" text-anchor="start">Pressure/MPa</text>
</g>
<g id="plot-b">
<g fill="none" stroke="#cacaca" stroke-width="0.8">
<polyline points="360.6,51.2 452.9,7.4 509.8,25.0"/>
<polyline points="452.9,7.4 452.6,73.0"/>
<polyline points="509.8,25.0 509.3,91.8"/>
<polyline points="360.6,119.0 452.6,73.0 509.3,91.8"/>
</g>
<polygon points="360.6,119.0 417.2,138.7 449.4,122.4 449.5,98.0 474.0,98.0 478.3,107.7 509.3,91.8 452.6,73.0" fill="#84007c"/>
<g clip-path="url(#c_b2)" shape-rendering="crispEdges">
<rect x="448" y="46" width="1.05" height="77" fill="url(#g62)"/>
<rect x="449" y="46" width="1.05" height="77" fill="url(#g63)"/>
<rect x="450" y="46" width="1.05" height="77" fill="url(#g64)"/>
<rect x="451" y="46" width="1.05" height="77" fill="url(#g65)"/>
<rect x="452" y="46" width="1.05" height="77" fill="url(#g66)"/>
<rect x="453" y="46" width="1.05" height="77" fill="url(#g67)"/>
<rect x="454" y="46" width="1.05" height="77" fill="url(#g68)"/>
<rect x="455" y="46" width="1.05" height="77" fill="url(#g69)"/>
<rect x="456" y="46" width="1.05" height="77" fill="url(#g70)"/>
<rect x="457" y="46" width="1.05" height="77" fill="url(#g71)"/>
<rect x="458" y="46" width="1.05" height="77" fill="url(#g72)"/>
<rect x="459" y="46" width="1.05" height="77" fill="url(#g73)"/>
<rect x="460" y="46" width="1.05" height="77" fill="url(#g74)"/>
<rect x="461" y="46" width="1.05" height="77" fill="url(#g75)"/>
<rect x="462" y="46" width="1.05" height="77" fill="url(#g76)"/>
<rect x="463" y="46" width="1.05" height="77" fill="url(#g77)"/>
<rect x="464" y="46" width="1.05" height="77" fill="url(#g78)"/>
<rect x="465" y="46" width="1.05" height="77" fill="url(#g79)"/>
<rect x="466" y="46" width="1.05" height="77" fill="url(#g80)"/>
<rect x="467" y="46" width="1.05" height="77" fill="url(#g81)"/>
<rect x="468" y="46" width="1.05" height="77" fill="url(#g82)"/>
<rect x="469" y="46" width="1.05" height="77" fill="url(#g83)"/>
<rect x="470" y="46" width="1.05" height="77" fill="url(#g84)"/>
<rect x="471" y="46" width="1.05" height="77" fill="url(#g85)"/>
<rect x="472" y="46" width="1.05" height="77" fill="url(#g86)"/>
<rect x="473" y="46" width="1.05" height="77" fill="url(#g87)"/>
<rect x="474" y="46" width="1.05" height="77" fill="url(#g88)"/>
<rect x="475" y="46" width="1.05" height="77" fill="url(#g89)"/>
<rect x="476" y="46" width="1.05" height="77" fill="url(#g90)"/>
<rect x="477" y="46" width="1.05" height="77" fill="url(#g91)"/>
<rect x="478" y="46" width="1.05" height="77" fill="url(#g92)"/>
</g>
<g clip-path="url(#c_b1)" shape-rendering="crispEdges">
<rect x="390" y="39" width="1.05" height="90" fill="url(#g93)"/>
<rect x="391" y="39" width="1.05" height="90" fill="url(#g94)"/>
<rect x="392" y="39" width="1.05" height="90" fill="url(#g95)"/>
<rect x="393" y="39" width="1.05" height="90" fill="url(#g96)"/>
<rect x="394" y="39" width="1.05" height="90" fill="url(#g97)"/>
<rect x="395" y="39" width="1.05" height="90" fill="url(#g98)"/>
<rect x="396" y="39" width="1.05" height="90" fill="url(#g99)"/>
<rect x="397" y="39" width="1.05" height="90" fill="url(#g100)"/>
<rect x="398" y="39" width="1.05" height="90" fill="url(#g101)"/>
<rect x="399" y="39" width="1.05" height="90" fill="url(#g102)"/>
<rect x="400" y="39" width="1.05" height="90" fill="url(#g103)"/>
<rect x="401" y="39" width="1.05" height="90" fill="url(#g104)"/>
<rect x="402" y="39" width="1.05" height="90" fill="url(#g105)"/>
<rect x="403" y="39" width="1.05" height="90" fill="url(#g106)"/>
<rect x="404" y="39" width="1.05" height="90" fill="url(#g107)"/>
<rect x="405" y="39" width="1.05" height="90" fill="url(#g108)"/>
<rect x="406" y="39" width="1.05" height="90" fill="url(#g109)"/>
<rect x="407" y="39" width="1.05" height="90" fill="url(#g110)"/>
<rect x="408" y="39" width="1.05" height="90" fill="url(#g111)"/>
<rect x="409" y="39" width="1.05" height="90" fill="url(#g112)"/>
<rect x="410" y="39" width="1.05" height="90" fill="url(#g113)"/>
<rect x="411" y="39" width="1.05" height="90" fill="url(#g114)"/>
<rect x="412" y="39" width="1.05" height="90" fill="url(#g115)"/>
<rect x="413" y="39" width="1.05" height="90" fill="url(#g116)"/>
<rect x="414" y="39" width="1.05" height="90" fill="url(#g117)"/>
<rect x="415" y="39" width="1.05" height="90" fill="url(#g118)"/>
<rect x="416" y="39" width="1.05" height="90" fill="url(#g119)"/>
<rect x="417" y="39" width="1.05" height="90" fill="url(#g120)"/>
<rect x="418" y="39" width="1.05" height="90" fill="url(#g121)"/>
<rect x="419" y="39" width="1.05" height="90" fill="url(#g122)"/>
<rect x="420" y="39" width="1.05" height="90" fill="url(#g123)"/>
<rect x="421" y="39" width="1.05" height="90" fill="url(#g124)"/>
<rect x="422" y="39" width="1.05" height="90" fill="url(#g125)"/>
<rect x="423" y="39" width="1.05" height="90" fill="url(#g126)"/>
<rect x="424" y="39" width="1.05" height="90" fill="url(#g127)"/>
<rect x="425" y="39" width="1.05" height="90" fill="url(#g128)"/>
<rect x="426" y="39" width="1.05" height="90" fill="url(#g129)"/>
<rect x="427" y="39" width="1.05" height="90" fill="url(#g130)"/>
<rect x="428" y="39" width="1.05" height="90" fill="url(#g131)"/>
<rect x="429" y="39" width="1.05" height="90" fill="url(#g132)"/>
<rect x="430" y="39" width="1.05" height="90" fill="url(#g133)"/>
<rect x="431" y="39" width="1.05" height="90" fill="url(#g134)"/>
<rect x="432" y="39" width="1.05" height="90" fill="url(#g135)"/>
<rect x="433" y="39" width="1.05" height="90" fill="url(#g136)"/>
<rect x="434" y="39" width="1.05" height="90" fill="url(#g137)"/>
<rect x="435" y="39" width="1.05" height="90" fill="url(#g138)"/>
<rect x="436" y="39" width="1.05" height="90" fill="url(#g139)"/>
<rect x="437" y="39" width="1.05" height="90" fill="url(#g140)"/>
<rect x="438" y="39" width="1.05" height="90" fill="url(#g141)"/>
<rect x="439" y="39" width="1.05" height="90" fill="url(#g142)"/>
<rect x="440" y="39" width="1.05" height="90" fill="url(#g143)"/>
<rect x="441" y="39" width="1.05" height="90" fill="url(#g144)"/>
<rect x="442" y="39" width="1.05" height="90" fill="url(#g145)"/>
<rect x="443" y="39" width="1.05" height="90" fill="url(#g146)"/>
<rect x="444" y="39" width="1.05" height="90" fill="url(#g147)"/>
<rect x="445" y="39" width="1.05" height="90" fill="url(#g148)"/>
<rect x="446" y="39" width="1.05" height="90" fill="url(#g149)"/>
<rect x="447" y="39" width="1.05" height="90" fill="url(#g150)"/>
<rect x="448" y="39" width="1.05" height="90" fill="url(#g151)"/>
<rect x="449" y="39" width="1.05" height="90" fill="url(#g152)"/>
</g>
<g fill="none" stroke="#3a3a3a" stroke-width="0.65">
<polyline points="360.6,119.0 417.2,138.7 509.3,91.8"/>
<line x1="360.1" y1="51.2" x2="360.1" y2="119.0" stroke="#585858" stroke-width="1"/>
<line x1="359.6" y1="51.5" x2="363.0" y2="51.5" stroke="#5a5a5a" stroke-width="1"/>
<line x1="359.6" y1="85.5" x2="363.0" y2="85.5" stroke="#5a5a5a" stroke-width="1"/>
<line x1="440.2" y1="127.0" x2="440.2" y2="124.8"/>
<line x1="463.2" y1="115.2" x2="463.2" y2="113.0"/>
<line x1="486.3" y1="103.5" x2="486.3" y2="101.3"/>
<line x1="417.2" y1="138.7" x2="417.2" y2="136.5"/>
</g>
<text x="358.1" y="55.1" font-size="10.9" text-anchor="end" letter-spacing="-0.2">350</text>
<text x="358.1" y="88.9" font-size="10.9" text-anchor="end" letter-spacing="-0.2">175</text>
<text x="358.1" y="123.1" font-size="10.9" text-anchor="end" letter-spacing="-0.2">0</text>
<text transform="translate(335.8,80.6) rotate(-90)" font-size="10.3" text-anchor="middle">Pressure/MPa</text>
<text x="365.9" y="131.9" font-size="11" text-anchor="end" letter-spacing="-0.15">−12.5</text>
<text x="388.2" y="142.3" font-size="10.8" text-anchor="end" letter-spacing="-0.15">0.5</text>
<text x="419.8" y="150.4" font-size="10.7" text-anchor="end" letter-spacing="-0.15">12.5</text>
<text x="422.8" y="150.4" font-size="10.7" text-anchor="start" letter-spacing="-0.15">0</text>
<text x="443.0" y="138.6" font-size="10.7" text-anchor="start" letter-spacing="-0.15">90</text>
<text x="464.8" y="127.0" font-size="10.7" text-anchor="start" letter-spacing="-0.15">180</text>
<text x="486.9" y="115.2" font-size="10.7" text-anchor="start" letter-spacing="-0.15">270</text>
<text x="509.3" y="103.6" font-size="10.7" text-anchor="start" letter-spacing="-0.15">360</text>
<text transform="matrix(0.990,0.322,-0.660,0.500,329.2,135.3)" font-size="11.5" letter-spacing="-0.33" word-spacing="0.6" stroke="#111" stroke-width="0.15">Bearing width/mm</text>
<text transform="matrix(0.812,-0.374,0.680,0.510,462.4,147.4)" font-size="12" letter-spacing="-0.6" word-spacing="-1.5" stroke="#111" stroke-width="0.12">Bearing angle/°</text>
<rect x="515.6" y="25.3" width="4.0" height="67.2" fill="url(#cbar)"/>
<g stroke="#3a3a3a" stroke-width="0.8">
<line x1="519.9" y1="25.6" x2="522.2" y2="25.6"/>
<line x1="519.9" y1="59.0" x2="522.2" y2="59.0"/>
<line x1="519.9" y1="92.0" x2="522.2" y2="92.0"/>
</g>
<text x="525.5" y="29.3" font-size="10.9" text-anchor="start" letter-spacing="-0.2">350</text>
<text x="525.5" y="62.7" font-size="10.9" text-anchor="start" letter-spacing="-0.2">175</text>
<text x="525.5" y="95.7" font-size="10.9" text-anchor="start" letter-spacing="-0.2">0</text>
<text x="487.2" y="14.5" font-size="10.7" text-anchor="start">Pressure/MPa</text>
</g>
<g id="plot-c">
<g fill="none" stroke="#cacaca" stroke-width="0.8">
<polyline points="238.0,262.2 330.3,218.4 387.2,236.0"/>
<polyline points="330.3,218.4 330.0,284.0"/>
<polyline points="387.2,236.0 386.7,302.8"/>
<polyline points="238.0,330.0 330.0,284.0 386.7,302.8"/>
</g>
<polygon points="261.4,318.6 261.4,338.0 294.6,349.7 386.7,302.8 351.5,291.0 340.0,280.0 319.0,280.0 318.6,289.9" fill="#84007c"/>
<g clip-path="url(#c_c1)" shape-rendering="crispEdges">
<rect x="250" y="288" width="1.05" height="51" fill="url(#g153)"/>
<rect x="251" y="288" width="1.05" height="51" fill="url(#g154)"/>
<rect x="252" y="288" width="1.05" height="51" fill="url(#g155)"/>
<rect x="253" y="288" width="1.05" height="51" fill="url(#g156)"/>
<rect x="254" y="288" width="1.05" height="51" fill="url(#g157)"/>
<rect x="255" y="288" width="1.05" height="51" fill="url(#g158)"/>
<rect x="256" y="288" width="1.05" height="51" fill="url(#g159)"/>
<rect x="257" y="288" width="1.05" height="51" fill="url(#g160)"/>
<rect x="258" y="288" width="1.05" height="51" fill="url(#g161)"/>
<rect x="259" y="288" width="1.05" height="51" fill="url(#g162)"/>
<rect x="260" y="288" width="1.05" height="51" fill="url(#g163)"/>
</g>
<g clip-path="url(#c_c1b)" shape-rendering="crispEdges">
<rect x="254" y="289" width="1.05" height="51" fill="url(#g164)"/>
<rect x="255" y="289" width="1.05" height="51" fill="url(#g165)"/>
<rect x="256" y="289" width="1.05" height="51" fill="url(#g166)"/>
<rect x="257" y="289" width="1.05" height="51" fill="url(#g167)"/>
<rect x="258" y="289" width="1.05" height="51" fill="url(#g168)"/>
<rect x="259" y="289" width="1.05" height="51" fill="url(#g169)"/>
<rect x="260" y="289" width="1.05" height="51" fill="url(#g170)"/>
<rect x="261" y="289" width="1.05" height="51" fill="url(#g171)"/>
<rect x="262" y="289" width="1.05" height="51" fill="url(#g172)"/>
</g>
<polygon points="239.6,290.7 245.0,288.0 250.6,285.2 253.2,284.0 255.7,282.0 256.9,285.3 258.0,291.3 255.0,292.4 250.9,290.5 245.0,290.7" fill="url(#finc)"/>
<g clip-path="url(#c_c2)" shape-rendering="crispEdges">
<rect x="318" y="234" width="1.05" height="59" fill="url(#g173)"/>
<rect x="319" y="234" width="1.05" height="59" fill="url(#g174)"/>
<rect x="320" y="234" width="1.05" height="59" fill="url(#g175)"/>
<rect x="321" y="234" width="1.05" height="59" fill="url(#g176)"/>
<rect x="322" y="234" width="1.05" height="59" fill="url(#g177)"/>
<rect x="323" y="234" width="1.05" height="59" fill="url(#g178)"/>
<rect x="324" y="234" width="1.05" height="59" fill="url(#g179)"/>
<rect x="325" y="234" width="1.05" height="59" fill="url(#g180)"/>
<rect x="326" y="234" width="1.05" height="59" fill="url(#g181)"/>
<rect x="327" y="234" width="1.05" height="59" fill="url(#g182)"/>
<rect x="328" y="234" width="1.05" height="59" fill="url(#g183)"/>
<rect x="329" y="234" width="1.05" height="59" fill="url(#g184)"/>
<rect x="330" y="234" width="1.05" height="59" fill="url(#g185)"/>
<rect x="331" y="234" width="1.05" height="59" fill="url(#g186)"/>
<rect x="332" y="234" width="1.05" height="59" fill="url(#g187)"/>
<rect x="333" y="234" width="1.05" height="59" fill="url(#g188)"/>
<rect x="334" y="234" width="1.05" height="59" fill="url(#g189)"/>
<rect x="335" y="234" width="1.05" height="59" fill="url(#g190)"/>
<rect x="336" y="234" width="1.05" height="59" fill="url(#g191)"/>
<rect x="337" y="234" width="1.05" height="59" fill="url(#g192)"/>
<rect x="338" y="234" width="1.05" height="59" fill="url(#g193)"/>
<rect x="339" y="234" width="1.05" height="59" fill="url(#g194)"/>
<rect x="340" y="234" width="1.05" height="59" fill="url(#g195)"/>
<rect x="341" y="234" width="1.05" height="59" fill="url(#g196)"/>
<rect x="342" y="234" width="1.05" height="59" fill="url(#g197)"/>
<rect x="343" y="234" width="1.05" height="59" fill="url(#g198)"/>
<rect x="344" y="234" width="1.05" height="59" fill="url(#g199)"/>
<rect x="345" y="234" width="1.05" height="59" fill="url(#g200)"/>
<rect x="346" y="234" width="1.05" height="59" fill="url(#g201)"/>
<rect x="347" y="234" width="1.05" height="59" fill="url(#g202)"/>
<rect x="348" y="234" width="1.05" height="59" fill="url(#g203)"/>
<rect x="349" y="234" width="1.05" height="59" fill="url(#g204)"/>
<rect x="350" y="234" width="1.05" height="59" fill="url(#g205)"/>
<rect x="351" y="234" width="1.05" height="59" fill="url(#g206)"/>
</g>
<g fill="none" stroke="#3a3a3a" stroke-width="0.65">
<polyline points="238.0,330.0 294.6,349.7 386.7,302.8"/>
<line x1="237.5" y1="262.2" x2="237.5" y2="330.0" stroke="#585858" stroke-width="1"/>
<line x1="237.0" y1="262.5" x2="240.4" y2="262.5" stroke="#5a5a5a" stroke-width="1"/>
<line x1="237.0" y1="296.5" x2="240.4" y2="296.5" stroke="#5a5a5a" stroke-width="1"/>
<line x1="317.6" y1="338.0" x2="317.6" y2="335.8"/>
<line x1="340.6" y1="326.2" x2="340.6" y2="324.1"/>
<line x1="363.7" y1="314.5" x2="363.7" y2="312.3"/>
<line x1="294.6" y1="349.7" x2="294.6" y2="347.5"/>
</g>
<text x="235.5" y="266.1" font-size="10.9" text-anchor="end" letter-spacing="-0.2">350</text>
<text x="235.5" y="299.9" font-size="10.9" text-anchor="end" letter-spacing="-0.2">175</text>
<text x="235.5" y="334.1" font-size="10.9" text-anchor="end" letter-spacing="-0.2">0</text>
<text transform="translate(213.2,291.6) rotate(-90)" font-size="10.3" text-anchor="middle">Pressure/MPa</text>
<text x="243.3" y="342.9" font-size="11" text-anchor="end" letter-spacing="-0.15">−12.5</text>
<text x="265.6" y="353.3" font-size="10.8" text-anchor="end" letter-spacing="-0.15">0.5</text>
<text x="297.2" y="361.4" font-size="10.7" text-anchor="end" letter-spacing="-0.15">12.5</text>
<text x="300.2" y="361.4" font-size="10.7" text-anchor="start" letter-spacing="-0.15">0</text>
<text x="320.4" y="349.6" font-size="10.7" text-anchor="start" letter-spacing="-0.15">90</text>
<text x="342.2" y="338.0" font-size="10.7" text-anchor="start" letter-spacing="-0.15">180</text>
<text x="364.3" y="326.2" font-size="10.7" text-anchor="start" letter-spacing="-0.15">270</text>
<text x="386.7" y="314.6" font-size="10.7" text-anchor="start" letter-spacing="-0.15">360</text>
<text transform="matrix(0.990,0.322,-0.660,0.500,206.6,346.3)" font-size="11.5" letter-spacing="-0.33" word-spacing="0.6" stroke="#111" stroke-width="0.15">Bearing width/mm</text>
<text transform="matrix(0.812,-0.374,0.680,0.510,339.8,358.4)" font-size="12" letter-spacing="-0.6" word-spacing="-1.5" stroke="#111" stroke-width="0.12">Bearing angle/°</text>
<rect x="393.0" y="236.3" width="4.0" height="67.2" fill="url(#cbar)"/>
<g stroke="#3a3a3a" stroke-width="0.8">
<line x1="397.3" y1="236.6" x2="399.6" y2="236.6"/>
<line x1="397.3" y1="270.0" x2="399.6" y2="270.0"/>
<line x1="397.3" y1="303.0" x2="399.6" y2="303.0"/>
</g>
<text x="402.9" y="240.3" font-size="10.9" text-anchor="start" letter-spacing="-0.2">350</text>
<text x="402.9" y="273.7" font-size="10.9" text-anchor="start" letter-spacing="-0.2">175</text>
<text x="402.9" y="306.7" font-size="10.9" text-anchor="start" letter-spacing="-0.2">0</text>
<text x="364.6" y="225.5" font-size="10.7" text-anchor="start">Pressure/MPa</text>
</g>
<g id="captions"><text x="151.2" y="194.8" font-size="15.5" text-anchor="middle" letter-spacing="-0.3">(<tspan font-weight="bold" font-size="14.5">a</tspan>)</text><text x="475.0" y="194.8" font-size="15.5" text-anchor="middle" letter-spacing="-0.3">(<tspan font-weight="bold" font-size="14.5">b</tspan>)</text><text x="313.5" y="405.8" font-size="15.5" text-anchor="middle" letter-spacing="-0.3">(<tspan font-weight="bold" font-size="14.5">c</tspan>)</text></g>
</svg>
</body>
</html>
